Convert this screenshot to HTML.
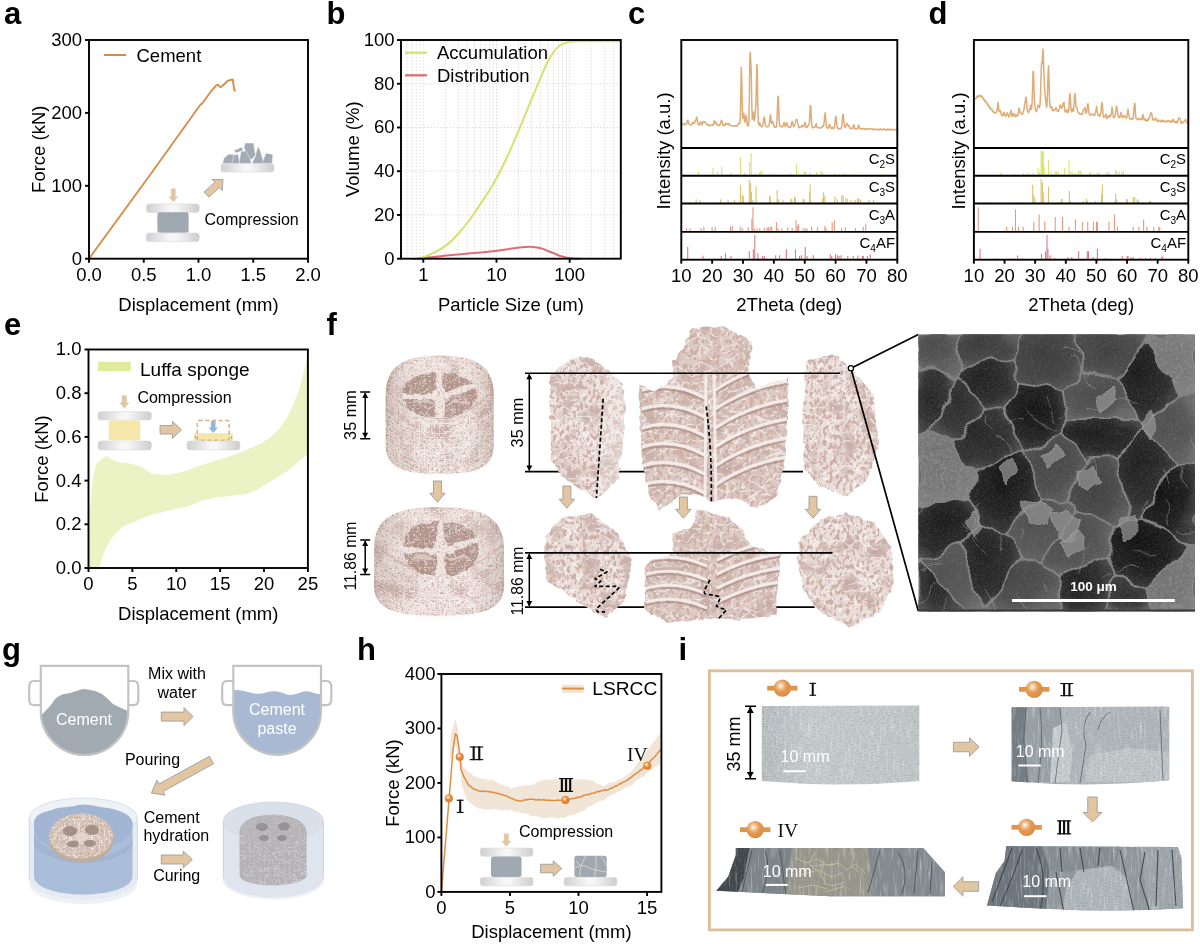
<!DOCTYPE html>
<html><head><meta charset="utf-8"><style>
html,body{margin:0;padding:0;background:#fff;width:1200px;height:944px;overflow:hidden}
svg{display:block;will-change:transform}
text{font-family:"Liberation Sans",sans-serif}
</style></head><body>
<svg width="1200" height="944" viewBox="0 0 1200 944">
<defs>
<linearGradient id="plg" x1="0" x2="1" y1="0" y2="0"><stop offset="0" stop-color="#cfcfcf"/><stop offset="0.45" stop-color="#f7f7f7"/><stop offset="0.55" stop-color="#f7f7f7"/><stop offset="1" stop-color="#cdcdcd"/></linearGradient>
<radialGradient id="ballg" cx="0.4" cy="0.36" r="0.62"><stop offset="0" stop-color="#fffaf3"/><stop offset="0.28" stop-color="#f6c08a"/><stop offset="0.5" stop-color="#ec8a3a"/><stop offset="1" stop-color="#e27a2c"/></radialGradient>
<filter id="fTexL" x="0" y="0" width="100%" height="100%"><feTurbulence type="fractalNoise" baseFrequency="0.9" numOctaves="2" seed="3"/><feColorMatrix type="matrix" values="0 0 0 0 0.62  0 0 0 0 0.52  0 0 0 0 0.49  0 0 0 -1.6 1.25"/></filter>
<pattern id="luffaTex" patternUnits="userSpaceOnUse" width="300" height="300"><rect width="300" height="300" fill="#d9cbc0"/><rect width="300" height="300" filter="url(#fTexL)"/></pattern>
<filter id="fTexG" x="0" y="0" width="100%" height="100%"><feTurbulence type="fractalNoise" baseFrequency="0.9" numOctaves="2" seed="5"/><feColorMatrix type="matrix" values="0 0 0 0 0.45  0 0 0 0 0.44  0 0 0 0 0.45  0 0 0 -1.6 1.25"/></filter>
<pattern id="greyTex" patternUnits="userSpaceOnUse" width="300" height="300"><rect width="300" height="300" fill="#b3afb1"/><rect width="300" height="300" filter="url(#fTexG)"/></pattern>
<radialGradient id="ballg2" cx="0.4" cy="0.36" r="0.62"><stop offset="0" stop-color="#fffaf3"/><stop offset="0.25" stop-color="#f3c79a"/><stop offset="0.55" stop-color="#e39a52"/><stop offset="1" stop-color="#dc8d45"/></radialGradient>
<filter id="fTexC" x="0" y="0" width="100%" height="100%"><feTurbulence type="fractalNoise" baseFrequency="0.35 0.9" numOctaves="3" seed="8"/><feColorMatrix type="matrix" values="0 0 0 0 0.2  0 0 0 0 0.22  0 0 0 0 0.24  0 0 0 -2.2 1.3"/></filter>
<pattern id="concTex" patternUnits="userSpaceOnUse" width="500" height="300"><rect width="500" height="300" filter="url(#fTexC)"/></pattern>
<linearGradient id="g1" x1="0" x2="1"><stop offset="0" stop-color="#b9bfc2"/><stop offset="0.3" stop-color="#c9cfd1"/><stop offset="1" stop-color="#c3c9cb"/></linearGradient>
<linearGradient id="g2" x1="0" x2="1"><stop offset="0" stop-color="#8e979d"/><stop offset="0.15" stop-color="#a9b2b7"/><stop offset="0.5" stop-color="#b9c1c5"/><stop offset="1" stop-color="#bcc4c7"/></linearGradient>
<linearGradient id="g3" x1="0" x2="1"><stop offset="0" stop-color="#7e878d"/><stop offset="0.4" stop-color="#959ea3"/><stop offset="0.7" stop-color="#a2aaae"/><stop offset="1" stop-color="#8f989d"/></linearGradient>
<linearGradient id="g4" x1="0" x2="1"><stop offset="0" stop-color="#6f767b"/><stop offset="0.3" stop-color="#8c9397"/><stop offset="0.6" stop-color="#98999a"/><stop offset="1" stop-color="#7f878c"/></linearGradient>
<filter id="fDark" x="0" y="0" width="1" height="1"><feTurbulence type="turbulence" baseFrequency="0.22" numOctaves="2" seed="2"/><feColorMatrix type="matrix" values="0 0 0 0 0.58  0 0 0 0 0.44  0 0 0 0 0.42  5.5 0 0 0 -1.2"/><feComposite in2="SourceAlpha" operator="in"/></filter>
<filter id="fLight" x="0" y="0" width="1" height="1"><feTurbulence type="turbulence" baseFrequency="0.14 0.2" numOctaves="2" seed="7"/><feColorMatrix type="matrix" values="0 0 0 0 0.97  0 0 0 0 0.95  0 0 0 0 0.94  -8 0 0 0 1.3"/><feComposite in2="SourceAlpha" operator="in"/></filter>
<linearGradient id="cylShade" x1="0" x2="1" y1="0" y2="0"><stop offset="0" stop-color="#7a5a52" stop-opacity="0.25"/><stop offset="0.3" stop-color="#7a5a52" stop-opacity="0"/><stop offset="0.75" stop-color="#7a5a52" stop-opacity="0"/><stop offset="1" stop-color="#7a5a52" stop-opacity="0.25"/></linearGradient>
<radialGradient id="semCell" cx="0.5" cy="0.5" r="0.62" fx="0.4" fy="0.62"><stop offset="0" stop-color="#0c0c0c"/><stop offset="0.5" stop-color="#1e1e1e"/><stop offset="0.8" stop-color="#3c3c3c"/><stop offset="1" stop-color="#686868"/></radialGradient>
<filter id="fDeb" x="-0.2" y="-0.2" width="1.4" height="1.4"><feTurbulence type="fractalNoise" baseFrequency="0.15" numOctaves="3" seed="4" result="n"/><feDisplacementMap in="SourceGraphic" in2="n" scale="10"/></filter>
<filter id="fGrain" x="0" y="0" width="1" height="1"><feTurbulence type="fractalNoise" baseFrequency="0.6" numOctaves="2" seed="9"/><feColorMatrix type="matrix" values="0 0 0 0 0.5  0 0 0 0 0.5  0 0 0 0 0.5  1.2 0 0 0 -0.45"/><feComposite in2="SourceAlpha" operator="in"/></filter>
<filter id="fDarkG" x="0" y="0" width="1" height="1"><feTurbulence type="turbulence" baseFrequency="0.25" numOctaves="2" seed="12"/><feColorMatrix type="matrix" values="0 0 0 0 0.45  0 0 0 0 0.43  0 0 0 0 0.45  5.5 0 0 0 -1.2"/><feComposite in2="SourceAlpha" operator="in"/></filter>
<filter id="fLightG" x="0" y="0" width="1" height="1"><feTurbulence type="turbulence" baseFrequency="0.16 0.22" numOctaves="2" seed="17"/><feColorMatrix type="matrix" values="0 0 0 0 0.82  0 0 0 0 0.81  0 0 0 0 0.82  -8 0 0 0 1.3"/><feComposite in2="SourceAlpha" operator="in"/></filter>
<filter id="fDebTex" x="0" y="0" width="1" height="1"><feTurbulence type="fractalNoise" baseFrequency="0.35" numOctaves="3" seed="14"/><feColorMatrix type="matrix" values="0 0 0 0 0.35  0 0 0 0 0.35  0 0 0 0 0.35  2.2 0 0 0 -0.95"/><feComposite in2="SourceAlpha" operator="in"/></filter>
<filter id="fWarp" x="-0.05" y="-0.05" width="1.1" height="1.1"><feTurbulence type="fractalNoise" baseFrequency="0.035" numOctaves="2" seed="6" result="w"/><feDisplacementMap in="SourceGraphic" in2="w" scale="18" xChannelSelector="R" yChannelSelector="G"/></filter>
<filter id="fHoles" x="0" y="0" width="1" height="1"><feTurbulence type="fractalNoise" baseFrequency="0.3 0.2" numOctaves="2" seed="2"/><feColorMatrix type="matrix" values="0 0 0 0 0.62  0 0 0 0 0.43  0 0 0 0 0.39  10 0 0 0 -5.0"/><feComposite in2="SourceAlpha" operator="in"/></filter>
<filter id="fShade" x="0" y="0" width="1" height="1"><feTurbulence type="fractalNoise" baseFrequency="0.05" numOctaves="2" seed="5"/><feColorMatrix type="matrix" values="0 0 0 0 0.55  0 0 0 0 0.40  0 0 0 0 0.37  3 0 0 0 -1.4"/><feComposite in2="SourceAlpha" operator="in"/></filter>
<filter id="fStr" x="0" y="0" width="1" height="1"><feTurbulence type="turbulence" baseFrequency="0.09 0.12" numOctaves="2" seed="9"/><feColorMatrix type="matrix" values="0 0 0 0 0.99  0 0 0 0 0.98  0 0 0 0 0.98  -10 0 0 0 1.6"/><feComposite in2="SourceAlpha" operator="in"/></filter>
<filter id="fStreak" x="0" y="0" width="1" height="1"><feTurbulence type="fractalNoise" baseFrequency="0.45 0.05" numOctaves="2" seed="21"/><feColorMatrix type="matrix" values="0 0 0 0 0.92  0 0 0 0 0.94  0 0 0 0 0.95  2.6 0 0 0 -1.35"/><feComposite in2="SourceAlpha" operator="in"/></filter>
<filter id="fHolesF" x="0" y="0" width="1" height="1"><feTurbulence type="fractalNoise" baseFrequency="0.5 0.4" numOctaves="2" seed="3"/><feColorMatrix type="matrix" values="0 0 0 0 0.60  0 0 0 0 0.42  0 0 0 0 0.38  8 0 0 0 -4.4"/><feComposite in2="SourceAlpha" operator="in"/></filter>
<filter id="fStrF" x="0" y="0" width="1" height="1"><feTurbulence type="turbulence" baseFrequency="0.2 0.25" numOctaves="2" seed="13"/><feColorMatrix type="matrix" values="0 0 0 0 0.99  0 0 0 0 0.98  0 0 0 0 0.98  -10 0 0 0 1.7"/><feComposite in2="SourceAlpha" operator="in"/></filter>
<filter id="fHolesG" x="0" y="0" width="1" height="1"><feTurbulence type="fractalNoise" baseFrequency="0.5 0.4" numOctaves="2" seed="8"/><feColorMatrix type="matrix" values="0 0 0 0 0.52  0 0 0 0 0.50  0 0 0 0 0.52  8 0 0 0 -4.3"/><feComposite in2="SourceAlpha" operator="in"/></filter>
<filter id="fWarpS" x="-0.1" y="-0.1" width="1.2" height="1.2"><feTurbulence type="fractalNoise" baseFrequency="0.12" numOctaves="2" seed="3" result="w"/><feDisplacementMap in="SourceGraphic" in2="w" scale="6" xChannelSelector="R" yChannelSelector="G"/></filter>

</defs>
<text x="4.00" y="24.00" font-size="31" text-anchor="start" fill="#000" font-weight="bold" >a</text><polyline points="89.00,258.70 150.00,175.00 200.00,105.30 202.70,102.70 210.00,92.70 216.00,85.70 218.00,84.70 220.00,87.00 221.30,86.70 228.00,80.70 232.70,79.50 234.30,90.00 235.30,91.30" fill="none" stroke="#d58f4a" stroke-width="1.9" stroke-linejoin="round"/><line x1="104" y1="55" x2="126" y2="55" stroke="#d28c46" stroke-width="2"/><text x="136.50" y="61.60" font-size="18.5" text-anchor="start" fill="#000" >Cement</text><rect x="146.40" y="203.90" width="52.80" height="8.50" rx="2.55" fill="url(#plg)" stroke="#d9d9d9" stroke-width="0.6"/><rect x="157.4" y="212.2" width="31.2" height="20.5" rx="2.5" fill="#a0a8b1"/><rect x="146.40" y="233.00" width="52.80" height="8.60" rx="2.58" fill="url(#plg)" stroke="#d9d9d9" stroke-width="0.6"/><polygon points="171.20,188.80 171.20,196.50 168.80,196.50 173.30,202.00 177.80,196.50 175.40,196.50 175.40,188.80" fill="#e2c6a2" stroke="#e2c6a2" stroke-width="0.3" stroke-linejoin="miter"/><polygon points="208.85,197.10 219.41,187.56 222.09,190.53 223.00,179.60 212.04,179.40 214.72,182.36 204.15,191.90" fill="#e2c6a2" stroke="#9d9d9d" stroke-width="0.9" stroke-linejoin="miter"/><rect x="221.00" y="163.60" width="52.90" height="8.40" rx="2.52" fill="url(#plg)" stroke="#d9d9d9" stroke-width="0.6"/><polygon points="222.50,163.50 224.00,158.00 229.00,154.00 234.00,154.50 233.00,163.50" fill="#a2abb4" stroke="#f4f4f4" stroke-width="0.5"/><polygon points="232.00,163.50 234.00,155.00 238.00,154.00 240.00,163.50" fill="#a2abb4" stroke="#f4f4f4" stroke-width="0.5"/><polygon points="234.00,150.50 242.00,147.00 243.00,150.50 236.00,153.00" fill="#a2abb4" stroke="#f4f4f4" stroke-width="0.5"/><polygon points="239.00,163.50 241.00,151.50 249.00,150.50 251.00,163.50" fill="#a2abb4" stroke="#f4f4f4" stroke-width="0.5"/><polygon points="244.00,148.00 245.00,143.00 253.50,143.00 255.50,155.00 251.00,160.00" fill="#a2abb4" stroke="#f4f4f4" stroke-width="0.5"/><polygon points="252.00,163.50 255.00,157.00 258.00,146.00 260.00,150.00 263.00,160.00 266.00,163.50" fill="#a2abb4" stroke="#f4f4f4" stroke-width="0.5"/><polygon points="262.00,163.50 266.00,153.00 273.00,154.50 272.00,163.50" fill="#a2abb4" stroke="#f4f4f4" stroke-width="0.5"/><text x="204.50" y="224.90" font-size="16" text-anchor="start" fill="#000" >Compression</text><rect x="89" y="40" width="219.00" height="218.70" fill="none" stroke="#000" stroke-width="1.9"/><line x1="89.00" y1="258.7" x2="89.00" y2="262.7" stroke="#000" stroke-width="1.9"/><text x="89.00" y="280.50" font-size="18.5" text-anchor="middle" fill="#000" >0.0</text><line x1="143.75" y1="258.7" x2="143.75" y2="262.7" stroke="#000" stroke-width="1.9"/><text x="143.75" y="280.50" font-size="18.5" text-anchor="middle" fill="#000" >0.5</text><line x1="198.50" y1="258.7" x2="198.50" y2="262.7" stroke="#000" stroke-width="1.9"/><text x="198.50" y="280.50" font-size="18.5" text-anchor="middle" fill="#000" >1.0</text><line x1="253.25" y1="258.7" x2="253.25" y2="262.7" stroke="#000" stroke-width="1.9"/><text x="253.25" y="280.50" font-size="18.5" text-anchor="middle" fill="#000" >1.5</text><line x1="308.00" y1="258.7" x2="308.00" y2="262.7" stroke="#000" stroke-width="1.9"/><text x="308.00" y="280.50" font-size="18.5" text-anchor="middle" fill="#000" >2.0</text><line x1="85" y1="258.70" x2="89" y2="258.70" stroke="#000" stroke-width="1.9"/><text x="82.00" y="264.60" font-size="18.5" text-anchor="end" fill="#000" >0</text><line x1="85" y1="185.80" x2="89" y2="185.80" stroke="#000" stroke-width="1.9"/><text x="82.00" y="191.70" font-size="18.5" text-anchor="end" fill="#000" >100</text><line x1="85" y1="112.90" x2="89" y2="112.90" stroke="#000" stroke-width="1.9"/><text x="82.00" y="118.80" font-size="18.5" text-anchor="end" fill="#000" >200</text><line x1="85" y1="40.00" x2="89" y2="40.00" stroke="#000" stroke-width="1.9"/><text x="82.00" y="45.90" font-size="18.5" text-anchor="end" fill="#000" >300</text><text x="198.50" y="310.50" font-size="18.5" text-anchor="middle" fill="#000" >Displacement (mm)</text><text transform="translate(44.80,149.20) rotate(-90)" font-size="18.5" text-anchor="middle" fill="#000" >Force (kN)</text><text x="326.50" y="24.00" font-size="31" text-anchor="start" fill="#000" font-weight="bold" >b</text><g stroke="#cdcdcd" stroke-width="0.8" stroke-dasharray="1.2,2"><line x1="407.06" y1="41" x2="407.06" y2="257.7"/><line x1="411.96" y1="41" x2="411.96" y2="257.7"/><line x1="416.21" y1="41" x2="416.21" y2="257.7"/><line x1="419.95" y1="41" x2="419.95" y2="257.7"/><line x1="423.30" y1="41" x2="423.30" y2="257.7"/><line x1="445.34" y1="41" x2="445.34" y2="257.7"/><line x1="458.23" y1="41" x2="458.23" y2="257.7"/><line x1="467.37" y1="41" x2="467.37" y2="257.7"/><line x1="474.46" y1="41" x2="474.46" y2="257.7"/><line x1="480.26" y1="41" x2="480.26" y2="257.7"/><line x1="485.16" y1="41" x2="485.16" y2="257.7"/><line x1="489.41" y1="41" x2="489.41" y2="257.7"/><line x1="493.15" y1="41" x2="493.15" y2="257.7"/><line x1="496.50" y1="41" x2="496.50" y2="257.7"/><line x1="518.54" y1="41" x2="518.54" y2="257.7"/><line x1="531.43" y1="41" x2="531.43" y2="257.7"/><line x1="540.57" y1="41" x2="540.57" y2="257.7"/><line x1="547.66" y1="41" x2="547.66" y2="257.7"/><line x1="553.46" y1="41" x2="553.46" y2="257.7"/><line x1="558.36" y1="41" x2="558.36" y2="257.7"/><line x1="562.61" y1="41" x2="562.61" y2="257.7"/><line x1="566.35" y1="41" x2="566.35" y2="257.7"/><line x1="569.70" y1="41" x2="569.70" y2="257.7"/><line x1="591.74" y1="41" x2="591.74" y2="257.7"/><line x1="604.63" y1="41" x2="604.63" y2="257.7"/><line x1="613.77" y1="41" x2="613.77" y2="257.7"/><line x1="402" y1="214.96" x2="619.8" y2="214.96"/><line x1="402" y1="171.22" x2="619.8" y2="171.22"/><line x1="402" y1="127.48" x2="619.8" y2="127.48"/><line x1="402" y1="83.74" x2="619.8" y2="83.74"/></g><path d="M412.00,258.90 C413.30,258.87 416.80,258.97 419.80,258.70 C422.80,258.43 425.53,257.82 430.00,257.30 C434.47,256.78 439.95,256.27 446.60,255.60 C453.25,254.93 461.73,254.07 469.90,253.30 C478.07,252.53 488.60,251.78 495.60,251.00 C502.60,250.22 507.50,249.23 511.90,248.60 C516.30,247.97 518.90,247.50 522.00,247.20 C525.10,246.90 528.00,246.77 530.50,246.80 C533.00,246.83 535.05,247.10 537.00,247.40 C538.95,247.70 540.37,248.00 542.20,248.60 C544.03,249.20 546.07,250.22 548.00,251.00 C549.93,251.78 551.47,252.38 553.80,253.30 C556.13,254.22 559.30,255.68 562.00,256.50 C564.70,257.32 567.00,257.83 570.00,258.20 C573.00,258.57 578.33,258.62 580.00,258.70" fill="none" stroke="#de6d72" stroke-width="2"/><path d="M415.00,258.70 C415.80,258.58 417.30,258.70 419.80,258.00 C422.30,257.30 425.53,256.65 430.00,254.50 C434.47,252.35 441.93,248.52 446.60,245.10 C451.27,241.68 454.12,238.27 458.00,234.00 C461.88,229.73 465.73,225.17 469.90,219.50 C474.07,213.83 478.72,206.60 483.00,200.00 C487.28,193.40 491.43,187.40 495.60,179.90 C499.77,172.40 503.93,163.75 508.00,155.00 C512.07,146.25 516.33,136.07 520.00,127.40 C523.67,118.73 526.68,110.97 530.00,103.00 C533.32,95.03 537.07,86.27 539.90,79.60 C542.73,72.93 544.68,67.65 547.00,63.00 C549.32,58.35 551.63,54.62 553.80,51.70 C555.97,48.78 557.67,47.07 560.00,45.50 C562.33,43.93 564.97,43.02 567.80,42.30 C570.63,41.58 568.30,41.38 577.00,41.20 C585.70,41.02 612.83,41.20 620.00,41.20" fill="none" stroke="#d5e36d" stroke-width="2"/><line x1="405" y1="52.7" x2="427" y2="52.7" stroke="#d5e36d" stroke-width="2.2"/><line x1="405" y1="75.3" x2="427" y2="75.3" stroke="#de6d72" stroke-width="2.2"/><text x="437.00" y="59.30" font-size="18.5" text-anchor="start" fill="#000" >Accumulation</text><text x="437.00" y="81.90" font-size="18.5" text-anchor="start" fill="#000" >Distribution</text><rect x="401" y="40" width="219.80" height="218.70" fill="none" stroke="#000" stroke-width="1.9"/><line x1="423.30" y1="258.7" x2="423.30" y2="262.7" stroke="#000" stroke-width="1.9"/><text x="423.30" y="280.50" font-size="18.5" text-anchor="middle" fill="#000" >1</text><line x1="496.50" y1="258.7" x2="496.50" y2="262.7" stroke="#000" stroke-width="1.9"/><text x="496.50" y="280.50" font-size="18.5" text-anchor="middle" fill="#000" >10</text><line x1="569.70" y1="258.7" x2="569.70" y2="262.7" stroke="#000" stroke-width="1.9"/><text x="569.70" y="280.50" font-size="18.5" text-anchor="middle" fill="#000" >100</text><line x1="397" y1="258.70" x2="401" y2="258.70" stroke="#000" stroke-width="1.9"/><text x="394.50" y="264.60" font-size="18.5" text-anchor="end" fill="#000" >0</text><line x1="397" y1="214.96" x2="401" y2="214.96" stroke="#000" stroke-width="1.9"/><text x="394.50" y="220.86" font-size="18.5" text-anchor="end" fill="#000" >20</text><line x1="397" y1="171.22" x2="401" y2="171.22" stroke="#000" stroke-width="1.9"/><text x="394.50" y="177.12" font-size="18.5" text-anchor="end" fill="#000" >40</text><line x1="397" y1="127.48" x2="401" y2="127.48" stroke="#000" stroke-width="1.9"/><text x="394.50" y="133.38" font-size="18.5" text-anchor="end" fill="#000" >60</text><line x1="397" y1="83.74" x2="401" y2="83.74" stroke="#000" stroke-width="1.9"/><text x="394.50" y="89.64" font-size="18.5" text-anchor="end" fill="#000" >80</text><line x1="397" y1="40.00" x2="401" y2="40.00" stroke="#000" stroke-width="1.9"/><text x="394.50" y="45.90" font-size="18.5" text-anchor="end" fill="#000" >100</text><text x="510.90" y="310.50" font-size="18.5" text-anchor="middle" fill="#000" >Particle Size (um)</text><text transform="translate(358.50,149.20) rotate(-90)" font-size="18.5" text-anchor="middle" fill="#000" >Volume (%)</text><text x="628.00" y="24.00" font-size="31" text-anchor="start" fill="#000" font-weight="bold" >c</text><polyline points="681.80,124.00 682.30,124.38 682.80,124.18 683.30,124.48 683.80,124.51 684.30,123.86 684.80,123.80 685.30,124.81 685.80,124.09 686.30,123.80 686.80,123.52 687.30,120.68 687.80,120.27 688.30,121.62 688.80,123.79 689.30,123.95 689.80,124.67 690.30,124.97 690.80,124.57 691.30,124.84 691.80,124.65 692.30,123.14 692.80,122.46 693.30,122.31 693.80,123.44 694.30,123.22 694.80,122.24 695.30,120.27 695.80,120.44 696.30,118.34 696.80,117.06 697.30,120.09 697.80,122.73 698.30,124.73 698.80,124.59 699.30,124.90 699.80,123.81 700.30,121.66 700.80,121.90 701.30,123.32 701.80,125.05 702.30,124.22 702.80,123.12 703.30,121.44 703.80,122.19 704.30,122.46 704.80,121.70 705.30,121.76 705.80,122.60 706.30,123.97 706.80,123.77 707.30,124.55 707.80,125.16 708.30,125.55 708.80,125.20 709.30,124.61 709.80,125.46 710.30,125.60 710.80,125.54 711.30,125.15 711.80,125.33 712.30,124.74 712.80,125.46 713.30,124.70 713.80,122.58 714.30,120.81 714.80,122.95 715.30,123.72 715.80,122.05 716.30,123.92 716.80,124.72 717.30,124.77 717.80,124.98 718.30,125.56 718.80,125.70 719.30,124.71 719.80,125.29 720.30,123.83 720.80,122.67 721.30,120.28 721.80,120.64 722.30,122.58 722.80,124.21 723.30,125.76 723.80,125.14 724.30,124.87 724.80,125.40 725.30,124.23 725.80,123.51 726.30,123.42 726.80,124.39 727.30,124.51 727.80,124.06 728.30,124.16 728.80,123.39 729.30,125.06 729.80,125.74 730.30,125.36 730.80,125.51 731.30,125.60 731.80,125.76 732.30,125.71 732.80,125.68 733.30,125.77 733.80,126.17 734.30,125.66 734.80,125.58 735.30,125.94 735.80,125.37 736.30,125.46 736.80,126.29 737.30,125.74 737.80,125.59 738.30,123.96 738.80,123.05 739.30,123.75 739.80,123.72 740.30,117.70 740.80,93.11 741.30,67.51 741.80,81.24 742.30,109.39 742.80,118.28 743.30,113.65 743.80,113.37 744.30,119.21 744.80,122.23 745.30,119.73 745.80,115.26 746.30,116.54 746.80,121.44 747.30,125.05 747.80,126.01 748.30,125.57 748.80,121.87 749.30,99.06 749.80,58.52 750.30,52.32 750.80,62.49 751.30,75.31 751.80,106.20 752.30,119.34 752.80,116.16 753.30,112.29 753.80,116.21 754.30,120.77 754.80,118.57 755.30,111.39 755.80,106.88 756.30,91.34 756.80,64.56 757.30,69.90 757.80,103.58 758.30,121.98 758.80,125.31 759.30,122.89 759.80,122.91 760.30,124.30 760.80,125.88 761.30,126.50 761.80,126.80 762.30,126.18 762.80,125.15 763.30,122.46 763.80,119.13 764.30,116.97 764.80,120.43 765.30,124.70 765.80,125.77 766.30,126.18 766.80,126.85 767.30,126.66 767.80,126.87 768.30,126.30 768.80,125.75 769.30,124.10 769.80,119.77 770.30,114.68 770.80,116.91 771.30,122.13 771.80,123.42 772.30,121.47 772.80,121.81 773.30,123.38 773.80,125.30 774.30,127.10 774.80,127.13 775.30,127.28 775.80,126.61 776.30,126.90 776.80,124.12 777.30,112.98 777.80,98.23 778.30,96.27 778.80,110.44 779.30,122.40 779.80,125.96 780.30,126.59 780.80,126.51 781.30,126.33 781.80,126.96 782.30,126.56 782.80,126.79 783.30,124.33 783.80,123.05 784.30,122.50 784.80,124.93 785.30,126.50 785.80,126.06 786.30,123.87 786.80,122.47 787.30,124.88 787.80,125.88 788.30,126.67 788.80,127.22 789.30,127.08 789.80,126.96 790.30,127.56 790.80,126.82 791.30,124.92 791.80,121.91 792.30,121.52 792.80,123.39 793.30,126.32 793.80,126.60 794.30,125.92 794.80,124.70 795.30,122.63 795.80,119.94 796.30,119.74 796.80,119.37 797.30,120.27 797.80,123.41 798.30,125.29 798.80,127.21 799.30,127.72 799.80,126.78 800.30,127.05 800.80,127.03 801.30,127.00 801.80,125.82 802.30,125.35 802.80,126.72 803.30,126.53 803.80,126.20 804.30,124.48 804.80,122.31 805.30,122.57 805.80,126.00 806.30,127.43 806.80,126.93 807.30,127.35 807.80,126.23 808.30,124.67 808.80,124.61 809.30,123.84 809.80,115.89 810.30,105.57 810.80,106.85 811.30,117.91 811.80,124.96 812.30,127.45 812.80,127.89 813.30,127.52 813.80,127.17 814.30,127.29 814.80,127.39 815.30,126.59 815.80,124.45 816.30,123.75 816.80,126.61 817.30,127.69 817.80,127.68 818.30,127.64 818.80,127.80 819.30,128.06 819.80,127.73 820.30,128.07 820.80,127.80 821.30,127.51 821.80,127.52 822.30,126.77 822.80,125.67 823.30,126.43 823.80,124.60 824.30,120.55 824.80,114.97 825.30,112.79 825.80,119.63 826.30,125.77 826.80,127.34 827.30,127.95 827.80,127.56 828.30,128.19 828.80,126.69 829.30,124.56 829.80,124.71 830.30,127.01 830.80,128.22 831.30,128.19 831.80,127.66 832.30,128.25 832.80,127.56 833.30,127.74 833.80,128.48 834.30,127.21 834.80,125.02 835.30,119.35 835.80,116.12 836.30,119.12 836.80,124.84 837.30,128.22 837.80,127.79 838.30,128.71 838.80,128.52 839.30,128.73 839.80,128.88 840.30,128.44 840.80,128.68 841.30,127.42 841.80,126.22 842.30,120.29 842.80,114.84 843.30,114.23 843.80,119.95 844.30,125.37 844.80,126.95 845.30,127.34 845.80,125.61 846.30,124.13 846.80,123.34 847.30,123.86 847.80,125.44 848.30,126.24 848.80,125.63 849.30,126.33 849.80,127.91 850.30,128.43 850.80,128.43 851.30,128.53 851.80,128.14 852.30,128.58 852.80,128.49 853.30,125.68 853.80,124.84 854.30,126.11 854.80,128.52 855.30,129.01 855.80,128.95 856.30,128.78 856.80,128.73 857.30,128.73 857.80,128.19 858.30,125.73 858.80,125.06 859.30,127.12 859.80,128.73 860.30,128.78 860.80,128.80 861.30,129.15 861.80,128.52 862.30,128.63 862.80,128.56 863.30,129.04 863.80,128.72 864.30,128.64 864.80,129.20 865.30,129.53 865.80,128.75 866.30,129.26 866.80,128.92 867.30,129.46 867.80,129.15 868.30,128.78 868.80,128.74 869.30,128.51 869.80,129.08 870.30,128.97 870.80,128.73 871.30,128.97 871.80,128.94 872.30,129.49 872.80,128.75 873.30,129.78 873.80,129.18 874.30,129.33 874.80,129.19 875.30,129.64 875.80,129.64 876.30,129.33 876.80,129.26 877.30,129.56 877.80,129.73 878.30,129.20 878.80,129.61 879.30,129.89 879.80,129.32 880.30,129.04 880.80,129.06 881.30,129.65 881.80,129.62 882.30,129.97 882.80,129.86 883.30,129.13 883.80,129.08 884.30,129.18 884.80,129.11 885.30,129.74 885.80,129.94 886.30,130.00 886.80,129.24 887.30,129.98 887.80,129.33 888.30,129.48 888.80,129.86 889.30,129.10 889.80,129.12 890.30,130.02 890.80,129.38 891.30,129.48 891.80,129.76 892.30,129.88 892.80,129.09 893.30,129.50 893.80,129.63 894.30,129.71 894.80,129.39 895.30,129.85 895.80,130.31 896.30,129.64 896.80,129.84" fill="none" stroke="#dfac76" stroke-width="1.5" stroke-linejoin="round"/><g stroke="#d6e474" stroke-width="1.1"><line x1="698.33" y1="175.80" x2="698.33" y2="171.67"/><line x1="713.00" y1="175.80" x2="713.00" y2="168.00"/><line x1="717.58" y1="175.80" x2="717.58" y2="171.67"/><line x1="721.80" y1="175.80" x2="721.80" y2="167.08"/><line x1="730.97" y1="175.80" x2="730.97" y2="172.22"/><line x1="740.50" y1="175.80" x2="740.50" y2="157.92"/><line x1="745.08" y1="175.80" x2="745.08" y2="172.22"/><line x1="749.67" y1="175.80" x2="749.67" y2="161.58"/><line x1="751.13" y1="175.80" x2="751.13" y2="152.97"/><line x1="755.53" y1="175.80" x2="755.53" y2="173.13"/><line x1="759.20" y1="175.80" x2="759.20" y2="172.22"/><line x1="760.67" y1="175.80" x2="760.67" y2="171.30"/><line x1="762.13" y1="175.80" x2="762.13" y2="170.75"/><line x1="769.47" y1="175.80" x2="769.47" y2="173.50"/><line x1="773.13" y1="175.80" x2="773.13" y2="173.87"/><line x1="788.17" y1="175.80" x2="788.17" y2="173.87"/><line x1="791.47" y1="175.80" x2="791.47" y2="173.87"/><line x1="796.42" y1="175.80" x2="796.42" y2="164.33"/><line x1="798.25" y1="175.80" x2="798.25" y2="172.58"/><line x1="804.30" y1="175.80" x2="804.30" y2="171.30"/><line x1="805.58" y1="175.80" x2="805.58" y2="172.03"/><line x1="809.80" y1="175.80" x2="809.80" y2="172.22"/><line x1="816.58" y1="175.80" x2="816.58" y2="172.03"/><line x1="821.17" y1="175.80" x2="821.17" y2="170.75"/><line x1="822.63" y1="175.80" x2="822.63" y2="172.58"/><line x1="834.92" y1="175.80" x2="834.92" y2="173.13"/><line x1="839.50" y1="175.80" x2="839.50" y2="173.87"/><line x1="844.08" y1="175.80" x2="844.08" y2="173.50"/><line x1="845.92" y1="175.80" x2="845.92" y2="173.87"/><line x1="854.17" y1="175.80" x2="854.17" y2="173.87"/><line x1="882.59" y1="175.80" x2="882.59" y2="173.87"/></g><g stroke="#d9c46e" stroke-width="1.1"><line x1="696.13" y1="203.50" x2="696.13" y2="199.17"/><line x1="699.80" y1="203.50" x2="699.80" y2="200.08"/><line x1="720.70" y1="203.50" x2="720.70" y2="199.17"/><line x1="728.03" y1="203.50" x2="728.03" y2="199.72"/><line x1="734.63" y1="203.50" x2="734.63" y2="200.08"/><line x1="740.50" y1="203.50" x2="740.50" y2="184.87"/><line x1="742.33" y1="203.50" x2="742.33" y2="195.13"/><line x1="743.25" y1="203.50" x2="743.25" y2="195.87"/><line x1="749.30" y1="203.50" x2="749.30" y2="179.92"/><line x1="750.58" y1="203.50" x2="750.58" y2="182.67"/><line x1="751.50" y1="203.50" x2="751.50" y2="191.83"/><line x1="752.97" y1="203.50" x2="752.97" y2="200.08"/><line x1="756.08" y1="203.50" x2="756.08" y2="186.33"/><line x1="769.47" y1="203.50" x2="769.47" y2="196.42"/><line x1="770.20" y1="203.50" x2="770.20" y2="195.50"/><line x1="777.17" y1="203.50" x2="777.17" y2="190.00"/><line x1="778.63" y1="203.50" x2="778.63" y2="199.17"/><line x1="783.03" y1="203.50" x2="783.03" y2="200.08"/><line x1="790.92" y1="203.50" x2="790.92" y2="199.17"/><line x1="791.83" y1="203.50" x2="791.83" y2="198.80"/><line x1="794.58" y1="203.50" x2="794.58" y2="196.42"/><line x1="795.50" y1="203.50" x2="795.50" y2="198.25"/><line x1="803.20" y1="203.50" x2="803.20" y2="198.80"/><line x1="804.30" y1="203.50" x2="804.30" y2="199.53"/><line x1="809.43" y1="203.50" x2="809.43" y2="192.20"/><line x1="810.17" y1="203.50" x2="810.17" y2="184.50"/><line x1="822.63" y1="203.50" x2="822.63" y2="198.80"/><line x1="823.55" y1="203.50" x2="823.55" y2="192.20"/><line x1="824.83" y1="203.50" x2="824.83" y2="195.50"/><line x1="834.92" y1="203.50" x2="834.92" y2="196.42"/><line x1="837.30" y1="203.50" x2="837.30" y2="199.17"/><line x1="841.70" y1="203.50" x2="841.70" y2="195.13"/><line x1="843.17" y1="203.50" x2="843.17" y2="195.50"/><line x1="845.92" y1="203.50" x2="845.92" y2="197.70"/><line x1="847.20" y1="203.50" x2="847.20" y2="198.80"/><line x1="850.87" y1="203.50" x2="850.87" y2="200.08"/><line x1="855.08" y1="203.50" x2="855.08" y2="199.72"/><line x1="857.47" y1="203.50" x2="857.47" y2="198.25"/><line x1="858.75" y1="203.50" x2="858.75" y2="198.80"/><line x1="860.58" y1="203.50" x2="860.58" y2="199.17"/><line x1="868.83" y1="203.50" x2="868.83" y2="200.08"/><line x1="873.42" y1="203.50" x2="873.42" y2="200.08"/></g><g stroke="#e39a80" stroke-width="1.1"><line x1="686.42" y1="231.90" x2="686.42" y2="228.22"/><line x1="690.08" y1="231.90" x2="690.08" y2="228.22"/><line x1="701.08" y1="231.90" x2="701.08" y2="228.22"/><line x1="703.83" y1="231.90" x2="703.83" y2="226.75"/><line x1="712.08" y1="231.90" x2="712.08" y2="227.12"/><line x1="715.20" y1="231.90" x2="715.20" y2="227.12"/><line x1="730.42" y1="231.90" x2="730.42" y2="226.75"/><line x1="732.25" y1="231.90" x2="732.25" y2="225.83"/><line x1="740.13" y1="231.90" x2="740.13" y2="226.38"/><line x1="742.33" y1="231.90" x2="742.33" y2="228.22"/><line x1="748.20" y1="231.90" x2="748.20" y2="227.30"/><line x1="751.87" y1="231.90" x2="751.87" y2="218.87"/><line x1="752.97" y1="231.90" x2="752.97" y2="207.13"/><line x1="754.25" y1="231.90" x2="754.25" y2="228.22"/><line x1="757.00" y1="231.90" x2="757.00" y2="228.22"/><line x1="759.75" y1="231.90" x2="759.75" y2="228.22"/><line x1="764.33" y1="231.90" x2="764.33" y2="227.67"/><line x1="767.08" y1="231.90" x2="767.08" y2="227.30"/><line x1="768.37" y1="231.90" x2="768.37" y2="227.30"/><line x1="770.20" y1="231.90" x2="770.20" y2="226.75"/><line x1="771.67" y1="231.90" x2="771.67" y2="226.38"/><line x1="776.43" y1="231.90" x2="776.43" y2="222.17"/><line x1="778.08" y1="231.90" x2="778.08" y2="228.22"/><line x1="781.93" y1="231.90" x2="781.93" y2="228.22"/><line x1="787.80" y1="231.90" x2="787.80" y2="227.30"/><line x1="792.20" y1="231.90" x2="792.20" y2="227.67"/><line x1="796.05" y1="231.90" x2="796.05" y2="219.97"/><line x1="797.33" y1="231.90" x2="797.33" y2="225.83"/><line x1="798.62" y1="231.90" x2="798.62" y2="224.37"/><line x1="803.20" y1="231.90" x2="803.20" y2="228.22"/><line x1="805.22" y1="231.90" x2="805.22" y2="228.22"/><line x1="807.05" y1="231.90" x2="807.05" y2="228.22"/><line x1="811.63" y1="231.90" x2="811.63" y2="226.38"/><line x1="817.50" y1="231.90" x2="817.50" y2="227.30"/><line x1="824.83" y1="231.90" x2="824.83" y2="225.83"/><line x1="826.12" y1="231.90" x2="826.12" y2="228.22"/><line x1="832.17" y1="231.90" x2="832.17" y2="222.17"/><line x1="834.37" y1="231.90" x2="834.37" y2="219.97"/><line x1="841.70" y1="231.90" x2="841.70" y2="227.67"/><line x1="845.37" y1="231.90" x2="845.37" y2="227.30"/><line x1="855.45" y1="231.90" x2="855.45" y2="228.22"/><line x1="863.33" y1="231.90" x2="863.33" y2="226.75"/><line x1="865.72" y1="231.90" x2="865.72" y2="224.37"/></g><g stroke="#df7886" stroke-width="1.1"><line x1="687.70" y1="259.70" x2="687.70" y2="246.92"/><line x1="702.92" y1="259.70" x2="702.92" y2="255.72"/><line x1="721.25" y1="259.70" x2="721.25" y2="256.08"/><line x1="725.47" y1="259.70" x2="725.47" y2="253.33"/><line x1="730.97" y1="259.70" x2="730.97" y2="256.08"/><line x1="749.30" y1="259.70" x2="749.30" y2="251.13"/><line x1="753.33" y1="259.70" x2="753.33" y2="249.30"/><line x1="754.80" y1="259.70" x2="754.80" y2="235.00"/><line x1="757.92" y1="259.70" x2="757.92" y2="253.33"/><line x1="762.50" y1="259.70" x2="762.50" y2="256.27"/><line x1="764.33" y1="259.70" x2="764.33" y2="256.08"/><line x1="775.70" y1="259.70" x2="775.70" y2="255.17"/><line x1="779.55" y1="259.70" x2="779.55" y2="255.17"/><line x1="786.33" y1="259.70" x2="786.33" y2="249.30"/><line x1="795.50" y1="259.70" x2="795.50" y2="249.30"/><line x1="799.53" y1="259.70" x2="799.53" y2="256.08"/><line x1="801.37" y1="259.70" x2="801.37" y2="255.17"/><line x1="805.22" y1="259.70" x2="805.22" y2="246.92"/><line x1="807.05" y1="259.70" x2="807.05" y2="256.08"/><line x1="813.28" y1="259.70" x2="813.28" y2="255.17"/><line x1="830.33" y1="259.70" x2="830.33" y2="254.25"/><line x1="831.80" y1="259.70" x2="831.80" y2="256.08"/><line x1="835.47" y1="259.70" x2="835.47" y2="254.25"/><line x1="837.30" y1="259.70" x2="837.30" y2="255.17"/><line x1="839.13" y1="259.70" x2="839.13" y2="255.72"/><line x1="840.97" y1="259.70" x2="840.97" y2="255.17"/><line x1="847.75" y1="259.70" x2="847.75" y2="256.08"/><line x1="853.25" y1="259.70" x2="853.25" y2="256.08"/><line x1="857.83" y1="259.70" x2="857.83" y2="255.53"/><line x1="862.42" y1="259.70" x2="862.42" y2="256.08"/><line x1="863.33" y1="259.70" x2="863.33" y2="255.72"/><line x1="867.37" y1="259.70" x2="867.37" y2="256.08"/><line x1="870.30" y1="259.70" x2="870.30" y2="254.25"/></g><rect x="681.3" y="40" width="216.00" height="219.70" fill="none" stroke="#000" stroke-width="1.9"/><line x1="681.3" y1="148" x2="897.3" y2="148" stroke="#000" stroke-width="1.9"/><line x1="681.3" y1="175.8" x2="897.3" y2="175.8" stroke="#000" stroke-width="1.9"/><line x1="681.3" y1="203.5" x2="897.3" y2="203.5" stroke="#000" stroke-width="1.9"/><line x1="681.3" y1="231.9" x2="897.3" y2="231.9" stroke="#000" stroke-width="1.9"/><text x="895.00" y="164.30" font-size="14.9" text-anchor="end">C<tspan font-size="10.1" dy="3.5">2</tspan><tspan dy="-3.5">S</tspan></text><text x="895.00" y="192.00" font-size="14.9" text-anchor="end">C<tspan font-size="10.1" dy="3.5">3</tspan><tspan dy="-3.5">S</tspan></text><text x="895.00" y="220.00" font-size="14.9" text-anchor="end">C<tspan font-size="10.1" dy="3.5">3</tspan><tspan dy="-3.5">A</tspan></text><text x="895.00" y="248.20" font-size="14.9" text-anchor="end">C<tspan font-size="10.1" dy="3.5">4</tspan><tspan dy="-3.5">AF</tspan></text><line x1="681.30" y1="259.7" x2="681.30" y2="263.7" stroke="#000" stroke-width="1.9"/><text x="681.30" y="281.50" font-size="18.5" text-anchor="middle" fill="#000" >10</text><line x1="712.16" y1="259.7" x2="712.16" y2="263.7" stroke="#000" stroke-width="1.9"/><text x="712.16" y="281.50" font-size="18.5" text-anchor="middle" fill="#000" >20</text><line x1="743.01" y1="259.7" x2="743.01" y2="263.7" stroke="#000" stroke-width="1.9"/><text x="743.01" y="281.50" font-size="18.5" text-anchor="middle" fill="#000" >30</text><line x1="773.87" y1="259.7" x2="773.87" y2="263.7" stroke="#000" stroke-width="1.9"/><text x="773.87" y="281.50" font-size="18.5" text-anchor="middle" fill="#000" >40</text><line x1="804.73" y1="259.7" x2="804.73" y2="263.7" stroke="#000" stroke-width="1.9"/><text x="804.73" y="281.50" font-size="18.5" text-anchor="middle" fill="#000" >50</text><line x1="835.59" y1="259.7" x2="835.59" y2="263.7" stroke="#000" stroke-width="1.9"/><text x="835.59" y="281.50" font-size="18.5" text-anchor="middle" fill="#000" >60</text><line x1="866.44" y1="259.7" x2="866.44" y2="263.7" stroke="#000" stroke-width="1.9"/><text x="866.44" y="281.50" font-size="18.5" text-anchor="middle" fill="#000" >70</text><line x1="897.30" y1="259.7" x2="897.30" y2="263.7" stroke="#000" stroke-width="1.9"/><text x="897.30" y="281.50" font-size="18.5" text-anchor="middle" fill="#000" >80</text><text x="789.30" y="310.50" font-size="18.5" text-anchor="middle" fill="#000" >2Theta (deg)</text><text transform="translate(669.50,151.00) rotate(-90)" font-size="18.5" text-anchor="middle" fill="#000" >Intensity (a.u.)</text><text x="928.50" y="24.00" font-size="31" text-anchor="start" fill="#000" font-weight="bold" >d</text><polyline points="974.03,98.91 974.53,99.15 975.03,98.92 975.53,98.84 976.03,98.06 976.53,98.05 977.03,95.89 977.53,96.39 978.03,96.97 978.53,96.22 979.03,96.72 979.53,95.14 980.03,95.86 980.53,95.41 981.03,96.05 981.53,96.73 982.03,96.23 982.53,97.27 983.03,98.02 983.53,99.92 984.03,100.24 984.53,99.65 985.03,101.58 985.53,100.93 986.03,102.56 986.53,102.24 987.03,102.66 987.53,105.07 988.03,104.41 988.53,105.09 989.03,107.29 989.53,107.73 990.03,107.23 990.53,109.17 991.03,108.88 991.53,109.72 992.03,109.33 992.53,111.37 993.03,111.43 993.53,112.54 994.03,112.95 994.53,112.32 995.03,112.79 995.53,112.57 996.03,112.66 996.53,112.26 997.03,110.77 997.53,106.64 998.03,102.26 998.53,106.75 999.03,110.92 999.53,111.57 1000.03,110.67 1000.53,111.13 1001.03,113.63 1001.53,115.07 1002.03,115.71 1002.53,114.44 1003.03,115.75 1003.53,112.20 1004.03,112.99 1004.53,114.90 1005.03,114.58 1005.53,116.41 1006.03,115.36 1006.53,114.94 1007.03,112.81 1007.53,113.14 1008.03,114.62 1008.53,116.96 1009.03,115.62 1009.53,116.29 1010.03,114.83 1010.53,112.04 1011.03,110.20 1011.53,113.26 1012.03,115.98 1012.53,116.44 1013.03,113.63 1013.53,113.53 1014.03,114.15 1014.53,115.78 1015.03,114.91 1015.53,116.83 1016.03,115.04 1016.53,115.44 1017.03,115.87 1017.53,116.20 1018.03,113.66 1018.53,111.41 1019.03,108.04 1019.53,109.22 1020.03,112.28 1020.53,113.36 1021.03,113.31 1021.53,113.28 1022.03,114.17 1022.53,114.56 1023.03,112.49 1023.53,110.87 1024.03,109.24 1024.53,104.58 1025.03,102.70 1025.53,99.40 1026.03,96.90 1026.53,101.72 1027.03,108.48 1027.53,111.48 1028.03,111.11 1028.53,112.73 1029.03,110.71 1029.53,110.46 1030.03,108.23 1030.53,105.58 1031.03,108.96 1031.53,109.56 1032.03,103.61 1032.53,89.99 1033.03,71.23 1033.53,72.35 1034.03,88.94 1034.53,103.62 1035.03,107.75 1035.53,109.87 1036.03,111.46 1036.53,111.13 1037.03,110.73 1037.53,107.72 1038.03,105.27 1038.53,105.29 1039.03,106.86 1039.53,107.52 1040.03,104.50 1040.53,94.18 1041.03,75.42 1041.53,63.01 1042.03,64.07 1042.53,56.20 1043.03,48.98 1043.53,62.01 1044.03,75.56 1044.53,84.86 1045.03,94.24 1045.53,98.95 1046.03,102.54 1046.53,107.18 1047.03,104.66 1047.53,92.74 1048.03,74.33 1048.53,65.81 1049.03,79.46 1049.53,99.01 1050.03,106.07 1050.53,107.81 1051.03,106.77 1051.53,106.37 1052.03,108.05 1052.53,110.85 1053.03,110.56 1053.53,110.48 1054.03,109.39 1054.53,110.44 1055.03,109.45 1055.53,109.08 1056.03,107.46 1056.53,108.70 1057.03,109.95 1057.53,111.22 1058.03,110.62 1058.53,111.19 1059.03,110.28 1059.53,107.53 1060.03,105.01 1060.53,106.14 1061.03,106.69 1061.53,108.24 1062.03,108.11 1062.53,105.78 1063.03,103.91 1063.53,102.73 1064.03,102.61 1064.53,108.11 1065.03,111.88 1065.53,112.11 1066.03,112.04 1066.53,110.33 1067.03,109.84 1067.53,110.51 1068.03,112.81 1068.53,111.41 1069.03,106.29 1069.53,96.31 1070.03,93.43 1070.53,101.57 1071.03,109.48 1071.53,111.91 1072.03,108.92 1072.53,108.47 1073.03,110.96 1073.53,111.38 1074.03,104.80 1074.53,96.02 1075.03,93.48 1075.53,99.80 1076.03,106.54 1076.53,107.42 1077.03,108.05 1077.53,110.06 1078.03,112.37 1078.53,113.14 1079.03,113.45 1079.53,113.24 1080.03,114.18 1080.53,114.01 1081.03,114.47 1081.53,114.42 1082.03,113.61 1082.53,114.29 1083.03,110.63 1083.53,109.52 1084.03,109.14 1084.53,108.83 1085.03,107.52 1085.53,111.67 1086.03,113.23 1086.53,112.40 1087.03,110.45 1087.53,104.17 1088.03,103.68 1088.53,107.80 1089.03,112.65 1089.53,114.95 1090.03,114.96 1090.53,114.22 1091.03,115.06 1091.53,114.77 1092.03,114.28 1092.53,113.87 1093.03,114.83 1093.53,114.81 1094.03,115.65 1094.53,115.69 1095.03,114.68 1095.53,112.54 1096.03,110.18 1096.53,106.48 1097.03,109.18 1097.53,113.51 1098.03,115.08 1098.53,114.50 1099.03,115.69 1099.53,116.40 1100.03,115.49 1100.53,115.10 1101.03,111.51 1101.53,104.79 1102.03,102.40 1102.53,106.30 1103.03,114.41 1103.53,117.36 1104.03,117.43 1104.53,116.70 1105.03,116.86 1105.53,114.06 1106.03,114.73 1106.53,116.62 1107.03,118.67 1107.53,117.64 1108.03,116.63 1108.53,116.00 1109.03,115.39 1109.53,117.19 1110.03,116.45 1110.53,115.00 1111.03,115.18 1111.53,112.35 1112.03,107.00 1112.53,110.30 1113.03,114.64 1113.53,117.86 1114.03,117.77 1114.53,116.62 1115.03,116.05 1115.53,113.00 1116.03,109.79 1116.53,105.91 1117.03,107.94 1117.53,111.73 1118.03,115.88 1118.53,117.22 1119.03,117.75 1119.53,116.50 1120.03,117.16 1120.53,113.80 1121.03,112.39 1121.53,114.20 1122.03,116.55 1122.53,117.67 1123.03,117.50 1123.53,116.42 1124.03,115.61 1124.53,115.58 1125.03,116.18 1125.53,117.40 1126.03,117.86 1126.53,118.13 1127.03,115.97 1127.53,112.15 1128.03,109.17 1128.53,112.76 1129.03,116.14 1129.53,118.32 1130.03,118.91 1130.53,118.81 1131.03,118.55 1131.53,119.45 1132.03,118.44 1132.53,118.46 1133.03,118.98 1133.53,115.11 1134.03,108.41 1134.53,103.22 1135.03,104.77 1135.53,114.23 1136.03,118.29 1136.53,118.78 1137.03,118.64 1137.53,119.67 1138.03,119.97 1138.53,118.48 1139.03,119.19 1139.53,119.39 1140.03,119.33 1140.53,119.05 1141.03,118.74 1141.53,119.62 1142.03,119.65 1142.53,116.20 1143.03,114.54 1143.53,117.30 1144.03,119.58 1144.53,120.05 1145.03,118.89 1145.53,120.33 1146.03,120.89 1146.53,120.98 1147.03,120.44 1147.53,119.18 1148.03,120.81 1148.53,119.41 1149.03,118.99 1149.53,116.96 1150.03,115.14 1150.53,113.38 1151.03,112.52 1151.53,113.49 1152.03,115.21 1152.53,119.40 1153.03,119.72 1153.53,119.30 1154.03,120.54 1154.53,119.40 1155.03,118.57 1155.53,118.22 1156.03,118.50 1156.53,119.59 1157.03,120.94 1157.53,121.32 1158.03,121.61 1158.53,120.14 1159.03,120.76 1159.53,120.54 1160.03,121.14 1160.53,120.93 1161.03,121.85 1161.53,120.74 1162.03,120.13 1162.53,121.43 1163.03,120.38 1163.53,121.38 1164.03,121.17 1164.53,122.02 1165.03,121.35 1165.53,121.52 1166.03,120.84 1166.53,121.46 1167.03,120.90 1167.53,121.94 1168.03,121.51 1168.53,120.78 1169.03,121.03 1169.53,121.34 1170.03,122.11 1170.53,121.04 1171.03,122.14 1171.53,122.06 1172.03,120.89 1172.53,121.57 1173.03,119.35 1173.53,119.38 1174.03,121.46 1174.53,121.38 1175.03,122.79 1175.53,122.04 1176.03,121.76 1176.53,122.75 1177.03,121.25 1177.53,122.58 1178.03,120.38 1178.53,118.04 1179.03,117.98 1179.53,118.12 1180.03,118.60 1180.53,120.44 1181.03,123.25 1181.53,122.82 1182.03,123.14 1182.53,121.78 1183.03,122.75 1183.53,122.19 1184.03,121.78 1184.53,121.24 1185.03,120.49 1185.53,119.50 1186.03,120.65 1186.53,121.28 1187.03,123.09 1187.53,122.79" fill="none" stroke="#dfac76" stroke-width="1.5" stroke-linejoin="round"/><g stroke="#d6e474" stroke-width="1.1"><line x1="1000.25" y1="175.80" x2="1000.25" y2="173.50"/><line x1="1001.17" y1="175.80" x2="1001.17" y2="173.13"/><line x1="1014.00" y1="175.80" x2="1014.00" y2="173.50"/><line x1="1023.53" y1="175.80" x2="1023.53" y2="173.13"/><line x1="1027.20" y1="175.80" x2="1027.20" y2="173.13"/><line x1="1029.58" y1="175.80" x2="1029.58" y2="173.50"/><line x1="1033.25" y1="175.80" x2="1033.25" y2="172.58"/><line x1="1038.20" y1="175.80" x2="1038.20" y2="167.63"/><line x1="1039.30" y1="175.80" x2="1039.30" y2="171.67"/><line x1="1041.13" y1="175.80" x2="1041.13" y2="151.13"/><line x1="1041.87" y1="175.80" x2="1041.87" y2="151.13"/><line x1="1042.42" y1="175.80" x2="1042.42" y2="151.13"/><line x1="1043.33" y1="175.80" x2="1043.33" y2="151.13"/><line x1="1044.25" y1="175.80" x2="1044.25" y2="167.08"/><line x1="1048.47" y1="175.80" x2="1048.47" y2="160.30"/><line x1="1051.03" y1="175.80" x2="1051.03" y2="171.30"/><line x1="1055.25" y1="175.80" x2="1055.25" y2="171.30"/><line x1="1056.53" y1="175.80" x2="1056.53" y2="171.30"/><line x1="1058.37" y1="175.80" x2="1058.37" y2="171.30"/><line x1="1064.42" y1="175.80" x2="1064.42" y2="167.63"/><line x1="1069.00" y1="175.80" x2="1069.00" y2="159.75"/><line x1="1070.83" y1="175.80" x2="1070.83" y2="171.30"/><line x1="1072.67" y1="175.80" x2="1072.67" y2="172.58"/><line x1="1074.50" y1="175.80" x2="1074.50" y2="173.50"/><line x1="1075.97" y1="175.80" x2="1075.97" y2="173.13"/><line x1="1078.53" y1="175.80" x2="1078.53" y2="170.75"/><line x1="1080.00" y1="175.80" x2="1080.00" y2="170.75"/><line x1="1080.92" y1="175.80" x2="1080.92" y2="170.75"/><line x1="1089.53" y1="175.80" x2="1089.53" y2="172.58"/><line x1="1091.00" y1="175.80" x2="1091.00" y2="171.67"/><line x1="1094.30" y1="175.80" x2="1094.30" y2="173.50"/><line x1="1097.42" y1="175.80" x2="1097.42" y2="172.58"/><line x1="1099.25" y1="175.80" x2="1099.25" y2="172.58"/><line x1="1105.67" y1="175.80" x2="1105.67" y2="173.50"/><line x1="1107.50" y1="175.80" x2="1107.50" y2="171.67"/><line x1="1108.97" y1="175.80" x2="1108.97" y2="173.13"/><line x1="1115.75" y1="175.80" x2="1115.75" y2="169.47"/><line x1="1117.03" y1="175.80" x2="1117.03" y2="170.75"/><line x1="1119.42" y1="175.80" x2="1119.42" y2="171.67"/><line x1="1121.80" y1="175.80" x2="1121.80" y2="171.67"/><line x1="1123.63" y1="175.80" x2="1123.63" y2="171.30"/></g><g stroke="#d9c46e" stroke-width="1.1"><line x1="988.33" y1="203.50" x2="988.33" y2="201.92"/><line x1="1013.08" y1="203.50" x2="1013.08" y2="201.92"/><line x1="1020.42" y1="203.50" x2="1020.42" y2="201.92"/><line x1="1032.70" y1="203.50" x2="1032.70" y2="184.87"/><line x1="1033.80" y1="203.50" x2="1033.80" y2="195.13"/><line x1="1035.08" y1="203.50" x2="1035.08" y2="198.25"/><line x1="1041.13" y1="203.50" x2="1041.13" y2="179.00"/><line x1="1042.42" y1="203.50" x2="1042.42" y2="182.67"/><line x1="1043.33" y1="203.50" x2="1043.33" y2="192.75"/><line x1="1048.47" y1="203.50" x2="1048.47" y2="186.70"/><line x1="1061.30" y1="203.50" x2="1061.30" y2="199.17"/><line x1="1062.03" y1="203.50" x2="1062.03" y2="198.80"/><line x1="1069.37" y1="203.50" x2="1069.37" y2="190.92"/><line x1="1070.47" y1="203.50" x2="1070.47" y2="201.00"/><line x1="1083.67" y1="203.50" x2="1083.67" y2="201.00"/><line x1="1086.42" y1="203.50" x2="1086.42" y2="198.80"/><line x1="1087.33" y1="203.50" x2="1087.33" y2="200.63"/><line x1="1095.58" y1="203.50" x2="1095.58" y2="201.00"/><line x1="1101.63" y1="203.50" x2="1101.63" y2="193.30"/><line x1="1102.37" y1="203.50" x2="1102.37" y2="184.50"/><line x1="1114.83" y1="203.50" x2="1114.83" y2="201.00"/><line x1="1115.75" y1="203.50" x2="1115.75" y2="193.67"/><line x1="1116.67" y1="203.50" x2="1116.67" y2="199.17"/><line x1="1126.75" y1="203.50" x2="1126.75" y2="198.80"/><line x1="1127.30" y1="203.50" x2="1127.30" y2="199.17"/><line x1="1133.17" y1="203.50" x2="1133.17" y2="196.97"/><line x1="1134.63" y1="203.50" x2="1134.63" y2="196.97"/><line x1="1137.20" y1="203.50" x2="1137.20" y2="199.17"/><line x1="1138.67" y1="203.50" x2="1138.67" y2="200.63"/><line x1="1149.30" y1="203.50" x2="1149.30" y2="200.63"/><line x1="1150.58" y1="203.50" x2="1150.58" y2="201.00"/><line x1="1165.25" y1="203.50" x2="1165.25" y2="201.92"/></g><g stroke="#e39a80" stroke-width="1.1"><line x1="978.25" y1="231.90" x2="978.25" y2="207.13"/><line x1="1006.67" y1="231.90" x2="1006.67" y2="226.75"/><line x1="1012.53" y1="231.90" x2="1012.53" y2="226.75"/><line x1="1015.47" y1="231.90" x2="1015.47" y2="209.33"/><line x1="1018.58" y1="231.90" x2="1018.58" y2="226.75"/><line x1="1023.17" y1="231.90" x2="1023.17" y2="226.75"/><line x1="1033.80" y1="231.90" x2="1033.80" y2="221.80"/><line x1="1039.12" y1="231.90" x2="1039.12" y2="214.47"/><line x1="1044.80" y1="231.90" x2="1044.80" y2="221.80"/><line x1="1055.25" y1="231.90" x2="1055.25" y2="217.03"/><line x1="1062.58" y1="231.90" x2="1062.58" y2="217.03"/><line x1="1069.00" y1="231.90" x2="1069.00" y2="226.75"/><line x1="1075.42" y1="231.90" x2="1075.42" y2="219.42"/><line x1="1082.38" y1="231.90" x2="1082.38" y2="221.80"/><line x1="1087.70" y1="231.90" x2="1087.70" y2="221.80"/><line x1="1093.38" y1="231.90" x2="1093.38" y2="221.80"/><line x1="1096.50" y1="231.90" x2="1096.50" y2="221.80"/><line x1="1097.42" y1="231.90" x2="1097.42" y2="221.80"/><line x1="1108.97" y1="231.90" x2="1108.97" y2="221.80"/><line x1="1114.47" y1="231.90" x2="1114.47" y2="214.47"/><line x1="1117.58" y1="231.90" x2="1117.58" y2="226.75"/><line x1="1133.17" y1="231.90" x2="1133.17" y2="226.75"/><line x1="1139.03" y1="231.90" x2="1139.03" y2="226.75"/><line x1="1143.62" y1="231.90" x2="1143.62" y2="219.42"/><line x1="1146.92" y1="231.90" x2="1146.92" y2="226.75"/><line x1="1153.70" y1="231.90" x2="1153.70" y2="226.75"/><line x1="1158.83" y1="231.90" x2="1158.83" y2="226.75"/><line x1="1159.75" y1="231.90" x2="1159.75" y2="226.75"/></g><g stroke="#df7886" stroke-width="1.1"><line x1="980.08" y1="259.70" x2="980.08" y2="248.75"/><line x1="995.67" y1="259.70" x2="995.67" y2="258.47"/><line x1="1014.00" y1="259.70" x2="1014.00" y2="258.47"/><line x1="1017.67" y1="259.70" x2="1017.67" y2="255.53"/><line x1="1023.17" y1="259.70" x2="1023.17" y2="258.47"/><line x1="1041.50" y1="259.70" x2="1041.50" y2="253.70"/><line x1="1045.53" y1="259.70" x2="1045.53" y2="251.13"/><line x1="1047.00" y1="259.70" x2="1047.00" y2="235.00"/><line x1="1047.92" y1="259.70" x2="1047.92" y2="248.75"/><line x1="1050.12" y1="259.70" x2="1050.12" y2="255.17"/><line x1="1054.33" y1="259.70" x2="1054.33" y2="257.92"/><line x1="1068.08" y1="259.70" x2="1068.08" y2="257.37"/><line x1="1071.75" y1="259.70" x2="1071.75" y2="257.00"/><line x1="1078.72" y1="259.70" x2="1078.72" y2="251.13"/><line x1="1087.33" y1="259.70" x2="1087.33" y2="251.13"/><line x1="1088.43" y1="259.70" x2="1088.43" y2="251.13"/><line x1="1093.20" y1="259.70" x2="1093.20" y2="257.00"/><line x1="1097.42" y1="259.70" x2="1097.42" y2="248.75"/><line x1="1105.30" y1="259.70" x2="1105.30" y2="257.92"/><line x1="1122.17" y1="259.70" x2="1122.17" y2="256.08"/><line x1="1127.30" y1="259.70" x2="1127.30" y2="256.08"/><line x1="1128.03" y1="259.70" x2="1128.03" y2="256.08"/><line x1="1130.97" y1="259.70" x2="1130.97" y2="257.37"/><line x1="1133.17" y1="259.70" x2="1133.17" y2="257.37"/><line x1="1140.50" y1="259.70" x2="1140.50" y2="257.92"/><line x1="1145.63" y1="259.70" x2="1145.63" y2="257.92"/><line x1="1150.58" y1="259.70" x2="1150.58" y2="257.92"/><line x1="1155.17" y1="259.70" x2="1155.17" y2="257.92"/><line x1="1162.13" y1="259.70" x2="1162.13" y2="256.63"/><line x1="1162.50" y1="259.70" x2="1162.50" y2="256.63"/></g><rect x="973.9" y="40" width="214.40" height="219.70" fill="none" stroke="#000" stroke-width="1.9"/><line x1="973.9" y1="148" x2="1188.3" y2="148" stroke="#000" stroke-width="1.9"/><line x1="973.9" y1="175.8" x2="1188.3" y2="175.8" stroke="#000" stroke-width="1.9"/><line x1="973.9" y1="203.5" x2="1188.3" y2="203.5" stroke="#000" stroke-width="1.9"/><line x1="973.9" y1="231.9" x2="1188.3" y2="231.9" stroke="#000" stroke-width="1.9"/><text x="1186.00" y="164.30" font-size="14.9" text-anchor="end">C<tspan font-size="10.1" dy="3.5">2</tspan><tspan dy="-3.5">S</tspan></text><text x="1186.00" y="192.00" font-size="14.9" text-anchor="end">C<tspan font-size="10.1" dy="3.5">3</tspan><tspan dy="-3.5">S</tspan></text><text x="1186.00" y="220.00" font-size="14.9" text-anchor="end">C<tspan font-size="10.1" dy="3.5">3</tspan><tspan dy="-3.5">A</tspan></text><text x="1186.00" y="248.20" font-size="14.9" text-anchor="end">C<tspan font-size="10.1" dy="3.5">4</tspan><tspan dy="-3.5">AF</tspan></text><line x1="973.90" y1="259.7" x2="973.90" y2="263.7" stroke="#000" stroke-width="1.9"/><text x="973.90" y="281.50" font-size="18.5" text-anchor="middle" fill="#000" >10</text><line x1="1004.53" y1="259.7" x2="1004.53" y2="263.7" stroke="#000" stroke-width="1.9"/><text x="1004.53" y="281.50" font-size="18.5" text-anchor="middle" fill="#000" >20</text><line x1="1035.16" y1="259.7" x2="1035.16" y2="263.7" stroke="#000" stroke-width="1.9"/><text x="1035.16" y="281.50" font-size="18.5" text-anchor="middle" fill="#000" >30</text><line x1="1065.79" y1="259.7" x2="1065.79" y2="263.7" stroke="#000" stroke-width="1.9"/><text x="1065.79" y="281.50" font-size="18.5" text-anchor="middle" fill="#000" >40</text><line x1="1096.41" y1="259.7" x2="1096.41" y2="263.7" stroke="#000" stroke-width="1.9"/><text x="1096.41" y="281.50" font-size="18.5" text-anchor="middle" fill="#000" >50</text><line x1="1127.04" y1="259.7" x2="1127.04" y2="263.7" stroke="#000" stroke-width="1.9"/><text x="1127.04" y="281.50" font-size="18.5" text-anchor="middle" fill="#000" >60</text><line x1="1157.67" y1="259.7" x2="1157.67" y2="263.7" stroke="#000" stroke-width="1.9"/><text x="1157.67" y="281.50" font-size="18.5" text-anchor="middle" fill="#000" >70</text><line x1="1188.30" y1="259.7" x2="1188.30" y2="263.7" stroke="#000" stroke-width="1.9"/><text x="1188.30" y="281.50" font-size="18.5" text-anchor="middle" fill="#000" >80</text><text x="1081.10" y="310.50" font-size="18.5" text-anchor="middle" fill="#000" >2Theta (deg)</text><text transform="translate(965.00,151.00) rotate(-90)" font-size="18.5" text-anchor="middle" fill="#000" >Intensity (a.u.)</text><text x="4.00" y="335.30" font-size="31" text-anchor="start" fill="#000" font-weight="bold" >e</text><polygon points="88.50,568.00 89.20,530.00 89.80,511.80 92.20,483.20 94.50,470.00 96.90,463.00 100.50,460.60 104.00,457.00 106.90,455.80 110.00,458.50 113.60,460.60 120.80,463.00 126.00,462.50 132.70,464.20 141.00,466.60 146.00,470.00 151.70,473.70 160.00,474.50 168.40,474.90 176.00,473.50 185.10,471.30 195.00,467.50 204.20,464.20 216.00,460.50 228.00,457.00 240.00,452.50 251.80,447.50 262.00,443.00 270.90,436.80 280.00,428.00 287.60,416.50 294.00,403.00 299.50,387.90 304.00,372.00 307.90,352.00 307.90,453.40 298.00,462.00 287.60,471.30 276.00,478.00 263.80,485.60 255.00,491.00 247.10,494.00 238.00,495.00 228.00,496.30 216.00,497.80 204.20,499.90 195.00,503.50 185.10,507.10 174.00,509.20 163.70,511.80 155.00,514.00 147.00,516.60 140.00,519.20 132.70,522.60 126.00,525.00 120.80,528.50 114.00,535.00 108.80,542.80 103.00,555.00 99.30,568.00" fill="#ebf3c4"/><rect x="98.1" y="361.7" width="32.7" height="9.5" fill="#e0eb9c"/><text x="140.00" y="375.50" font-size="19" text-anchor="start" fill="#000" >Luffa sponge</text><text x="137.40" y="402.90" font-size="16" text-anchor="start" fill="#000" >Compression</text><polygon points="122.05,395.50 122.05,402.70 119.55,402.70 124.30,408.20 129.05,402.70 126.55,402.70 126.55,395.50" fill="#e2c6a2" stroke="#e2c6a2" stroke-width="0.3" stroke-linejoin="miter"/><rect x="98.10" y="411.70" width="53.20" height="8.40" rx="2.52" fill="url(#plg)" stroke="#d9d9d9" stroke-width="0.6"/><rect x="108.8" y="420.6" width="31.5" height="19.7" rx="2" fill="#f5e7a9"/><rect x="98.10" y="441.00" width="53.20" height="8.90" rx="2.67" fill="url(#plg)" stroke="#d9d9d9" stroke-width="0.6"/><polygon points="160.10,434.05 172.50,434.05 172.50,438.30 181.50,429.80 172.50,421.30 172.50,425.55 160.10,425.55" fill="#e2c6a2" stroke="#9d9d9d" stroke-width="0.9" stroke-linejoin="miter"/><rect x="194.2" y="433.2" width="38.6" height="7.6" fill="#f5e7a9"/><rect x="197.3" y="420.4" width="31.8" height="19.8" rx="1.5" fill="none" stroke="#d6b089" stroke-width="1.5" stroke-dasharray="4,2.6"/><polygon points="211.10,421.30 211.10,427.70 208.95,427.70 213.20,432.70 217.45,427.70 215.30,427.70 215.30,421.30" fill="#8fb6dc" stroke="#8fb6dc" stroke-width="0.3" stroke-linejoin="miter"/><path d="M195.5,439 l0,-3 M231.5,439 l0,-3" stroke="#8fb6dc" stroke-width="1.2"/><rect x="187.00" y="441.00" width="52.90" height="8.90" rx="2.67" fill="url(#plg)" stroke="#d9d9d9" stroke-width="0.6"/><rect x="88.5" y="349.5" width="219.40" height="218.50" fill="none" stroke="#000" stroke-width="1.9"/><line x1="88.50" y1="568" x2="88.50" y2="572" stroke="#000" stroke-width="1.9"/><text x="88.50" y="590.00" font-size="18.5" text-anchor="middle" fill="#000" >0</text><line x1="132.38" y1="568" x2="132.38" y2="572" stroke="#000" stroke-width="1.9"/><text x="132.38" y="590.00" font-size="18.5" text-anchor="middle" fill="#000" >5</text><line x1="176.26" y1="568" x2="176.26" y2="572" stroke="#000" stroke-width="1.9"/><text x="176.26" y="590.00" font-size="18.5" text-anchor="middle" fill="#000" >10</text><line x1="220.14" y1="568" x2="220.14" y2="572" stroke="#000" stroke-width="1.9"/><text x="220.14" y="590.00" font-size="18.5" text-anchor="middle" fill="#000" >15</text><line x1="264.02" y1="568" x2="264.02" y2="572" stroke="#000" stroke-width="1.9"/><text x="264.02" y="590.00" font-size="18.5" text-anchor="middle" fill="#000" >20</text><line x1="307.90" y1="568" x2="307.90" y2="572" stroke="#000" stroke-width="1.9"/><text x="307.90" y="590.00" font-size="18.5" text-anchor="middle" fill="#000" >25</text><line x1="84.5" y1="568.00" x2="88.5" y2="568.00" stroke="#000" stroke-width="1.9"/><text x="81.50" y="573.90" font-size="18.5" text-anchor="end" fill="#000" >0.0</text><line x1="84.5" y1="524.30" x2="88.5" y2="524.30" stroke="#000" stroke-width="1.9"/><text x="81.50" y="530.20" font-size="18.5" text-anchor="end" fill="#000" >0.2</text><line x1="84.5" y1="480.60" x2="88.5" y2="480.60" stroke="#000" stroke-width="1.9"/><text x="81.50" y="486.50" font-size="18.5" text-anchor="end" fill="#000" >0.4</text><line x1="84.5" y1="436.90" x2="88.5" y2="436.90" stroke="#000" stroke-width="1.9"/><text x="81.50" y="442.80" font-size="18.5" text-anchor="end" fill="#000" >0.6</text><line x1="84.5" y1="393.20" x2="88.5" y2="393.20" stroke="#000" stroke-width="1.9"/><text x="81.50" y="399.10" font-size="18.5" text-anchor="end" fill="#000" >0.8</text><line x1="84.5" y1="349.50" x2="88.5" y2="349.50" stroke="#000" stroke-width="1.9"/><text x="81.50" y="355.40" font-size="18.5" text-anchor="end" fill="#000" >1.0</text><text x="198.20" y="619.50" font-size="18.5" text-anchor="middle" fill="#000" >Displacement (mm)</text><text transform="translate(48.20,459.00) rotate(-90)" font-size="18.5" text-anchor="middle" fill="#000" >Force (kN)</text><text x="326.50" y="334.50" font-size="31" text-anchor="start" fill="#000" font-weight="bold" >f</text><path d="M385.7,395.3 C385.7,362.9 407.3,355.7 439.7,355.7 C472.1,355.7 493.7,362.9 493.7,395.3 L493.7,445.0 C493.7,470.2 472.1,473.8 439.7,473.8 C407.3,473.8 385.7,470.2 385.7,445.0 Z" fill="#e9ded9"/><path d="M385.7,395.3 C385.7,362.9 407.3,355.7 439.7,355.7 C472.1,355.7 493.7,362.9 493.7,395.3 L493.7,445.0 C493.7,470.2 472.1,473.8 439.7,473.8 C407.3,473.8 385.7,470.2 385.7,445.0 Z" fill="#000" filter="url(#fShade)"/><path d="M385.7,395.3 C385.7,362.9 407.3,355.7 439.7,355.7 C472.1,355.7 493.7,362.9 493.7,395.3 L493.7,445.0 C493.7,470.2 472.1,473.8 439.7,473.8 C407.3,473.8 385.7,470.2 385.7,445.0 Z" fill="#000" filter="url(#fHolesF)" opacity="1.0"/><path d="M385.7,395.3 C385.7,362.9 407.3,355.7 439.7,355.7 C472.1,355.7 493.7,362.9 493.7,395.3 L493.7,445.0 C493.7,470.2 472.1,473.8 439.7,473.8 C407.3,473.8 385.7,470.2 385.7,445.0 Z" fill="#000" filter="url(#fStrF)" opacity="0.7"/><path d="M385.7,395.3 C385.7,362.9 407.3,355.7 439.7,355.7 C472.1,355.7 493.7,362.9 493.7,395.3 L493.7,445.0 C493.7,470.2 472.1,473.8 439.7,473.8 C407.3,473.8 385.7,470.2 385.7,445.0 Z" fill="url(#cylShade)"/><ellipse cx="439.7" cy="391.7" rx="50.8" ry="34.6" fill="#f4ece8" opacity="0.25"/><path d="M387.7,391.7 Q439.7,445.7 491.7,391.7" fill="none" stroke="#a88a82" stroke-width="1.2" opacity="0.35"/><g filter="url(#fWarpS)"><path d="M402.5,395.0 C402.5,377.4 421.0,373.0 439.5,373.0 C459.9,373.0 476.5,379.6 476.5,393.9 C476.5,410.4 458.0,417.0 439.5,417.0 C421.0,417.0 402.5,411.5 402.5,395.0 Z" fill="#a4847b" opacity="0.8"/><path d="M402.5,395.0 C402.5,377.4 421.0,373.0 439.5,373.0 C459.9,373.0 476.5,379.6 476.5,393.9 C476.5,410.4 458.0,417.0 439.5,417.0 C421.0,417.0 402.5,411.5 402.5,395.0 Z" fill="#000" filter="url(#fHolesF)" opacity="0.8"/><path d="M402.5,395.0 C402.5,377.4 421.0,373.0 439.5,373.0 C459.9,373.0 476.5,379.6 476.5,393.9 C476.5,410.4 458.0,417.0 439.5,417.0 C421.0,417.0 402.5,411.5 402.5,395.0 Z" fill="#000" filter="url(#fStrF)" opacity="0.45"/><path d="M409.9,402.7 Q422.9,396.1 435.8,404.9 Q422.9,401.6 409.9,402.7 Z" fill="#dccac3" opacity="0.9"/><path d="M443.2,404.9 Q456.1,396.1 469.1,402.7 Q456.1,401.6 443.2,404.9 Z" fill="#dccac3" opacity="0.9"/><path d="M436.2,373.0 Q438.2,386.2 434.5,395.0 Q421.0,393.0 402.5,394.0 L402.5,399.0 Q421.0,398.7 434.5,400.3 Q435.5,408.2 434.2,417.0 L444.8,417.0 Q443.5,408.2 444.5,400.3 Q458.0,394.3 476.5,388.3 L476.5,383.3 Q458.0,386.3 444.5,393.3 Q440.8,386.2 442.8,373.0 Z" fill="#eee5e1"/><path d="M436.2,373.0 Q438.2,386.2 434.5,395.0 Q421.0,393.0 402.5,394.0 L402.5,399.0 Q421.0,398.7 434.5,400.3 Q435.5,408.2 434.2,417.0 L444.8,417.0 Q443.5,408.2 444.5,400.3 Q458.0,394.3 476.5,388.3 L476.5,383.3 Q458.0,386.3 444.5,393.3 Q440.8,386.2 442.8,373.0 Z" fill="#000" filter="url(#fHolesF)" opacity="0.5"/><ellipse cx="439.5" cy="395" rx="7.4" ry="7.0" fill="#efe6e2"/><ellipse cx="439.5" cy="395" rx="7.4" ry="7.0" fill="#000" filter="url(#fHolesF)" opacity="0.7"/></g><g fill="none" stroke="#f5eeeb" stroke-width="0.9" opacity="0.5"><path d="M387.7,413.8 Q439.7,453.4 491.7,413.8"/><path d="M387.7,418.2 Q439.7,457.8 491.7,418.2"/><path d="M387.7,421.7 Q439.7,461.3 491.7,421.7"/><path d="M387.7,426.0 Q439.7,465.6 491.7,426.0"/><path d="M387.7,429.9 Q439.7,469.5 491.7,429.9"/><path d="M387.7,432.6 Q439.7,472.2 491.7,432.6"/><path d="M387.7,436.4 Q439.7,476.0 491.7,436.4"/><path d="M387.7,441.9 Q439.7,481.5 491.7,441.9"/><path d="M387.7,444.6 Q439.7,484.2 491.7,444.6"/><path d="M387.7,448.3 Q439.7,487.9 491.7,448.3"/><path d="M387.7,453.7 Q439.7,493.3 491.7,453.7"/><path d="M387.7,456.5 Q439.7,496.1 491.7,456.5"/></g><path d="M374.0,548.8 C374.0,514.6 400.0,507.0 439.0,507.0 C478.0,507.0 504.0,514.6 504.0,548.8 L504.0,585.2 C504.0,611.8 478.0,615.6 439.0,615.6 C400.0,615.6 374.0,611.8 374.0,585.2 Z" fill="#e9ded9"/><path d="M374.0,548.8 C374.0,514.6 400.0,507.0 439.0,507.0 C478.0,507.0 504.0,514.6 504.0,548.8 L504.0,585.2 C504.0,611.8 478.0,615.6 439.0,615.6 C400.0,615.6 374.0,611.8 374.0,585.2 Z" fill="#000" filter="url(#fShade)"/><path d="M374.0,548.8 C374.0,514.6 400.0,507.0 439.0,507.0 C478.0,507.0 504.0,514.6 504.0,548.8 L504.0,585.2 C504.0,611.8 478.0,615.6 439.0,615.6 C400.0,615.6 374.0,611.8 374.0,585.2 Z" fill="#000" filter="url(#fHolesF)" opacity="1.0"/><path d="M374.0,548.8 C374.0,514.6 400.0,507.0 439.0,507.0 C478.0,507.0 504.0,514.6 504.0,548.8 L504.0,585.2 C504.0,611.8 478.0,615.6 439.0,615.6 C400.0,615.6 374.0,611.8 374.0,585.2 Z" fill="#000" filter="url(#fStrF)" opacity="0.7"/><path d="M374.0,548.8 C374.0,514.6 400.0,507.0 439.0,507.0 C478.0,507.0 504.0,514.6 504.0,548.8 L504.0,585.2 C504.0,611.8 478.0,615.6 439.0,615.6 C400.0,615.6 374.0,611.8 374.0,585.2 Z" fill="url(#cylShade)"/><ellipse cx="439.0" cy="545.0" rx="61.1" ry="36.5" fill="#f4ece8" opacity="0.25"/><path d="M376.0,545.0 Q439.0,602.0 502.0,545.0" fill="none" stroke="#a88a82" stroke-width="1.2" opacity="0.35"/><g filter="url(#fWarpS)"><path d="M403.0,549.0 C403.0,527.4 422.0,522.0 441.0,522.0 C461.9,522.0 479.0,530.1 479.0,547.6 C479.0,567.9 460.0,576.0 441.0,576.0 C422.0,576.0 403.0,569.2 403.0,549.0 Z" fill="#a4847b" opacity="0.8"/><path d="M403.0,549.0 C403.0,527.4 422.0,522.0 441.0,522.0 C461.9,522.0 479.0,530.1 479.0,547.6 C479.0,567.9 460.0,576.0 441.0,576.0 C422.0,576.0 403.0,569.2 403.0,549.0 Z" fill="#000" filter="url(#fHolesF)" opacity="0.8"/><path d="M403.0,549.0 C403.0,527.4 422.0,522.0 441.0,522.0 C461.9,522.0 479.0,530.1 479.0,547.6 C479.0,567.9 460.0,576.0 441.0,576.0 C422.0,576.0 403.0,569.2 403.0,549.0 Z" fill="#000" filter="url(#fStrF)" opacity="0.45"/><path d="M410.6,558.5 Q423.9,550.4 437.2,561.1 Q423.9,557.1 410.6,558.5 Z" fill="#dccac3" opacity="0.9"/><path d="M444.8,561.1 Q458.1,550.4 471.4,558.5 Q458.1,557.1 444.8,561.1 Z" fill="#dccac3" opacity="0.9"/><path d="M437.6,522.0 Q439.6,538.2 435.9,549.0 Q422.0,546.9 403.0,548.0 L403.0,553.1 Q422.0,552.8 435.9,554.5 Q436.9,565.2 435.5,576.0 L446.5,576.0 Q445.1,565.2 446.1,554.5 Q460.0,548.3 479.0,542.2 L479.0,537.0 Q460.0,540.1 446.1,547.3 Q442.4,538.2 444.4,522.0 Z" fill="#eee5e1"/><path d="M437.6,522.0 Q439.6,538.2 435.9,549.0 Q422.0,546.9 403.0,548.0 L403.0,553.1 Q422.0,552.8 435.9,554.5 Q436.9,565.2 435.5,576.0 L446.5,576.0 Q445.1,565.2 446.1,554.5 Q460.0,548.3 479.0,542.2 L479.0,537.0 Q460.0,540.1 446.1,547.3 Q442.4,538.2 444.4,522.0 Z" fill="#000" filter="url(#fHolesF)" opacity="0.5"/><ellipse cx="441" cy="549" rx="7.6" ry="8.6" fill="#efe6e2"/><ellipse cx="441" cy="549" rx="7.6" ry="8.6" fill="#000" filter="url(#fHolesF)" opacity="0.7"/></g><g fill="none" stroke="#f5eeeb" stroke-width="0.9" opacity="0.5"><path d="M376.0,568.3 Q439.0,610.1 502.0,568.3"/><path d="M376.0,570.7 Q439.0,612.5 502.0,570.7"/><path d="M376.0,574.0 Q439.0,615.8 502.0,574.0"/><path d="M376.0,576.3 Q439.0,618.1 502.0,576.3"/><path d="M376.0,578.8 Q439.0,620.6 502.0,578.8"/><path d="M376.0,582.2 Q439.0,624.0 502.0,582.2"/><path d="M376.0,585.9 Q439.0,627.7 502.0,585.9"/><path d="M376.0,588.4 Q439.0,630.2 502.0,588.4"/><path d="M376.0,591.1 Q439.0,632.9 502.0,591.1"/><path d="M376.0,592.7 Q439.0,634.5 502.0,592.7"/><path d="M376.0,596.0 Q439.0,637.8 502.0,596.0"/><path d="M376.0,598.2 Q439.0,640.0 502.0,598.2"/></g><line x1="365.2" y1="393" x2="365.2" y2="437.8" stroke="#000" stroke-width="1.5"/><path d="M360.2,392 L370.2,392 M360.2,438.8 L370.2,438.8" stroke="#000" stroke-width="1.5"/><path d="M362.2,398 L365.2,392.5 L368.2,398 Z M362.2,432.8 L365.2,438.3 L368.2,432.8 Z" fill="#000"/><text transform="translate(355.50,415.00) rotate(-90)" font-size="16.3" text-anchor="middle" fill="#000" >35 mm</text><line x1="365.2" y1="541" x2="365.2" y2="573.5" stroke="#000" stroke-width="1.5"/><path d="M360.2,540 L370.2,540 M360.2,574.5 L370.2,574.5" stroke="#000" stroke-width="1.5"/><path d="M362.2,546 L365.2,540.5 L368.2,546 Z M362.2,568.5 L365.2,574.0 L368.2,568.5 Z" fill="#000"/><text transform="translate(355.50,556.00) rotate(-90)" font-size="15.8" text-anchor="middle" fill="#000" >11.86 mm</text><polygon points="433.50,481.00 433.50,493.20 429.80,493.20 437.50,502.20 445.20,493.20 441.50,493.20 441.50,481.00" fill="#e2c6a2" stroke="#9d9d9d" stroke-width="0.9" stroke-linejoin="miter"/><line x1="525" y1="471.6" x2="803" y2="471.6" stroke="#000" stroke-width="1.6"/><line x1="525" y1="607.1" x2="814.6" y2="607.1" stroke="#000" stroke-width="1.6"/><path d="M550.0,376.1 L552.4,373.1 L555.4,372.3 L557.5,368.2 L559.6,366.2 L561.8,365.9 L566.5,361.9 L569.1,361.5 L571.2,359.3 L575.1,358.4 L578.4,357.6 L580.3,356.5 L585.4,358.1 L587.5,356.8 L589.0,358.1 L594.4,359.6 L596.0,362.2 L598.4,363.5 L601.3,364.4 L604.3,368.5 L605.8,369.2 L609.1,370.8 L611.5,375.0 L614.0,376.4 L616.7,377.6 L618.1,380.4 L620.4,381.9 L623.0,384.0 L621.9,388.9 L624.4,391.0 L623.5,393.7 L623.6,397.7 L623.9,399.5 L625.0,402.8 L626.0,407.5 L626.1,409.7 L624.7,412.7 L623.7,416.5 L624.2,418.6 L623.4,422.0 L624.4,425.0 L624.9,428.8 L623.1,431.5 L624.5,434.6 L623.5,436.5 L623.0,440.6 L622.5,443.6 L622.7,447.0 L622.3,449.2 L621.7,454.3 L621.1,455.1 L619.6,459.5 L619.3,461.5 L618.9,465.6 L620.7,468.8 L618.9,471.8 L618.5,474.9 L618.6,479.2 L616.3,480.2 L614.0,483.6 L610.6,484.0 L609.6,487.3 L607.5,489.3 L605.8,491.1 L602.9,494.5 L599.0,496.4 L596.8,498.7 L591.9,497.1 L590.5,495.6 L587.8,492.3 L583.7,490.3 L580.8,490.3 L577.1,487.0 L574.1,484.7 L571.8,482.6 L571.0,482.7 L567.0,480.4 L564.9,478.0 L561.5,476.4 L560.2,472.9 L558.1,471.3 L557.1,467.7 L555.4,466.8 L554.5,463.7 L550.8,460.6 L550.7,456.6 L551.0,454.5 L552.1,451.8 L550.8,448.9 L551.2,445.4 L550.4,442.1 L550.5,439.7 L550.7,435.9 L550.5,432.9 L550.9,430.4 L551.0,426.5 L550.8,424.8 L551.2,421.1 L548.7,418.4 L550.6,413.1 L549.4,410.7 L550.4,408.3 L549.3,404.0 L549.0,400.6 L550.5,399.6 L549.1,395.9 L550.9,391.4 L550.0,388.8 L551.0,386.7 L548.6,381.9 L550.7,379.7 Z" fill="#e9ded9"/><path d="M550.0,376.1 L552.4,373.1 L555.4,372.3 L557.5,368.2 L559.6,366.2 L561.8,365.9 L566.5,361.9 L569.1,361.5 L571.2,359.3 L575.1,358.4 L578.4,357.6 L580.3,356.5 L585.4,358.1 L587.5,356.8 L589.0,358.1 L594.4,359.6 L596.0,362.2 L598.4,363.5 L601.3,364.4 L604.3,368.5 L605.8,369.2 L609.1,370.8 L611.5,375.0 L614.0,376.4 L616.7,377.6 L618.1,380.4 L620.4,381.9 L623.0,384.0 L621.9,388.9 L624.4,391.0 L623.5,393.7 L623.6,397.7 L623.9,399.5 L625.0,402.8 L626.0,407.5 L626.1,409.7 L624.7,412.7 L623.7,416.5 L624.2,418.6 L623.4,422.0 L624.4,425.0 L624.9,428.8 L623.1,431.5 L624.5,434.6 L623.5,436.5 L623.0,440.6 L622.5,443.6 L622.7,447.0 L622.3,449.2 L621.7,454.3 L621.1,455.1 L619.6,459.5 L619.3,461.5 L618.9,465.6 L620.7,468.8 L618.9,471.8 L618.5,474.9 L618.6,479.2 L616.3,480.2 L614.0,483.6 L610.6,484.0 L609.6,487.3 L607.5,489.3 L605.8,491.1 L602.9,494.5 L599.0,496.4 L596.8,498.7 L591.9,497.1 L590.5,495.6 L587.8,492.3 L583.7,490.3 L580.8,490.3 L577.1,487.0 L574.1,484.7 L571.8,482.6 L571.0,482.7 L567.0,480.4 L564.9,478.0 L561.5,476.4 L560.2,472.9 L558.1,471.3 L557.1,467.7 L555.4,466.8 L554.5,463.7 L550.8,460.6 L550.7,456.6 L551.0,454.5 L552.1,451.8 L550.8,448.9 L551.2,445.4 L550.4,442.1 L550.5,439.7 L550.7,435.9 L550.5,432.9 L550.9,430.4 L551.0,426.5 L550.8,424.8 L551.2,421.1 L548.7,418.4 L550.6,413.1 L549.4,410.7 L550.4,408.3 L549.3,404.0 L549.0,400.6 L550.5,399.6 L549.1,395.9 L550.9,391.4 L550.0,388.8 L551.0,386.7 L548.6,381.9 L550.7,379.7 Z" fill="#000" filter="url(#fShade)"/><path d="M550.0,376.1 L552.4,373.1 L555.4,372.3 L557.5,368.2 L559.6,366.2 L561.8,365.9 L566.5,361.9 L569.1,361.5 L571.2,359.3 L575.1,358.4 L578.4,357.6 L580.3,356.5 L585.4,358.1 L587.5,356.8 L589.0,358.1 L594.4,359.6 L596.0,362.2 L598.4,363.5 L601.3,364.4 L604.3,368.5 L605.8,369.2 L609.1,370.8 L611.5,375.0 L614.0,376.4 L616.7,377.6 L618.1,380.4 L620.4,381.9 L623.0,384.0 L621.9,388.9 L624.4,391.0 L623.5,393.7 L623.6,397.7 L623.9,399.5 L625.0,402.8 L626.0,407.5 L626.1,409.7 L624.7,412.7 L623.7,416.5 L624.2,418.6 L623.4,422.0 L624.4,425.0 L624.9,428.8 L623.1,431.5 L624.5,434.6 L623.5,436.5 L623.0,440.6 L622.5,443.6 L622.7,447.0 L622.3,449.2 L621.7,454.3 L621.1,455.1 L619.6,459.5 L619.3,461.5 L618.9,465.6 L620.7,468.8 L618.9,471.8 L618.5,474.9 L618.6,479.2 L616.3,480.2 L614.0,483.6 L610.6,484.0 L609.6,487.3 L607.5,489.3 L605.8,491.1 L602.9,494.5 L599.0,496.4 L596.8,498.7 L591.9,497.1 L590.5,495.6 L587.8,492.3 L583.7,490.3 L580.8,490.3 L577.1,487.0 L574.1,484.7 L571.8,482.6 L571.0,482.7 L567.0,480.4 L564.9,478.0 L561.5,476.4 L560.2,472.9 L558.1,471.3 L557.1,467.7 L555.4,466.8 L554.5,463.7 L550.8,460.6 L550.7,456.6 L551.0,454.5 L552.1,451.8 L550.8,448.9 L551.2,445.4 L550.4,442.1 L550.5,439.7 L550.7,435.9 L550.5,432.9 L550.9,430.4 L551.0,426.5 L550.8,424.8 L551.2,421.1 L548.7,418.4 L550.6,413.1 L549.4,410.7 L550.4,408.3 L549.3,404.0 L549.0,400.6 L550.5,399.6 L549.1,395.9 L550.9,391.4 L550.0,388.8 L551.0,386.7 L548.6,381.9 L550.7,379.7 Z" fill="#000" filter="url(#fHoles)" opacity="1.0"/><path d="M550.0,376.1 L552.4,373.1 L555.4,372.3 L557.5,368.2 L559.6,366.2 L561.8,365.9 L566.5,361.9 L569.1,361.5 L571.2,359.3 L575.1,358.4 L578.4,357.6 L580.3,356.5 L585.4,358.1 L587.5,356.8 L589.0,358.1 L594.4,359.6 L596.0,362.2 L598.4,363.5 L601.3,364.4 L604.3,368.5 L605.8,369.2 L609.1,370.8 L611.5,375.0 L614.0,376.4 L616.7,377.6 L618.1,380.4 L620.4,381.9 L623.0,384.0 L621.9,388.9 L624.4,391.0 L623.5,393.7 L623.6,397.7 L623.9,399.5 L625.0,402.8 L626.0,407.5 L626.1,409.7 L624.7,412.7 L623.7,416.5 L624.2,418.6 L623.4,422.0 L624.4,425.0 L624.9,428.8 L623.1,431.5 L624.5,434.6 L623.5,436.5 L623.0,440.6 L622.5,443.6 L622.7,447.0 L622.3,449.2 L621.7,454.3 L621.1,455.1 L619.6,459.5 L619.3,461.5 L618.9,465.6 L620.7,468.8 L618.9,471.8 L618.5,474.9 L618.6,479.2 L616.3,480.2 L614.0,483.6 L610.6,484.0 L609.6,487.3 L607.5,489.3 L605.8,491.1 L602.9,494.5 L599.0,496.4 L596.8,498.7 L591.9,497.1 L590.5,495.6 L587.8,492.3 L583.7,490.3 L580.8,490.3 L577.1,487.0 L574.1,484.7 L571.8,482.6 L571.0,482.7 L567.0,480.4 L564.9,478.0 L561.5,476.4 L560.2,472.9 L558.1,471.3 L557.1,467.7 L555.4,466.8 L554.5,463.7 L550.8,460.6 L550.7,456.6 L551.0,454.5 L552.1,451.8 L550.8,448.9 L551.2,445.4 L550.4,442.1 L550.5,439.7 L550.7,435.9 L550.5,432.9 L550.9,430.4 L551.0,426.5 L550.8,424.8 L551.2,421.1 L548.7,418.4 L550.6,413.1 L549.4,410.7 L550.4,408.3 L549.3,404.0 L549.0,400.6 L550.5,399.6 L549.1,395.9 L550.9,391.4 L550.0,388.8 L551.0,386.7 L548.6,381.9 L550.7,379.7 Z" fill="#000" filter="url(#fStr)" opacity="0.6"/><clipPath id="clipS2"><path d="M639.6,385.1 L643.8,386.2 L645.8,387.8 L648.0,388.9 L652.1,390.9 L653.8,391.0 L656.6,390.4 L660.9,386.6 L664.4,387.1 L666.3,384.4 L667.9,381.0 L671.6,379.3 L673.5,377.9 L672.7,374.9 L673.3,372.4 L673.1,368.5 L672.6,365.1 L672.1,360.6 L675.6,360.3 L677.4,357.4 L678.2,354.0 L680.3,351.4 L682.8,349.3 L684.4,346.3 L686.0,344.4 L685.0,339.9 L688.6,337.5 L690.2,334.4 L689.3,332.0 L692.4,328.1 L693.9,328.1 L699.4,328.9 L700.5,327.4 L703.7,326.7 L708.7,326.8 L711.3,327.2 L713.7,327.7 L716.8,327.3 L720.0,326.5 L723.5,325.9 L728.2,328.8 L729.3,330.5 L731.9,330.8 L736.3,332.9 L737.3,335.3 L740.3,335.0 L744.6,336.7 L746.2,337.6 L748.5,340.4 L751.7,342.0 L751.5,344.7 L752.5,347.9 L751.1,352.0 L749.6,353.3 L750.9,358.1 L748.8,359.7 L749.6,364.7 L747.7,367.8 L749.0,370.1 L749.0,371.6 L749.3,376.5 L751.1,378.7 L752.4,381.8 L754.5,383.2 L754.6,387.1 L755.6,388.6 L759.8,389.1 L762.9,386.6 L766.6,385.3 L767.3,384.4 L771.3,382.8 L773.6,382.5 L777.6,380.8 L780.0,381.6 L784.5,380.0 L786.7,378.7 L788.3,376.2 L787.8,381.5 L789.4,384.7 L787.5,387.0 L788.5,390.3 L787.9,394.1 L787.1,396.0 L788.6,400.0 L788.4,402.6 L788.4,406.2 L787.1,408.7 L788.3,412.3 L787.0,415.1 L787.9,417.7 L787.2,420.3 L786.9,424.0 L785.5,427.1 L787.6,430.8 L786.8,432.7 L786.7,436.3 L785.8,440.0 L784.8,442.9 L784.5,445.6 L785.5,447.8 L785.8,451.5 L785.5,455.7 L784.4,456.5 L784.4,461.2 L783.4,463.0 L784.5,467.3 L782.6,471.0 L781.6,473.5 L780.5,476.0 L781.3,480.3 L780.8,482.0 L779.3,484.9 L777.5,488.5 L778.5,492.4 L777.5,495.8 L775.6,496.9 L773.3,498.7 L769.9,500.6 L768.2,502.3 L764.6,504.7 L763.5,505.3 L758.4,505.8 L757.6,507.4 L754.5,507.3 L750.8,506.5 L747.4,503.5 L745.7,501.9 L744.0,501.1 L739.5,499.3 L738.0,498.9 L735.3,498.1 L732.7,499.5 L729.3,498.2 L725.6,498.7 L721.4,500.1 L720.0,500.0 L715.8,501.0 L713.8,502.1 L710.7,501.2 L707.3,499.8 L705.7,496.6 L702.8,496.8 L698.0,494.6 L696.3,494.3 L692.2,493.9 L690.0,494.9 L686.7,494.5 L682.5,494.3 L679.3,496.3 L676.6,497.9 L673.1,500.3 L672.6,502.4 L669.0,503.8 L666.1,506.0 L665.0,506.5 L660.6,508.7 L659.3,511.4 L657.4,506.6 L656.3,503.8 L654.5,501.2 L651.5,499.8 L649.2,495.3 L648.3,493.9 L648.6,490.8 L648.2,487.4 L647.7,483.4 L645.2,481.5 L644.8,479.1 L645.1,475.6 L645.0,472.8 L643.1,469.4 L643.8,467.7 L641.7,464.6 L643.0,460.9 L641.8,457.0 L641.6,454.6 L641.6,450.3 L642.4,448.5 L640.8,446.1 L641.1,442.2 L641.2,438.1 L640.7,435.8 L641.6,434.0 L639.7,429.8 L639.2,426.6 L640.8,424.7 L639.8,420.1 L638.9,417.8 L640.8,413.3 L640.4,409.8 L638.9,407.1 L640.2,404.1 L639.3,401.5 L638.7,398.6 L638.8,394.8 L639.1,390.7 L639.8,388.1 Z"/></clipPath><path d="M639.6,385.1 L643.8,386.2 L645.8,387.8 L648.0,388.9 L652.1,390.9 L653.8,391.0 L656.6,390.4 L660.9,386.6 L664.4,387.1 L666.3,384.4 L667.9,381.0 L671.6,379.3 L673.5,377.9 L672.7,374.9 L673.3,372.4 L673.1,368.5 L672.6,365.1 L672.1,360.6 L675.6,360.3 L677.4,357.4 L678.2,354.0 L680.3,351.4 L682.8,349.3 L684.4,346.3 L686.0,344.4 L685.0,339.9 L688.6,337.5 L690.2,334.4 L689.3,332.0 L692.4,328.1 L693.9,328.1 L699.4,328.9 L700.5,327.4 L703.7,326.7 L708.7,326.8 L711.3,327.2 L713.7,327.7 L716.8,327.3 L720.0,326.5 L723.5,325.9 L728.2,328.8 L729.3,330.5 L731.9,330.8 L736.3,332.9 L737.3,335.3 L740.3,335.0 L744.6,336.7 L746.2,337.6 L748.5,340.4 L751.7,342.0 L751.5,344.7 L752.5,347.9 L751.1,352.0 L749.6,353.3 L750.9,358.1 L748.8,359.7 L749.6,364.7 L747.7,367.8 L749.0,370.1 L749.0,371.6 L749.3,376.5 L751.1,378.7 L752.4,381.8 L754.5,383.2 L754.6,387.1 L755.6,388.6 L759.8,389.1 L762.9,386.6 L766.6,385.3 L767.3,384.4 L771.3,382.8 L773.6,382.5 L777.6,380.8 L780.0,381.6 L784.5,380.0 L786.7,378.7 L788.3,376.2 L787.8,381.5 L789.4,384.7 L787.5,387.0 L788.5,390.3 L787.9,394.1 L787.1,396.0 L788.6,400.0 L788.4,402.6 L788.4,406.2 L787.1,408.7 L788.3,412.3 L787.0,415.1 L787.9,417.7 L787.2,420.3 L786.9,424.0 L785.5,427.1 L787.6,430.8 L786.8,432.7 L786.7,436.3 L785.8,440.0 L784.8,442.9 L784.5,445.6 L785.5,447.8 L785.8,451.5 L785.5,455.7 L784.4,456.5 L784.4,461.2 L783.4,463.0 L784.5,467.3 L782.6,471.0 L781.6,473.5 L780.5,476.0 L781.3,480.3 L780.8,482.0 L779.3,484.9 L777.5,488.5 L778.5,492.4 L777.5,495.8 L775.6,496.9 L773.3,498.7 L769.9,500.6 L768.2,502.3 L764.6,504.7 L763.5,505.3 L758.4,505.8 L757.6,507.4 L754.5,507.3 L750.8,506.5 L747.4,503.5 L745.7,501.9 L744.0,501.1 L739.5,499.3 L738.0,498.9 L735.3,498.1 L732.7,499.5 L729.3,498.2 L725.6,498.7 L721.4,500.1 L720.0,500.0 L715.8,501.0 L713.8,502.1 L710.7,501.2 L707.3,499.8 L705.7,496.6 L702.8,496.8 L698.0,494.6 L696.3,494.3 L692.2,493.9 L690.0,494.9 L686.7,494.5 L682.5,494.3 L679.3,496.3 L676.6,497.9 L673.1,500.3 L672.6,502.4 L669.0,503.8 L666.1,506.0 L665.0,506.5 L660.6,508.7 L659.3,511.4 L657.4,506.6 L656.3,503.8 L654.5,501.2 L651.5,499.8 L649.2,495.3 L648.3,493.9 L648.6,490.8 L648.2,487.4 L647.7,483.4 L645.2,481.5 L644.8,479.1 L645.1,475.6 L645.0,472.8 L643.1,469.4 L643.8,467.7 L641.7,464.6 L643.0,460.9 L641.8,457.0 L641.6,454.6 L641.6,450.3 L642.4,448.5 L640.8,446.1 L641.1,442.2 L641.2,438.1 L640.7,435.8 L641.6,434.0 L639.7,429.8 L639.2,426.6 L640.8,424.7 L639.8,420.1 L638.9,417.8 L640.8,413.3 L640.4,409.8 L638.9,407.1 L640.2,404.1 L639.3,401.5 L638.7,398.6 L638.8,394.8 L639.1,390.7 L639.8,388.1 Z" fill="#dccbc4"/><path d="M639.6,385.1 L643.8,386.2 L645.8,387.8 L648.0,388.9 L652.1,390.9 L653.8,391.0 L656.6,390.4 L660.9,386.6 L664.4,387.1 L666.3,384.4 L667.9,381.0 L671.6,379.3 L673.5,377.9 L672.7,374.9 L673.3,372.4 L673.1,368.5 L672.6,365.1 L672.1,360.6 L675.6,360.3 L677.4,357.4 L678.2,354.0 L680.3,351.4 L682.8,349.3 L684.4,346.3 L686.0,344.4 L685.0,339.9 L688.6,337.5 L690.2,334.4 L689.3,332.0 L692.4,328.1 L693.9,328.1 L699.4,328.9 L700.5,327.4 L703.7,326.7 L708.7,326.8 L711.3,327.2 L713.7,327.7 L716.8,327.3 L720.0,326.5 L723.5,325.9 L728.2,328.8 L729.3,330.5 L731.9,330.8 L736.3,332.9 L737.3,335.3 L740.3,335.0 L744.6,336.7 L746.2,337.6 L748.5,340.4 L751.7,342.0 L751.5,344.7 L752.5,347.9 L751.1,352.0 L749.6,353.3 L750.9,358.1 L748.8,359.7 L749.6,364.7 L747.7,367.8 L749.0,370.1 L749.0,371.6 L749.3,376.5 L751.1,378.7 L752.4,381.8 L754.5,383.2 L754.6,387.1 L755.6,388.6 L759.8,389.1 L762.9,386.6 L766.6,385.3 L767.3,384.4 L771.3,382.8 L773.6,382.5 L777.6,380.8 L780.0,381.6 L784.5,380.0 L786.7,378.7 L788.3,376.2 L787.8,381.5 L789.4,384.7 L787.5,387.0 L788.5,390.3 L787.9,394.1 L787.1,396.0 L788.6,400.0 L788.4,402.6 L788.4,406.2 L787.1,408.7 L788.3,412.3 L787.0,415.1 L787.9,417.7 L787.2,420.3 L786.9,424.0 L785.5,427.1 L787.6,430.8 L786.8,432.7 L786.7,436.3 L785.8,440.0 L784.8,442.9 L784.5,445.6 L785.5,447.8 L785.8,451.5 L785.5,455.7 L784.4,456.5 L784.4,461.2 L783.4,463.0 L784.5,467.3 L782.6,471.0 L781.6,473.5 L780.5,476.0 L781.3,480.3 L780.8,482.0 L779.3,484.9 L777.5,488.5 L778.5,492.4 L777.5,495.8 L775.6,496.9 L773.3,498.7 L769.9,500.6 L768.2,502.3 L764.6,504.7 L763.5,505.3 L758.4,505.8 L757.6,507.4 L754.5,507.3 L750.8,506.5 L747.4,503.5 L745.7,501.9 L744.0,501.1 L739.5,499.3 L738.0,498.9 L735.3,498.1 L732.7,499.5 L729.3,498.2 L725.6,498.7 L721.4,500.1 L720.0,500.0 L715.8,501.0 L713.8,502.1 L710.7,501.2 L707.3,499.8 L705.7,496.6 L702.8,496.8 L698.0,494.6 L696.3,494.3 L692.2,493.9 L690.0,494.9 L686.7,494.5 L682.5,494.3 L679.3,496.3 L676.6,497.9 L673.1,500.3 L672.6,502.4 L669.0,503.8 L666.1,506.0 L665.0,506.5 L660.6,508.7 L659.3,511.4 L657.4,506.6 L656.3,503.8 L654.5,501.2 L651.5,499.8 L649.2,495.3 L648.3,493.9 L648.6,490.8 L648.2,487.4 L647.7,483.4 L645.2,481.5 L644.8,479.1 L645.1,475.6 L645.0,472.8 L643.1,469.4 L643.8,467.7 L641.7,464.6 L643.0,460.9 L641.8,457.0 L641.6,454.6 L641.6,450.3 L642.4,448.5 L640.8,446.1 L641.1,442.2 L641.2,438.1 L640.7,435.8 L641.6,434.0 L639.7,429.8 L639.2,426.6 L640.8,424.7 L639.8,420.1 L638.9,417.8 L640.8,413.3 L640.4,409.8 L638.9,407.1 L640.2,404.1 L639.3,401.5 L638.7,398.6 L638.8,394.8 L639.1,390.7 L639.8,388.1 Z" fill="#000" filter="url(#fShade)"/><path d="M639.6,385.1 L643.8,386.2 L645.8,387.8 L648.0,388.9 L652.1,390.9 L653.8,391.0 L656.6,390.4 L660.9,386.6 L664.4,387.1 L666.3,384.4 L667.9,381.0 L671.6,379.3 L673.5,377.9 L672.7,374.9 L673.3,372.4 L673.1,368.5 L672.6,365.1 L672.1,360.6 L675.6,360.3 L677.4,357.4 L678.2,354.0 L680.3,351.4 L682.8,349.3 L684.4,346.3 L686.0,344.4 L685.0,339.9 L688.6,337.5 L690.2,334.4 L689.3,332.0 L692.4,328.1 L693.9,328.1 L699.4,328.9 L700.5,327.4 L703.7,326.7 L708.7,326.8 L711.3,327.2 L713.7,327.7 L716.8,327.3 L720.0,326.5 L723.5,325.9 L728.2,328.8 L729.3,330.5 L731.9,330.8 L736.3,332.9 L737.3,335.3 L740.3,335.0 L744.6,336.7 L746.2,337.6 L748.5,340.4 L751.7,342.0 L751.5,344.7 L752.5,347.9 L751.1,352.0 L749.6,353.3 L750.9,358.1 L748.8,359.7 L749.6,364.7 L747.7,367.8 L749.0,370.1 L749.0,371.6 L749.3,376.5 L751.1,378.7 L752.4,381.8 L754.5,383.2 L754.6,387.1 L755.6,388.6 L759.8,389.1 L762.9,386.6 L766.6,385.3 L767.3,384.4 L771.3,382.8 L773.6,382.5 L777.6,380.8 L780.0,381.6 L784.5,380.0 L786.7,378.7 L788.3,376.2 L787.8,381.5 L789.4,384.7 L787.5,387.0 L788.5,390.3 L787.9,394.1 L787.1,396.0 L788.6,400.0 L788.4,402.6 L788.4,406.2 L787.1,408.7 L788.3,412.3 L787.0,415.1 L787.9,417.7 L787.2,420.3 L786.9,424.0 L785.5,427.1 L787.6,430.8 L786.8,432.7 L786.7,436.3 L785.8,440.0 L784.8,442.9 L784.5,445.6 L785.5,447.8 L785.8,451.5 L785.5,455.7 L784.4,456.5 L784.4,461.2 L783.4,463.0 L784.5,467.3 L782.6,471.0 L781.6,473.5 L780.5,476.0 L781.3,480.3 L780.8,482.0 L779.3,484.9 L777.5,488.5 L778.5,492.4 L777.5,495.8 L775.6,496.9 L773.3,498.7 L769.9,500.6 L768.2,502.3 L764.6,504.7 L763.5,505.3 L758.4,505.8 L757.6,507.4 L754.5,507.3 L750.8,506.5 L747.4,503.5 L745.7,501.9 L744.0,501.1 L739.5,499.3 L738.0,498.9 L735.3,498.1 L732.7,499.5 L729.3,498.2 L725.6,498.7 L721.4,500.1 L720.0,500.0 L715.8,501.0 L713.8,502.1 L710.7,501.2 L707.3,499.8 L705.7,496.6 L702.8,496.8 L698.0,494.6 L696.3,494.3 L692.2,493.9 L690.0,494.9 L686.7,494.5 L682.5,494.3 L679.3,496.3 L676.6,497.9 L673.1,500.3 L672.6,502.4 L669.0,503.8 L666.1,506.0 L665.0,506.5 L660.6,508.7 L659.3,511.4 L657.4,506.6 L656.3,503.8 L654.5,501.2 L651.5,499.8 L649.2,495.3 L648.3,493.9 L648.6,490.8 L648.2,487.4 L647.7,483.4 L645.2,481.5 L644.8,479.1 L645.1,475.6 L645.0,472.8 L643.1,469.4 L643.8,467.7 L641.7,464.6 L643.0,460.9 L641.8,457.0 L641.6,454.6 L641.6,450.3 L642.4,448.5 L640.8,446.1 L641.1,442.2 L641.2,438.1 L640.7,435.8 L641.6,434.0 L639.7,429.8 L639.2,426.6 L640.8,424.7 L639.8,420.1 L638.9,417.8 L640.8,413.3 L640.4,409.8 L638.9,407.1 L640.2,404.1 L639.3,401.5 L638.7,398.6 L638.8,394.8 L639.1,390.7 L639.8,388.1 Z" fill="#000" filter="url(#fHoles)" opacity="1.0"/><path d="M639.6,385.1 L643.8,386.2 L645.8,387.8 L648.0,388.9 L652.1,390.9 L653.8,391.0 L656.6,390.4 L660.9,386.6 L664.4,387.1 L666.3,384.4 L667.9,381.0 L671.6,379.3 L673.5,377.9 L672.7,374.9 L673.3,372.4 L673.1,368.5 L672.6,365.1 L672.1,360.6 L675.6,360.3 L677.4,357.4 L678.2,354.0 L680.3,351.4 L682.8,349.3 L684.4,346.3 L686.0,344.4 L685.0,339.9 L688.6,337.5 L690.2,334.4 L689.3,332.0 L692.4,328.1 L693.9,328.1 L699.4,328.9 L700.5,327.4 L703.7,326.7 L708.7,326.8 L711.3,327.2 L713.7,327.7 L716.8,327.3 L720.0,326.5 L723.5,325.9 L728.2,328.8 L729.3,330.5 L731.9,330.8 L736.3,332.9 L737.3,335.3 L740.3,335.0 L744.6,336.7 L746.2,337.6 L748.5,340.4 L751.7,342.0 L751.5,344.7 L752.5,347.9 L751.1,352.0 L749.6,353.3 L750.9,358.1 L748.8,359.7 L749.6,364.7 L747.7,367.8 L749.0,370.1 L749.0,371.6 L749.3,376.5 L751.1,378.7 L752.4,381.8 L754.5,383.2 L754.6,387.1 L755.6,388.6 L759.8,389.1 L762.9,386.6 L766.6,385.3 L767.3,384.4 L771.3,382.8 L773.6,382.5 L777.6,380.8 L780.0,381.6 L784.5,380.0 L786.7,378.7 L788.3,376.2 L787.8,381.5 L789.4,384.7 L787.5,387.0 L788.5,390.3 L787.9,394.1 L787.1,396.0 L788.6,400.0 L788.4,402.6 L788.4,406.2 L787.1,408.7 L788.3,412.3 L787.0,415.1 L787.9,417.7 L787.2,420.3 L786.9,424.0 L785.5,427.1 L787.6,430.8 L786.8,432.7 L786.7,436.3 L785.8,440.0 L784.8,442.9 L784.5,445.6 L785.5,447.8 L785.8,451.5 L785.5,455.7 L784.4,456.5 L784.4,461.2 L783.4,463.0 L784.5,467.3 L782.6,471.0 L781.6,473.5 L780.5,476.0 L781.3,480.3 L780.8,482.0 L779.3,484.9 L777.5,488.5 L778.5,492.4 L777.5,495.8 L775.6,496.9 L773.3,498.7 L769.9,500.6 L768.2,502.3 L764.6,504.7 L763.5,505.3 L758.4,505.8 L757.6,507.4 L754.5,507.3 L750.8,506.5 L747.4,503.5 L745.7,501.9 L744.0,501.1 L739.5,499.3 L738.0,498.9 L735.3,498.1 L732.7,499.5 L729.3,498.2 L725.6,498.7 L721.4,500.1 L720.0,500.0 L715.8,501.0 L713.8,502.1 L710.7,501.2 L707.3,499.8 L705.7,496.6 L702.8,496.8 L698.0,494.6 L696.3,494.3 L692.2,493.9 L690.0,494.9 L686.7,494.5 L682.5,494.3 L679.3,496.3 L676.6,497.9 L673.1,500.3 L672.6,502.4 L669.0,503.8 L666.1,506.0 L665.0,506.5 L660.6,508.7 L659.3,511.4 L657.4,506.6 L656.3,503.8 L654.5,501.2 L651.5,499.8 L649.2,495.3 L648.3,493.9 L648.6,490.8 L648.2,487.4 L647.7,483.4 L645.2,481.5 L644.8,479.1 L645.1,475.6 L645.0,472.8 L643.1,469.4 L643.8,467.7 L641.7,464.6 L643.0,460.9 L641.8,457.0 L641.6,454.6 L641.6,450.3 L642.4,448.5 L640.8,446.1 L641.1,442.2 L641.2,438.1 L640.7,435.8 L641.6,434.0 L639.7,429.8 L639.2,426.6 L640.8,424.7 L639.8,420.1 L638.9,417.8 L640.8,413.3 L640.4,409.8 L638.9,407.1 L640.2,404.1 L639.3,401.5 L638.7,398.6 L638.8,394.8 L639.1,390.7 L639.8,388.1 Z" fill="#000" filter="url(#fStr)" opacity="0.6"/><path d="M806.1,361.2 L809.6,359.2 L811.0,359.0 L814.7,359.3 L818.7,358.0 L821.4,357.4 L823.4,356.1 L826.4,356.5 L829.2,355.6 L832.2,354.5 L835.3,355.7 L839.0,356.7 L839.4,360.9 L843.0,360.7 L846.6,364.8 L846.8,365.5 L849.3,367.1 L852.5,369.0 L854.6,371.0 L855.3,375.2 L857.9,376.4 L860.3,378.8 L861.8,380.0 L864.6,384.6 L867.2,386.1 L867.6,387.6 L870.4,390.6 L871.0,391.8 L873.6,394.7 L875.0,397.7 L873.3,401.5 L874.6,403.7 L874.4,406.5 L875.1,410.3 L874.7,412.8 L875.2,416.1 L875.1,418.0 L876.2,421.9 L875.8,424.5 L876.5,427.0 L877.4,431.7 L877.8,434.7 L877.3,437.6 L878.1,438.7 L879.3,443.5 L877.8,444.9 L878.6,448.2 L876.2,450.4 L874.6,455.0 L875.9,459.1 L873.6,459.7 L872.1,464.7 L872.3,467.4 L869.7,470.2 L869.2,473.6 L867.6,477.4 L868.1,478.6 L864.0,482.4 L861.5,484.7 L859.5,486.2 L857.5,487.1 L853.9,489.3 L852.3,492.6 L848.4,495.2 L846.6,495.7 L843.6,496.4 L840.9,494.4 L838.8,494.1 L835.4,491.6 L832.0,491.7 L829.5,489.8 L825.3,488.1 L823.3,487.5 L818.5,486.7 L818.5,484.5 L816.4,482.4 L813.3,479.6 L810.7,475.5 L808.5,473.6 L807.8,472.1 L804.6,469.5 L803.5,466.3 L804.8,462.9 L803.6,459.9 L803.7,457.5 L803.2,453.0 L803.5,451.5 L804.5,448.4 L804.9,444.6 L802.5,441.9 L803.5,438.1 L803.9,435.5 L802.8,432.4 L804.4,428.6 L802.9,426.2 L802.4,423.6 L802.4,421.7 L803.0,418.2 L802.0,414.5 L803.1,412.5 L802.4,408.3 L804.1,406.1 L802.8,402.2 L804.3,398.6 L804.3,396.1 L805.3,392.7 L804.7,389.0 L805.1,385.8 L804.7,382.7 L804.4,378.9 L804.5,376.8 L804.7,372.4 L806.3,369.8 L806.9,367.4 L805.7,364.9 Z" fill="#e9ded9"/><path d="M806.1,361.2 L809.6,359.2 L811.0,359.0 L814.7,359.3 L818.7,358.0 L821.4,357.4 L823.4,356.1 L826.4,356.5 L829.2,355.6 L832.2,354.5 L835.3,355.7 L839.0,356.7 L839.4,360.9 L843.0,360.7 L846.6,364.8 L846.8,365.5 L849.3,367.1 L852.5,369.0 L854.6,371.0 L855.3,375.2 L857.9,376.4 L860.3,378.8 L861.8,380.0 L864.6,384.6 L867.2,386.1 L867.6,387.6 L870.4,390.6 L871.0,391.8 L873.6,394.7 L875.0,397.7 L873.3,401.5 L874.6,403.7 L874.4,406.5 L875.1,410.3 L874.7,412.8 L875.2,416.1 L875.1,418.0 L876.2,421.9 L875.8,424.5 L876.5,427.0 L877.4,431.7 L877.8,434.7 L877.3,437.6 L878.1,438.7 L879.3,443.5 L877.8,444.9 L878.6,448.2 L876.2,450.4 L874.6,455.0 L875.9,459.1 L873.6,459.7 L872.1,464.7 L872.3,467.4 L869.7,470.2 L869.2,473.6 L867.6,477.4 L868.1,478.6 L864.0,482.4 L861.5,484.7 L859.5,486.2 L857.5,487.1 L853.9,489.3 L852.3,492.6 L848.4,495.2 L846.6,495.7 L843.6,496.4 L840.9,494.4 L838.8,494.1 L835.4,491.6 L832.0,491.7 L829.5,489.8 L825.3,488.1 L823.3,487.5 L818.5,486.7 L818.5,484.5 L816.4,482.4 L813.3,479.6 L810.7,475.5 L808.5,473.6 L807.8,472.1 L804.6,469.5 L803.5,466.3 L804.8,462.9 L803.6,459.9 L803.7,457.5 L803.2,453.0 L803.5,451.5 L804.5,448.4 L804.9,444.6 L802.5,441.9 L803.5,438.1 L803.9,435.5 L802.8,432.4 L804.4,428.6 L802.9,426.2 L802.4,423.6 L802.4,421.7 L803.0,418.2 L802.0,414.5 L803.1,412.5 L802.4,408.3 L804.1,406.1 L802.8,402.2 L804.3,398.6 L804.3,396.1 L805.3,392.7 L804.7,389.0 L805.1,385.8 L804.7,382.7 L804.4,378.9 L804.5,376.8 L804.7,372.4 L806.3,369.8 L806.9,367.4 L805.7,364.9 Z" fill="#000" filter="url(#fShade)"/><path d="M806.1,361.2 L809.6,359.2 L811.0,359.0 L814.7,359.3 L818.7,358.0 L821.4,357.4 L823.4,356.1 L826.4,356.5 L829.2,355.6 L832.2,354.5 L835.3,355.7 L839.0,356.7 L839.4,360.9 L843.0,360.7 L846.6,364.8 L846.8,365.5 L849.3,367.1 L852.5,369.0 L854.6,371.0 L855.3,375.2 L857.9,376.4 L860.3,378.8 L861.8,380.0 L864.6,384.6 L867.2,386.1 L867.6,387.6 L870.4,390.6 L871.0,391.8 L873.6,394.7 L875.0,397.7 L873.3,401.5 L874.6,403.7 L874.4,406.5 L875.1,410.3 L874.7,412.8 L875.2,416.1 L875.1,418.0 L876.2,421.9 L875.8,424.5 L876.5,427.0 L877.4,431.7 L877.8,434.7 L877.3,437.6 L878.1,438.7 L879.3,443.5 L877.8,444.9 L878.6,448.2 L876.2,450.4 L874.6,455.0 L875.9,459.1 L873.6,459.7 L872.1,464.7 L872.3,467.4 L869.7,470.2 L869.2,473.6 L867.6,477.4 L868.1,478.6 L864.0,482.4 L861.5,484.7 L859.5,486.2 L857.5,487.1 L853.9,489.3 L852.3,492.6 L848.4,495.2 L846.6,495.7 L843.6,496.4 L840.9,494.4 L838.8,494.1 L835.4,491.6 L832.0,491.7 L829.5,489.8 L825.3,488.1 L823.3,487.5 L818.5,486.7 L818.5,484.5 L816.4,482.4 L813.3,479.6 L810.7,475.5 L808.5,473.6 L807.8,472.1 L804.6,469.5 L803.5,466.3 L804.8,462.9 L803.6,459.9 L803.7,457.5 L803.2,453.0 L803.5,451.5 L804.5,448.4 L804.9,444.6 L802.5,441.9 L803.5,438.1 L803.9,435.5 L802.8,432.4 L804.4,428.6 L802.9,426.2 L802.4,423.6 L802.4,421.7 L803.0,418.2 L802.0,414.5 L803.1,412.5 L802.4,408.3 L804.1,406.1 L802.8,402.2 L804.3,398.6 L804.3,396.1 L805.3,392.7 L804.7,389.0 L805.1,385.8 L804.7,382.7 L804.4,378.9 L804.5,376.8 L804.7,372.4 L806.3,369.8 L806.9,367.4 L805.7,364.9 Z" fill="#000" filter="url(#fHoles)" opacity="1.0"/><path d="M806.1,361.2 L809.6,359.2 L811.0,359.0 L814.7,359.3 L818.7,358.0 L821.4,357.4 L823.4,356.1 L826.4,356.5 L829.2,355.6 L832.2,354.5 L835.3,355.7 L839.0,356.7 L839.4,360.9 L843.0,360.7 L846.6,364.8 L846.8,365.5 L849.3,367.1 L852.5,369.0 L854.6,371.0 L855.3,375.2 L857.9,376.4 L860.3,378.8 L861.8,380.0 L864.6,384.6 L867.2,386.1 L867.6,387.6 L870.4,390.6 L871.0,391.8 L873.6,394.7 L875.0,397.7 L873.3,401.5 L874.6,403.7 L874.4,406.5 L875.1,410.3 L874.7,412.8 L875.2,416.1 L875.1,418.0 L876.2,421.9 L875.8,424.5 L876.5,427.0 L877.4,431.7 L877.8,434.7 L877.3,437.6 L878.1,438.7 L879.3,443.5 L877.8,444.9 L878.6,448.2 L876.2,450.4 L874.6,455.0 L875.9,459.1 L873.6,459.7 L872.1,464.7 L872.3,467.4 L869.7,470.2 L869.2,473.6 L867.6,477.4 L868.1,478.6 L864.0,482.4 L861.5,484.7 L859.5,486.2 L857.5,487.1 L853.9,489.3 L852.3,492.6 L848.4,495.2 L846.6,495.7 L843.6,496.4 L840.9,494.4 L838.8,494.1 L835.4,491.6 L832.0,491.7 L829.5,489.8 L825.3,488.1 L823.3,487.5 L818.5,486.7 L818.5,484.5 L816.4,482.4 L813.3,479.6 L810.7,475.5 L808.5,473.6 L807.8,472.1 L804.6,469.5 L803.5,466.3 L804.8,462.9 L803.6,459.9 L803.7,457.5 L803.2,453.0 L803.5,451.5 L804.5,448.4 L804.9,444.6 L802.5,441.9 L803.5,438.1 L803.9,435.5 L802.8,432.4 L804.4,428.6 L802.9,426.2 L802.4,423.6 L802.4,421.7 L803.0,418.2 L802.0,414.5 L803.1,412.5 L802.4,408.3 L804.1,406.1 L802.8,402.2 L804.3,398.6 L804.3,396.1 L805.3,392.7 L804.7,389.0 L805.1,385.8 L804.7,382.7 L804.4,378.9 L804.5,376.8 L804.7,372.4 L806.3,369.8 L806.9,367.4 L805.7,364.9 Z" fill="#000" filter="url(#fStr)" opacity="0.6"/><path d="M546.7,534.1 L550.2,532.0 L551.3,528.1 L553.7,525.6 L557.5,523.0 L559.4,520.7 L561.3,518.9 L565.0,516.9 L566.0,515.7 L569.3,516.8 L574.0,516.3 L577.1,515.7 L580.4,515.5 L581.7,515.3 L585.2,514.7 L588.4,513.5 L591.0,513.1 L593.3,514.2 L597.0,517.7 L599.9,519.3 L601.3,521.3 L602.7,523.0 L605.9,523.6 L607.8,526.3 L610.4,528.0 L613.7,529.6 L615.0,531.7 L617.7,532.9 L619.0,536.0 L620.1,539.4 L623.6,541.5 L624.4,545.5 L624.1,546.3 L627.3,550.7 L628.3,551.7 L629.1,556.2 L631.6,558.7 L631.3,561.6 L631.2,564.4 L630.0,568.1 L630.7,570.6 L629.2,573.5 L629.6,576.5 L628.5,580.0 L627.9,582.0 L627.0,586.1 L626.3,588.1 L625.7,592.3 L626.4,595.2 L624.6,598.0 L624.8,600.3 L621.4,604.7 L619.2,605.1 L617.0,607.9 L614.0,609.7 L612.2,612.8 L608.7,613.6 L607.4,617.3 L604.9,618.2 L602.5,616.1 L598.1,614.9 L597.4,613.8 L593.0,612.0 L591.6,609.2 L588.1,607.7 L584.7,605.9 L582.1,604.3 L579.1,602.8 L576.7,602.0 L575.5,598.4 L573.4,597.2 L570.1,596.4 L567.2,594.0 L564.9,591.9 L563.4,590.2 L560.8,588.8 L557.0,587.5 L553.7,585.2 L552.0,584.2 L550.8,583.9 L546.2,581.1 L546.1,578.7 L546.2,575.8 L546.5,570.8 L544.8,568.0 L546.7,564.7 L545.4,562.2 L544.7,560.2 L544.1,556.9 L544.9,554.4 L544.3,551.2 L543.8,547.3 L545.1,544.6 L546.6,539.4 L545.5,537.1 Z" fill="#e9ded9"/><path d="M546.7,534.1 L550.2,532.0 L551.3,528.1 L553.7,525.6 L557.5,523.0 L559.4,520.7 L561.3,518.9 L565.0,516.9 L566.0,515.7 L569.3,516.8 L574.0,516.3 L577.1,515.7 L580.4,515.5 L581.7,515.3 L585.2,514.7 L588.4,513.5 L591.0,513.1 L593.3,514.2 L597.0,517.7 L599.9,519.3 L601.3,521.3 L602.7,523.0 L605.9,523.6 L607.8,526.3 L610.4,528.0 L613.7,529.6 L615.0,531.7 L617.7,532.9 L619.0,536.0 L620.1,539.4 L623.6,541.5 L624.4,545.5 L624.1,546.3 L627.3,550.7 L628.3,551.7 L629.1,556.2 L631.6,558.7 L631.3,561.6 L631.2,564.4 L630.0,568.1 L630.7,570.6 L629.2,573.5 L629.6,576.5 L628.5,580.0 L627.9,582.0 L627.0,586.1 L626.3,588.1 L625.7,592.3 L626.4,595.2 L624.6,598.0 L624.8,600.3 L621.4,604.7 L619.2,605.1 L617.0,607.9 L614.0,609.7 L612.2,612.8 L608.7,613.6 L607.4,617.3 L604.9,618.2 L602.5,616.1 L598.1,614.9 L597.4,613.8 L593.0,612.0 L591.6,609.2 L588.1,607.7 L584.7,605.9 L582.1,604.3 L579.1,602.8 L576.7,602.0 L575.5,598.4 L573.4,597.2 L570.1,596.4 L567.2,594.0 L564.9,591.9 L563.4,590.2 L560.8,588.8 L557.0,587.5 L553.7,585.2 L552.0,584.2 L550.8,583.9 L546.2,581.1 L546.1,578.7 L546.2,575.8 L546.5,570.8 L544.8,568.0 L546.7,564.7 L545.4,562.2 L544.7,560.2 L544.1,556.9 L544.9,554.4 L544.3,551.2 L543.8,547.3 L545.1,544.6 L546.6,539.4 L545.5,537.1 Z" fill="#000" filter="url(#fShade)"/><path d="M546.7,534.1 L550.2,532.0 L551.3,528.1 L553.7,525.6 L557.5,523.0 L559.4,520.7 L561.3,518.9 L565.0,516.9 L566.0,515.7 L569.3,516.8 L574.0,516.3 L577.1,515.7 L580.4,515.5 L581.7,515.3 L585.2,514.7 L588.4,513.5 L591.0,513.1 L593.3,514.2 L597.0,517.7 L599.9,519.3 L601.3,521.3 L602.7,523.0 L605.9,523.6 L607.8,526.3 L610.4,528.0 L613.7,529.6 L615.0,531.7 L617.7,532.9 L619.0,536.0 L620.1,539.4 L623.6,541.5 L624.4,545.5 L624.1,546.3 L627.3,550.7 L628.3,551.7 L629.1,556.2 L631.6,558.7 L631.3,561.6 L631.2,564.4 L630.0,568.1 L630.7,570.6 L629.2,573.5 L629.6,576.5 L628.5,580.0 L627.9,582.0 L627.0,586.1 L626.3,588.1 L625.7,592.3 L626.4,595.2 L624.6,598.0 L624.8,600.3 L621.4,604.7 L619.2,605.1 L617.0,607.9 L614.0,609.7 L612.2,612.8 L608.7,613.6 L607.4,617.3 L604.9,618.2 L602.5,616.1 L598.1,614.9 L597.4,613.8 L593.0,612.0 L591.6,609.2 L588.1,607.7 L584.7,605.9 L582.1,604.3 L579.1,602.8 L576.7,602.0 L575.5,598.4 L573.4,597.2 L570.1,596.4 L567.2,594.0 L564.9,591.9 L563.4,590.2 L560.8,588.8 L557.0,587.5 L553.7,585.2 L552.0,584.2 L550.8,583.9 L546.2,581.1 L546.1,578.7 L546.2,575.8 L546.5,570.8 L544.8,568.0 L546.7,564.7 L545.4,562.2 L544.7,560.2 L544.1,556.9 L544.9,554.4 L544.3,551.2 L543.8,547.3 L545.1,544.6 L546.6,539.4 L545.5,537.1 Z" fill="#000" filter="url(#fHoles)" opacity="1.0"/><path d="M546.7,534.1 L550.2,532.0 L551.3,528.1 L553.7,525.6 L557.5,523.0 L559.4,520.7 L561.3,518.9 L565.0,516.9 L566.0,515.7 L569.3,516.8 L574.0,516.3 L577.1,515.7 L580.4,515.5 L581.7,515.3 L585.2,514.7 L588.4,513.5 L591.0,513.1 L593.3,514.2 L597.0,517.7 L599.9,519.3 L601.3,521.3 L602.7,523.0 L605.9,523.6 L607.8,526.3 L610.4,528.0 L613.7,529.6 L615.0,531.7 L617.7,532.9 L619.0,536.0 L620.1,539.4 L623.6,541.5 L624.4,545.5 L624.1,546.3 L627.3,550.7 L628.3,551.7 L629.1,556.2 L631.6,558.7 L631.3,561.6 L631.2,564.4 L630.0,568.1 L630.7,570.6 L629.2,573.5 L629.6,576.5 L628.5,580.0 L627.9,582.0 L627.0,586.1 L626.3,588.1 L625.7,592.3 L626.4,595.2 L624.6,598.0 L624.8,600.3 L621.4,604.7 L619.2,605.1 L617.0,607.9 L614.0,609.7 L612.2,612.8 L608.7,613.6 L607.4,617.3 L604.9,618.2 L602.5,616.1 L598.1,614.9 L597.4,613.8 L593.0,612.0 L591.6,609.2 L588.1,607.7 L584.7,605.9 L582.1,604.3 L579.1,602.8 L576.7,602.0 L575.5,598.4 L573.4,597.2 L570.1,596.4 L567.2,594.0 L564.9,591.9 L563.4,590.2 L560.8,588.8 L557.0,587.5 L553.7,585.2 L552.0,584.2 L550.8,583.9 L546.2,581.1 L546.1,578.7 L546.2,575.8 L546.5,570.8 L544.8,568.0 L546.7,564.7 L545.4,562.2 L544.7,560.2 L544.1,556.9 L544.9,554.4 L544.3,551.2 L543.8,547.3 L545.1,544.6 L546.6,539.4 L545.5,537.1 Z" fill="#000" filter="url(#fStr)" opacity="0.6"/><clipPath id="clipB2"><path d="M644.2,568.0 L645.6,571.7 L644.6,573.2 L645.8,577.3 L644.7,580.5 L644.9,583.9 L644.2,585.7 L646.2,589.1 L644.6,593.4 L645.5,594.9 L645.3,599.3 L644.4,602.5 L644.3,604.8 L644.2,607.6 L646.4,611.3 L649.3,612.7 L651.1,615.1 L654.2,614.5 L656.8,617.1 L658.6,617.0 L663.1,619.4 L664.3,620.6 L667.2,622.7 L670.7,622.3 L674.6,621.9 L676.4,621.4 L680.7,621.2 L683.3,620.7 L686.3,621.8 L689.5,620.9 L692.5,620.5 L695.9,619.2 L698.7,619.2 L702.8,620.6 L704.0,618.2 L708.7,618.9 L710.1,618.8 L715.5,618.3 L717.0,618.8 L721.5,618.2 L723.0,618.2 L726.9,619.1 L729.0,619.0 L731.5,619.0 L736.9,619.9 L738.2,620.9 L741.4,619.4 L743.7,618.7 L747.2,618.4 L752.0,618.0 L753.5,618.4 L758.3,617.2 L760.9,616.9 L763.5,617.0 L767.6,616.9 L769.6,616.7 L772.3,615.1 L776.8,615.0 L776.6,611.4 L777.2,609.1 L775.8,606.8 L776.6,602.3 L776.4,598.7 L776.5,597.1 L776.6,592.9 L777.6,590.6 L777.7,588.2 L777.6,584.1 L778.3,580.4 L778.0,577.4 L779.5,574.4 L779.6,571.5 L779.8,569.5 L779.3,567.2 L780.3,563.2 L779.1,559.8 L779.9,556.9 L781.8,554.8 L776.4,553.6 L775.4,552.5 L770.1,552.6 L767.8,552.1 L765.7,550.9 L762.6,548.3 L759.1,548.1 L754.3,547.6 L752.2,545.9 L750.2,545.0 L748.6,541.5 L746.4,539.8 L744.6,536.3 L743.9,531.8 L743.0,529.5 L740.8,529.0 L738.3,526.6 L734.7,523.3 L732.3,522.2 L729.3,518.0 L729.3,517.4 L725.7,517.1 L722.2,516.1 L718.9,515.6 L715.0,513.8 L713.2,514.0 L709.8,513.0 L708.1,511.7 L703.1,510.1 L701.7,510.5 L697.5,509.9 L695.8,512.6 L695.1,516.0 L695.6,519.4 L692.7,524.3 L692.8,525.6 L690.2,528.2 L687.2,529.4 L683.8,529.0 L681.7,531.0 L678.6,530.9 L674.9,533.1 L672.0,533.9 L672.5,537.6 L672.5,540.4 L674.0,543.3 L672.6,547.5 L672.8,551.4 L673.4,554.9 L671.1,553.9 L668.1,556.1 L665.1,556.8 L661.8,558.4 L658.4,558.9 L655.0,559.0 L652.2,558.9 L650.5,561.7 L647.3,563.9 Z"/></clipPath><path d="M644.2,568.0 L645.6,571.7 L644.6,573.2 L645.8,577.3 L644.7,580.5 L644.9,583.9 L644.2,585.7 L646.2,589.1 L644.6,593.4 L645.5,594.9 L645.3,599.3 L644.4,602.5 L644.3,604.8 L644.2,607.6 L646.4,611.3 L649.3,612.7 L651.1,615.1 L654.2,614.5 L656.8,617.1 L658.6,617.0 L663.1,619.4 L664.3,620.6 L667.2,622.7 L670.7,622.3 L674.6,621.9 L676.4,621.4 L680.7,621.2 L683.3,620.7 L686.3,621.8 L689.5,620.9 L692.5,620.5 L695.9,619.2 L698.7,619.2 L702.8,620.6 L704.0,618.2 L708.7,618.9 L710.1,618.8 L715.5,618.3 L717.0,618.8 L721.5,618.2 L723.0,618.2 L726.9,619.1 L729.0,619.0 L731.5,619.0 L736.9,619.9 L738.2,620.9 L741.4,619.4 L743.7,618.7 L747.2,618.4 L752.0,618.0 L753.5,618.4 L758.3,617.2 L760.9,616.9 L763.5,617.0 L767.6,616.9 L769.6,616.7 L772.3,615.1 L776.8,615.0 L776.6,611.4 L777.2,609.1 L775.8,606.8 L776.6,602.3 L776.4,598.7 L776.5,597.1 L776.6,592.9 L777.6,590.6 L777.7,588.2 L777.6,584.1 L778.3,580.4 L778.0,577.4 L779.5,574.4 L779.6,571.5 L779.8,569.5 L779.3,567.2 L780.3,563.2 L779.1,559.8 L779.9,556.9 L781.8,554.8 L776.4,553.6 L775.4,552.5 L770.1,552.6 L767.8,552.1 L765.7,550.9 L762.6,548.3 L759.1,548.1 L754.3,547.6 L752.2,545.9 L750.2,545.0 L748.6,541.5 L746.4,539.8 L744.6,536.3 L743.9,531.8 L743.0,529.5 L740.8,529.0 L738.3,526.6 L734.7,523.3 L732.3,522.2 L729.3,518.0 L729.3,517.4 L725.7,517.1 L722.2,516.1 L718.9,515.6 L715.0,513.8 L713.2,514.0 L709.8,513.0 L708.1,511.7 L703.1,510.1 L701.7,510.5 L697.5,509.9 L695.8,512.6 L695.1,516.0 L695.6,519.4 L692.7,524.3 L692.8,525.6 L690.2,528.2 L687.2,529.4 L683.8,529.0 L681.7,531.0 L678.6,530.9 L674.9,533.1 L672.0,533.9 L672.5,537.6 L672.5,540.4 L674.0,543.3 L672.6,547.5 L672.8,551.4 L673.4,554.9 L671.1,553.9 L668.1,556.1 L665.1,556.8 L661.8,558.4 L658.4,558.9 L655.0,559.0 L652.2,558.9 L650.5,561.7 L647.3,563.9 Z" fill="#dccbc4"/><path d="M644.2,568.0 L645.6,571.7 L644.6,573.2 L645.8,577.3 L644.7,580.5 L644.9,583.9 L644.2,585.7 L646.2,589.1 L644.6,593.4 L645.5,594.9 L645.3,599.3 L644.4,602.5 L644.3,604.8 L644.2,607.6 L646.4,611.3 L649.3,612.7 L651.1,615.1 L654.2,614.5 L656.8,617.1 L658.6,617.0 L663.1,619.4 L664.3,620.6 L667.2,622.7 L670.7,622.3 L674.6,621.9 L676.4,621.4 L680.7,621.2 L683.3,620.7 L686.3,621.8 L689.5,620.9 L692.5,620.5 L695.9,619.2 L698.7,619.2 L702.8,620.6 L704.0,618.2 L708.7,618.9 L710.1,618.8 L715.5,618.3 L717.0,618.8 L721.5,618.2 L723.0,618.2 L726.9,619.1 L729.0,619.0 L731.5,619.0 L736.9,619.9 L738.2,620.9 L741.4,619.4 L743.7,618.7 L747.2,618.4 L752.0,618.0 L753.5,618.4 L758.3,617.2 L760.9,616.9 L763.5,617.0 L767.6,616.9 L769.6,616.7 L772.3,615.1 L776.8,615.0 L776.6,611.4 L777.2,609.1 L775.8,606.8 L776.6,602.3 L776.4,598.7 L776.5,597.1 L776.6,592.9 L777.6,590.6 L777.7,588.2 L777.6,584.1 L778.3,580.4 L778.0,577.4 L779.5,574.4 L779.6,571.5 L779.8,569.5 L779.3,567.2 L780.3,563.2 L779.1,559.8 L779.9,556.9 L781.8,554.8 L776.4,553.6 L775.4,552.5 L770.1,552.6 L767.8,552.1 L765.7,550.9 L762.6,548.3 L759.1,548.1 L754.3,547.6 L752.2,545.9 L750.2,545.0 L748.6,541.5 L746.4,539.8 L744.6,536.3 L743.9,531.8 L743.0,529.5 L740.8,529.0 L738.3,526.6 L734.7,523.3 L732.3,522.2 L729.3,518.0 L729.3,517.4 L725.7,517.1 L722.2,516.1 L718.9,515.6 L715.0,513.8 L713.2,514.0 L709.8,513.0 L708.1,511.7 L703.1,510.1 L701.7,510.5 L697.5,509.9 L695.8,512.6 L695.1,516.0 L695.6,519.4 L692.7,524.3 L692.8,525.6 L690.2,528.2 L687.2,529.4 L683.8,529.0 L681.7,531.0 L678.6,530.9 L674.9,533.1 L672.0,533.9 L672.5,537.6 L672.5,540.4 L674.0,543.3 L672.6,547.5 L672.8,551.4 L673.4,554.9 L671.1,553.9 L668.1,556.1 L665.1,556.8 L661.8,558.4 L658.4,558.9 L655.0,559.0 L652.2,558.9 L650.5,561.7 L647.3,563.9 Z" fill="#000" filter="url(#fShade)"/><path d="M644.2,568.0 L645.6,571.7 L644.6,573.2 L645.8,577.3 L644.7,580.5 L644.9,583.9 L644.2,585.7 L646.2,589.1 L644.6,593.4 L645.5,594.9 L645.3,599.3 L644.4,602.5 L644.3,604.8 L644.2,607.6 L646.4,611.3 L649.3,612.7 L651.1,615.1 L654.2,614.5 L656.8,617.1 L658.6,617.0 L663.1,619.4 L664.3,620.6 L667.2,622.7 L670.7,622.3 L674.6,621.9 L676.4,621.4 L680.7,621.2 L683.3,620.7 L686.3,621.8 L689.5,620.9 L692.5,620.5 L695.9,619.2 L698.7,619.2 L702.8,620.6 L704.0,618.2 L708.7,618.9 L710.1,618.8 L715.5,618.3 L717.0,618.8 L721.5,618.2 L723.0,618.2 L726.9,619.1 L729.0,619.0 L731.5,619.0 L736.9,619.9 L738.2,620.9 L741.4,619.4 L743.7,618.7 L747.2,618.4 L752.0,618.0 L753.5,618.4 L758.3,617.2 L760.9,616.9 L763.5,617.0 L767.6,616.9 L769.6,616.7 L772.3,615.1 L776.8,615.0 L776.6,611.4 L777.2,609.1 L775.8,606.8 L776.6,602.3 L776.4,598.7 L776.5,597.1 L776.6,592.9 L777.6,590.6 L777.7,588.2 L777.6,584.1 L778.3,580.4 L778.0,577.4 L779.5,574.4 L779.6,571.5 L779.8,569.5 L779.3,567.2 L780.3,563.2 L779.1,559.8 L779.9,556.9 L781.8,554.8 L776.4,553.6 L775.4,552.5 L770.1,552.6 L767.8,552.1 L765.7,550.9 L762.6,548.3 L759.1,548.1 L754.3,547.6 L752.2,545.9 L750.2,545.0 L748.6,541.5 L746.4,539.8 L744.6,536.3 L743.9,531.8 L743.0,529.5 L740.8,529.0 L738.3,526.6 L734.7,523.3 L732.3,522.2 L729.3,518.0 L729.3,517.4 L725.7,517.1 L722.2,516.1 L718.9,515.6 L715.0,513.8 L713.2,514.0 L709.8,513.0 L708.1,511.7 L703.1,510.1 L701.7,510.5 L697.5,509.9 L695.8,512.6 L695.1,516.0 L695.6,519.4 L692.7,524.3 L692.8,525.6 L690.2,528.2 L687.2,529.4 L683.8,529.0 L681.7,531.0 L678.6,530.9 L674.9,533.1 L672.0,533.9 L672.5,537.6 L672.5,540.4 L674.0,543.3 L672.6,547.5 L672.8,551.4 L673.4,554.9 L671.1,553.9 L668.1,556.1 L665.1,556.8 L661.8,558.4 L658.4,558.9 L655.0,559.0 L652.2,558.9 L650.5,561.7 L647.3,563.9 Z" fill="#000" filter="url(#fHoles)" opacity="1.0"/><path d="M644.2,568.0 L645.6,571.7 L644.6,573.2 L645.8,577.3 L644.7,580.5 L644.9,583.9 L644.2,585.7 L646.2,589.1 L644.6,593.4 L645.5,594.9 L645.3,599.3 L644.4,602.5 L644.3,604.8 L644.2,607.6 L646.4,611.3 L649.3,612.7 L651.1,615.1 L654.2,614.5 L656.8,617.1 L658.6,617.0 L663.1,619.4 L664.3,620.6 L667.2,622.7 L670.7,622.3 L674.6,621.9 L676.4,621.4 L680.7,621.2 L683.3,620.7 L686.3,621.8 L689.5,620.9 L692.5,620.5 L695.9,619.2 L698.7,619.2 L702.8,620.6 L704.0,618.2 L708.7,618.9 L710.1,618.8 L715.5,618.3 L717.0,618.8 L721.5,618.2 L723.0,618.2 L726.9,619.1 L729.0,619.0 L731.5,619.0 L736.9,619.9 L738.2,620.9 L741.4,619.4 L743.7,618.7 L747.2,618.4 L752.0,618.0 L753.5,618.4 L758.3,617.2 L760.9,616.9 L763.5,617.0 L767.6,616.9 L769.6,616.7 L772.3,615.1 L776.8,615.0 L776.6,611.4 L777.2,609.1 L775.8,606.8 L776.6,602.3 L776.4,598.7 L776.5,597.1 L776.6,592.9 L777.6,590.6 L777.7,588.2 L777.6,584.1 L778.3,580.4 L778.0,577.4 L779.5,574.4 L779.6,571.5 L779.8,569.5 L779.3,567.2 L780.3,563.2 L779.1,559.8 L779.9,556.9 L781.8,554.8 L776.4,553.6 L775.4,552.5 L770.1,552.6 L767.8,552.1 L765.7,550.9 L762.6,548.3 L759.1,548.1 L754.3,547.6 L752.2,545.9 L750.2,545.0 L748.6,541.5 L746.4,539.8 L744.6,536.3 L743.9,531.8 L743.0,529.5 L740.8,529.0 L738.3,526.6 L734.7,523.3 L732.3,522.2 L729.3,518.0 L729.3,517.4 L725.7,517.1 L722.2,516.1 L718.9,515.6 L715.0,513.8 L713.2,514.0 L709.8,513.0 L708.1,511.7 L703.1,510.1 L701.7,510.5 L697.5,509.9 L695.8,512.6 L695.1,516.0 L695.6,519.4 L692.7,524.3 L692.8,525.6 L690.2,528.2 L687.2,529.4 L683.8,529.0 L681.7,531.0 L678.6,530.9 L674.9,533.1 L672.0,533.9 L672.5,537.6 L672.5,540.4 L674.0,543.3 L672.6,547.5 L672.8,551.4 L673.4,554.9 L671.1,553.9 L668.1,556.1 L665.1,556.8 L661.8,558.4 L658.4,558.9 L655.0,559.0 L652.2,558.9 L650.5,561.7 L647.3,563.9 Z" fill="#000" filter="url(#fStr)" opacity="0.6"/><path d="M800.6,539.2 L802.2,537.3 L805.1,534.7 L807.1,534.1 L809.3,532.6 L810.0,528.7 L813.5,526.3 L814.6,523.9 L818.3,523.2 L820.4,519.3 L823.8,519.2 L825.1,518.2 L828.5,516.5 L831.9,516.4 L834.9,517.0 L838.1,514.8 L841.7,515.5 L843.8,514.5 L845.6,511.7 L849.0,514.9 L853.3,515.5 L855.3,516.2 L859.8,516.4 L860.9,517.5 L864.8,520.7 L868.0,520.8 L870.9,521.4 L875.0,523.0 L875.1,525.6 L878.5,528.2 L880.5,530.9 L881.3,532.9 L884.3,537.3 L885.1,538.2 L887.0,541.5 L889.8,545.5 L891.4,546.6 L890.0,551.2 L892.5,552.4 L891.7,556.3 L893.2,558.3 L891.2,563.4 L892.8,565.5 L893.7,568.9 L893.8,571.1 L892.5,573.6 L893.5,578.3 L893.9,580.6 L893.3,584.3 L892.0,586.1 L891.3,590.1 L890.3,593.1 L886.9,595.3 L886.5,597.4 L885.7,599.5 L883.8,604.4 L882.7,607.0 L882.4,608.3 L880.2,611.8 L878.4,612.5 L874.1,613.4 L873.3,616.2 L868.6,617.9 L867.0,618.0 L865.0,618.9 L860.3,620.8 L859.1,622.7 L855.7,625.0 L852.7,626.0 L849.0,627.4 L846.6,625.7 L845.5,624.3 L842.1,622.7 L839.7,620.8 L835.7,619.9 L833.6,617.4 L830.9,616.9 L827.2,616.2 L825.9,613.9 L823.4,614.1 L820.1,611.3 L817.3,607.9 L815.4,607.5 L813.0,604.6 L812.7,601.7 L809.3,598.7 L807.7,596.1 L807.3,593.6 L804.8,591.4 L802.1,586.9 L803.1,583.7 L801.5,581.6 L802.0,578.4 L800.7,575.8 L799.9,572.7 L799.3,570.0 L798.7,566.5 L799.3,564.9 L797.1,561.8 L796.8,556.9 L799.3,553.1 L799.0,551.8 L799.1,547.1 L797.9,543.7 Z" fill="#e9ded9"/><path d="M800.6,539.2 L802.2,537.3 L805.1,534.7 L807.1,534.1 L809.3,532.6 L810.0,528.7 L813.5,526.3 L814.6,523.9 L818.3,523.2 L820.4,519.3 L823.8,519.2 L825.1,518.2 L828.5,516.5 L831.9,516.4 L834.9,517.0 L838.1,514.8 L841.7,515.5 L843.8,514.5 L845.6,511.7 L849.0,514.9 L853.3,515.5 L855.3,516.2 L859.8,516.4 L860.9,517.5 L864.8,520.7 L868.0,520.8 L870.9,521.4 L875.0,523.0 L875.1,525.6 L878.5,528.2 L880.5,530.9 L881.3,532.9 L884.3,537.3 L885.1,538.2 L887.0,541.5 L889.8,545.5 L891.4,546.6 L890.0,551.2 L892.5,552.4 L891.7,556.3 L893.2,558.3 L891.2,563.4 L892.8,565.5 L893.7,568.9 L893.8,571.1 L892.5,573.6 L893.5,578.3 L893.9,580.6 L893.3,584.3 L892.0,586.1 L891.3,590.1 L890.3,593.1 L886.9,595.3 L886.5,597.4 L885.7,599.5 L883.8,604.4 L882.7,607.0 L882.4,608.3 L880.2,611.8 L878.4,612.5 L874.1,613.4 L873.3,616.2 L868.6,617.9 L867.0,618.0 L865.0,618.9 L860.3,620.8 L859.1,622.7 L855.7,625.0 L852.7,626.0 L849.0,627.4 L846.6,625.7 L845.5,624.3 L842.1,622.7 L839.7,620.8 L835.7,619.9 L833.6,617.4 L830.9,616.9 L827.2,616.2 L825.9,613.9 L823.4,614.1 L820.1,611.3 L817.3,607.9 L815.4,607.5 L813.0,604.6 L812.7,601.7 L809.3,598.7 L807.7,596.1 L807.3,593.6 L804.8,591.4 L802.1,586.9 L803.1,583.7 L801.5,581.6 L802.0,578.4 L800.7,575.8 L799.9,572.7 L799.3,570.0 L798.7,566.5 L799.3,564.9 L797.1,561.8 L796.8,556.9 L799.3,553.1 L799.0,551.8 L799.1,547.1 L797.9,543.7 Z" fill="#000" filter="url(#fShade)"/><path d="M800.6,539.2 L802.2,537.3 L805.1,534.7 L807.1,534.1 L809.3,532.6 L810.0,528.7 L813.5,526.3 L814.6,523.9 L818.3,523.2 L820.4,519.3 L823.8,519.2 L825.1,518.2 L828.5,516.5 L831.9,516.4 L834.9,517.0 L838.1,514.8 L841.7,515.5 L843.8,514.5 L845.6,511.7 L849.0,514.9 L853.3,515.5 L855.3,516.2 L859.8,516.4 L860.9,517.5 L864.8,520.7 L868.0,520.8 L870.9,521.4 L875.0,523.0 L875.1,525.6 L878.5,528.2 L880.5,530.9 L881.3,532.9 L884.3,537.3 L885.1,538.2 L887.0,541.5 L889.8,545.5 L891.4,546.6 L890.0,551.2 L892.5,552.4 L891.7,556.3 L893.2,558.3 L891.2,563.4 L892.8,565.5 L893.7,568.9 L893.8,571.1 L892.5,573.6 L893.5,578.3 L893.9,580.6 L893.3,584.3 L892.0,586.1 L891.3,590.1 L890.3,593.1 L886.9,595.3 L886.5,597.4 L885.7,599.5 L883.8,604.4 L882.7,607.0 L882.4,608.3 L880.2,611.8 L878.4,612.5 L874.1,613.4 L873.3,616.2 L868.6,617.9 L867.0,618.0 L865.0,618.9 L860.3,620.8 L859.1,622.7 L855.7,625.0 L852.7,626.0 L849.0,627.4 L846.6,625.7 L845.5,624.3 L842.1,622.7 L839.7,620.8 L835.7,619.9 L833.6,617.4 L830.9,616.9 L827.2,616.2 L825.9,613.9 L823.4,614.1 L820.1,611.3 L817.3,607.9 L815.4,607.5 L813.0,604.6 L812.7,601.7 L809.3,598.7 L807.7,596.1 L807.3,593.6 L804.8,591.4 L802.1,586.9 L803.1,583.7 L801.5,581.6 L802.0,578.4 L800.7,575.8 L799.9,572.7 L799.3,570.0 L798.7,566.5 L799.3,564.9 L797.1,561.8 L796.8,556.9 L799.3,553.1 L799.0,551.8 L799.1,547.1 L797.9,543.7 Z" fill="#000" filter="url(#fHoles)" opacity="1.0"/><path d="M800.6,539.2 L802.2,537.3 L805.1,534.7 L807.1,534.1 L809.3,532.6 L810.0,528.7 L813.5,526.3 L814.6,523.9 L818.3,523.2 L820.4,519.3 L823.8,519.2 L825.1,518.2 L828.5,516.5 L831.9,516.4 L834.9,517.0 L838.1,514.8 L841.7,515.5 L843.8,514.5 L845.6,511.7 L849.0,514.9 L853.3,515.5 L855.3,516.2 L859.8,516.4 L860.9,517.5 L864.8,520.7 L868.0,520.8 L870.9,521.4 L875.0,523.0 L875.1,525.6 L878.5,528.2 L880.5,530.9 L881.3,532.9 L884.3,537.3 L885.1,538.2 L887.0,541.5 L889.8,545.5 L891.4,546.6 L890.0,551.2 L892.5,552.4 L891.7,556.3 L893.2,558.3 L891.2,563.4 L892.8,565.5 L893.7,568.9 L893.8,571.1 L892.5,573.6 L893.5,578.3 L893.9,580.6 L893.3,584.3 L892.0,586.1 L891.3,590.1 L890.3,593.1 L886.9,595.3 L886.5,597.4 L885.7,599.5 L883.8,604.4 L882.7,607.0 L882.4,608.3 L880.2,611.8 L878.4,612.5 L874.1,613.4 L873.3,616.2 L868.6,617.9 L867.0,618.0 L865.0,618.9 L860.3,620.8 L859.1,622.7 L855.7,625.0 L852.7,626.0 L849.0,627.4 L846.6,625.7 L845.5,624.3 L842.1,622.7 L839.7,620.8 L835.7,619.9 L833.6,617.4 L830.9,616.9 L827.2,616.2 L825.9,613.9 L823.4,614.1 L820.1,611.3 L817.3,607.9 L815.4,607.5 L813.0,604.6 L812.7,601.7 L809.3,598.7 L807.7,596.1 L807.3,593.6 L804.8,591.4 L802.1,586.9 L803.1,583.7 L801.5,581.6 L802.0,578.4 L800.7,575.8 L799.9,572.7 L799.3,570.0 L798.7,566.5 L799.3,564.9 L797.1,561.8 L796.8,556.9 L799.3,553.1 L799.0,551.8 L799.1,547.1 L797.9,543.7 Z" fill="#000" filter="url(#fStr)" opacity="0.6"/><path d="M603,366 L609.3,372 L622.3,385 L625.6,406.7 L622.3,450 L618,478.2 L605,491.2 L597,497 L603.5,399 Z" fill="#fbf7f5" opacity="0.3"/><g clip-path="url(#clipS2)"><g fill="none" stroke="#a4847c" stroke-width="2.2" opacity="0.6"><path d="M705,401 Q672,383 642,393"/><path d="M715,393 Q748,371 787,365"/><path d="M705,420 Q672,402 642,412"/><path d="M715,412 Q748,390 787,384"/><path d="M705,439 Q672,421 642,431"/><path d="M715,431 Q748,409 787,403"/><path d="M705,458 Q672,440 642,450"/><path d="M715,450 Q748,428 787,422"/><path d="M705,477 Q672,459 642,469"/><path d="M715,469 Q748,447 787,441"/><path d="M705,496 Q672,478 642,488"/><path d="M715,488 Q748,466 787,460"/></g><g fill="none" stroke="#f6f0ed" stroke-width="3.2" opacity="0.9"><path d="M705,398 Q672,380 642,390"/><path d="M715,390 Q748,368 787,362"/><path d="M705,417 Q672,399 642,409"/><path d="M715,409 Q748,387 787,381"/><path d="M705,436 Q672,418 642,428"/><path d="M715,428 Q748,406 787,400"/><path d="M705,455 Q672,437 642,447"/><path d="M715,447 Q748,425 787,419"/><path d="M705,474 Q672,456 642,466"/><path d="M715,466 Q748,444 787,438"/><path d="M705,493 Q672,475 642,485"/><path d="M715,485 Q748,463 787,457"/></g><path d="M706,372 L705,505 M714,372 L716,505" stroke="#f6f0ed" stroke-width="3" opacity="0.9"/></g><g clip-path="url(#clipB2)"><g fill="none" stroke="#a4847c" stroke-width="2" opacity="0.6"><path d="M707,569 Q676,555 646,563"/><path d="M717,563 Q748,547 780,543"/><path d="M707,583 Q676,569 646,577"/><path d="M717,577 Q748,561 780,557"/><path d="M707,597 Q676,583 646,591"/><path d="M717,591 Q748,575 780,571"/><path d="M707,611 Q676,597 646,605"/><path d="M717,605 Q748,589 780,585"/></g><g fill="none" stroke="#f6f0ed" stroke-width="2.8" opacity="0.9"><path d="M707,566 Q676,552 646,560"/><path d="M717,560 Q748,544 780,540"/><path d="M707,580 Q676,566 646,574"/><path d="M717,574 Q748,558 780,554"/><path d="M707,594 Q676,580 646,588"/><path d="M717,588 Q748,572 780,568"/><path d="M707,608 Q676,594 646,602"/><path d="M717,602 Q748,586 780,582"/></g></g><line x1="525" y1="373.3" x2="840" y2="373.3" stroke="#000" stroke-width="1.6"/><line x1="525" y1="552.9" x2="832.6" y2="552.9" stroke="#000" stroke-width="1.6"/><line x1="529.3" y1="374.3" x2="529.3" y2="470.6" stroke="#000" stroke-width="1.5"/><path d="M529.3,373.3 L529.3,373.3 M529.3,471.6 L529.3,471.6" stroke="#000" stroke-width="1.5"/><path d="M526.3,379.3 L529.3,373.8 L532.3,379.3 Z M526.3,465.6 L529.3,471.1 L532.3,465.6 Z" fill="#000"/><line x1="529.3" y1="553.9" x2="529.3" y2="606.1" stroke="#000" stroke-width="1.5"/><path d="M529.3,552.9 L529.3,552.9 M529.3,607.1 L529.3,607.1" stroke="#000" stroke-width="1.5"/><path d="M526.3,558.9 L529.3,553.4 L532.3,558.9 Z M526.3,601.1 L529.3,606.6 L532.3,601.1 Z" fill="#000"/><text transform="translate(523.00,422.50) rotate(-90)" font-size="16.3" text-anchor="middle" fill="#000" >35 mm</text><text transform="translate(523.00,581.00) rotate(-90)" font-size="15.8" text-anchor="middle" fill="#000" >11.86 mm</text><path d="M603.2,398.8 L596.4,498" fill="none" stroke="#000" stroke-width="1.7" stroke-dasharray="4,2.5" stroke-linejoin="round"/><path d="M706.2,406.5 Q712,450 711.3,501.4" fill="none" stroke="#000" stroke-width="1.7" stroke-dasharray="4,2.5" stroke-linejoin="round"/><path d="M600,569.4 L606.9,571.9 L595,578.8 L600.6,581.3 L595,586.3 L617.5,586.3 L618.8,588.1 L596.3,608.8 L597.5,611.9 L605,611.9" fill="none" stroke="#000" stroke-width="1.7" stroke-dasharray="4,2.5" stroke-linejoin="round"/><path d="M710,580 L703.8,591.3 L705,593.8 L718.8,596.3 L720,598.8 L716.3,606.3 L726.3,610 L717.5,620" fill="none" stroke="#000" stroke-width="1.7" stroke-dasharray="4,2.5" stroke-linejoin="round"/><polygon points="562.90,486.00 562.90,499.20 559.20,499.20 566.90,508.20 574.60,499.20 570.90,499.20 570.90,486.00" fill="#e2c6a2" stroke="#9d9d9d" stroke-width="0.9" stroke-linejoin="miter"/><polygon points="679.40,497.00 679.40,509.30 675.70,509.30 683.40,518.30 691.10,509.30 687.40,509.30 687.40,497.00" fill="#e2c6a2" stroke="#9d9d9d" stroke-width="0.9" stroke-linejoin="miter"/><polygon points="809.00,496.30 809.00,509.30 805.30,509.30 813.00,518.30 820.70,509.30 817.00,509.30 817.00,496.30" fill="#e2c6a2" stroke="#9d9d9d" stroke-width="0.9" stroke-linejoin="miter"/><line x1="852.5" y1="367.4" x2="918.3" y2="334.5" stroke="#000" stroke-width="1.7"/><line x1="851.5" y1="370.5" x2="918.3" y2="611" stroke="#000" stroke-width="1.7"/><circle cx="850.9" cy="368.3" r="2.6" fill="#fff" stroke="#000" stroke-width="1.2"/><clipPath id="semclip"><rect x="918.3" y="334.2" width="276.7" height="277.4"/></clipPath><defs><radialGradient id="sg0" cx="0.45" cy="0.45" r="0.68" fx="0.31" fy="0.40"><stop offset="0" stop-color="rgb(33,33,33)"/><stop offset="0.6" stop-color="rgb(49,49,49)"/><stop offset="1" stop-color="rgb(91,91,91)"/></radialGradient><radialGradient id="sg1" cx="0.45" cy="0.45" r="0.68" fx="0.38" fy="0.37"><stop offset="0" stop-color="rgb(21,21,21)"/><stop offset="0.6" stop-color="rgb(39,39,39)"/><stop offset="1" stop-color="rgb(85,85,85)"/></radialGradient><radialGradient id="sg2" cx="0.45" cy="0.45" r="0.68" fx="0.31" fy="0.42"><stop offset="0" stop-color="rgb(27,27,27)"/><stop offset="0.6" stop-color="rgb(44,44,44)"/><stop offset="1" stop-color="rgb(88,88,88)"/></radialGradient><radialGradient id="sg3" cx="0.45" cy="0.45" r="0.68" fx="0.41" fy="0.37"><stop offset="0" stop-color="rgb(21,21,21)"/><stop offset="0.6" stop-color="rgb(39,39,39)"/><stop offset="1" stop-color="rgb(85,85,85)"/></radialGradient><radialGradient id="sg4" cx="0.45" cy="0.45" r="0.68" fx="0.36" fy="0.32"><stop offset="0" stop-color="rgb(33,33,33)"/><stop offset="0.6" stop-color="rgb(49,49,49)"/><stop offset="1" stop-color="rgb(91,91,91)"/></radialGradient><radialGradient id="sg5" cx="0.45" cy="0.45" r="0.68" fx="0.28" fy="0.35"><stop offset="0" stop-color="rgb(16,16,16)"/><stop offset="0.6" stop-color="rgb(34,34,34)"/><stop offset="1" stop-color="rgb(82,82,82)"/></radialGradient><radialGradient id="sg6" cx="0.45" cy="0.45" r="0.68" fx="0.37" fy="0.29"><stop offset="0" stop-color="rgb(16,16,16)"/><stop offset="0.6" stop-color="rgb(34,34,34)"/><stop offset="1" stop-color="rgb(82,82,82)"/></radialGradient><radialGradient id="sg7" cx="0.45" cy="0.45" r="0.68" fx="0.41" fy="0.32"><stop offset="0" stop-color="rgb(27,27,27)"/><stop offset="0.6" stop-color="rgb(44,44,44)"/><stop offset="1" stop-color="rgb(88,88,88)"/></radialGradient><radialGradient id="sg8" cx="0.45" cy="0.45" r="0.68" fx="0.32" fy="0.29"><stop offset="0" stop-color="rgb(39,39,39)"/><stop offset="0.6" stop-color="rgb(54,54,54)"/><stop offset="1" stop-color="rgb(94,94,94)"/></radialGradient><radialGradient id="sg9" cx="0.45" cy="0.45" r="0.68" fx="0.44" fy="0.41"><stop offset="0" stop-color="rgb(39,39,39)"/><stop offset="0.6" stop-color="rgb(54,54,54)"/><stop offset="1" stop-color="rgb(94,94,94)"/></radialGradient><radialGradient id="sg10" cx="0.45" cy="0.45" r="0.68" fx="0.42" fy="0.39"><stop offset="0" stop-color="rgb(44,44,44)"/><stop offset="0.6" stop-color="rgb(59,59,59)"/><stop offset="1" stop-color="rgb(97,97,97)"/></radialGradient><radialGradient id="sg11" cx="0.45" cy="0.45" r="0.68" fx="0.29" fy="0.34"><stop offset="0" stop-color="rgb(27,27,27)"/><stop offset="0.6" stop-color="rgb(44,44,44)"/><stop offset="1" stop-color="rgb(88,88,88)"/></radialGradient><radialGradient id="sg12" cx="0.45" cy="0.45" r="0.68" fx="0.36" fy="0.30"><stop offset="0" stop-color="rgb(33,33,33)"/><stop offset="0.6" stop-color="rgb(49,49,49)"/><stop offset="1" stop-color="rgb(91,91,91)"/></radialGradient><radialGradient id="sg13" cx="0.45" cy="0.45" r="0.68" fx="0.43" fy="0.35"><stop offset="0" stop-color="rgb(62,62,62)"/><stop offset="0.6" stop-color="rgb(74,74,74)"/><stop offset="1" stop-color="rgb(106,106,106)"/></radialGradient><radialGradient id="sg14" cx="0.45" cy="0.45" r="0.68" fx="0.30" fy="0.43"><stop offset="0" stop-color="rgb(67,67,67)"/><stop offset="0.6" stop-color="rgb(79,79,79)"/><stop offset="1" stop-color="rgb(109,109,109)"/></radialGradient><radialGradient id="sg15" cx="0.45" cy="0.45" r="0.68" fx="0.30" fy="0.45"><stop offset="0" stop-color="rgb(33,33,33)"/><stop offset="0.6" stop-color="rgb(49,49,49)"/><stop offset="1" stop-color="rgb(91,91,91)"/></radialGradient><radialGradient id="sg16" cx="0.45" cy="0.45" r="0.68" fx="0.35" fy="0.38"><stop offset="0" stop-color="rgb(39,39,39)"/><stop offset="0.6" stop-color="rgb(54,54,54)"/><stop offset="1" stop-color="rgb(94,94,94)"/></radialGradient><radialGradient id="sg17" cx="0.45" cy="0.45" r="0.68" fx="0.33" fy="0.37"><stop offset="0" stop-color="rgb(62,62,62)"/><stop offset="0.6" stop-color="rgb(74,74,74)"/><stop offset="1" stop-color="rgb(106,106,106)"/></radialGradient><radialGradient id="sg18" cx="0.45" cy="0.45" r="0.68" fx="0.31" fy="0.29"><stop offset="0" stop-color="rgb(73,73,73)"/><stop offset="0.6" stop-color="rgb(84,84,84)"/><stop offset="1" stop-color="rgb(112,112,112)"/></radialGradient><radialGradient id="sg19" cx="0.45" cy="0.45" r="0.68" fx="0.42" fy="0.32"><stop offset="0" stop-color="rgb(73,73,73)"/><stop offset="0.6" stop-color="rgb(84,84,84)"/><stop offset="1" stop-color="rgb(112,112,112)"/></radialGradient><radialGradient id="sg20" cx="0.45" cy="0.45" r="0.68" fx="0.40" fy="0.32"><stop offset="0" stop-color="rgb(67,67,67)"/><stop offset="0.6" stop-color="rgb(79,79,79)"/><stop offset="1" stop-color="rgb(109,109,109)"/></radialGradient><radialGradient id="sg21" cx="0.45" cy="0.45" r="0.68" fx="0.44" fy="0.44"><stop offset="0" stop-color="rgb(50,50,50)"/><stop offset="0.6" stop-color="rgb(64,64,64)"/><stop offset="1" stop-color="rgb(100,100,100)"/></radialGradient><radialGradient id="sg22" cx="0.45" cy="0.45" r="0.68" fx="0.40" fy="0.42"><stop offset="0" stop-color="rgb(121,121,121)"/><stop offset="0.6" stop-color="rgb(126,126,126)"/><stop offset="1" stop-color="rgb(137,137,137)"/></radialGradient><radialGradient id="sg23" cx="0.45" cy="0.45" r="0.68" fx="0.37" fy="0.41"><stop offset="0" stop-color="rgb(125,125,125)"/><stop offset="0.6" stop-color="rgb(129,129,129)"/><stop offset="1" stop-color="rgb(139,139,139)"/></radialGradient><radialGradient id="sg24" cx="0.45" cy="0.45" r="0.68" fx="0.30" fy="0.37"><stop offset="0" stop-color="rgb(119,119,119)"/><stop offset="0.6" stop-color="rgb(124,124,124)"/><stop offset="1" stop-color="rgb(136,136,136)"/></radialGradient><radialGradient id="sg25" cx="0.45" cy="0.45" r="0.68" fx="0.41" fy="0.32"><stop offset="0" stop-color="rgb(82,82,82)"/><stop offset="0.6" stop-color="rgb(92,92,92)"/><stop offset="1" stop-color="rgb(116,116,116)"/></radialGradient><radialGradient id="sg26" cx="0.45" cy="0.45" r="0.68" fx="0.43" fy="0.44"><stop offset="0" stop-color="rgb(79,79,79)"/><stop offset="0.6" stop-color="rgb(89,89,89)"/><stop offset="1" stop-color="rgb(115,115,115)"/></radialGradient><radialGradient id="sg27" cx="0.45" cy="0.45" r="0.68" fx="0.35" fy="0.35"><stop offset="0" stop-color="rgb(85,85,85)"/><stop offset="0.6" stop-color="rgb(94,94,94)"/><stop offset="1" stop-color="rgb(118,118,118)"/></radialGradient><radialGradient id="sg28" cx="0.45" cy="0.45" r="0.68" fx="0.35" fy="0.35"><stop offset="0" stop-color="rgb(79,79,79)"/><stop offset="0.6" stop-color="rgb(89,89,89)"/><stop offset="1" stop-color="rgb(115,115,115)"/></radialGradient><radialGradient id="sg29" cx="0.45" cy="0.45" r="0.68" fx="0.44" fy="0.35"><stop offset="0" stop-color="rgb(85,85,85)"/><stop offset="0.6" stop-color="rgb(94,94,94)"/><stop offset="1" stop-color="rgb(118,118,118)"/></radialGradient><radialGradient id="sg30" cx="0.45" cy="0.45" r="0.68" fx="0.28" fy="0.30"><stop offset="0" stop-color="rgb(79,79,79)"/><stop offset="0.6" stop-color="rgb(89,89,89)"/><stop offset="1" stop-color="rgb(115,115,115)"/></radialGradient></defs><g clip-path="url(#semclip)"><rect x="918.3" y="334.2" width="276.7" height="277.4" fill="#6e6e6e"/><g filter="url(#fWarp)"><rect x="918.3" y="334.2" width="276.7" height="277.4" fill="#8a8a8a"/><path d="M1014.3,360.8 L1014.2,360.6 L1014.1,360.4 L1014.0,360.2 L1013.9,360.0 L1013.7,359.9 L1013.5,359.7 L1013.3,359.6 L1013.1,359.5 L1012.9,359.4 L1012.7,359.4 L1012.5,359.3 L1012.3,359.3 L1012.0,359.3 L1011.8,359.3 L961.8,368.8 L961.6,368.9 L961.4,368.9 L961.2,369.0 L961.1,369.1 L960.9,369.2 L960.7,369.4 L960.6,369.5 L960.5,369.7 L960.4,369.8 L959.7,371.0 L959.6,371.2 L959.5,371.4 L959.4,371.6 L959.4,371.8 L959.3,372.0 L959.3,372.2 L959.4,372.4 L959.4,372.6 L959.4,372.8 L959.5,373.0 L959.6,373.2 L959.7,373.4 L959.9,373.6 L988.8,407.7 L988.9,407.9 L989.1,408.0 L989.2,408.1 L989.4,408.2 L989.6,408.3 L989.8,408.4 L990.0,408.5 L990.2,408.5 L990.4,408.5 L1003.5,408.5 L1003.8,408.5 L1004.0,408.5 L1004.2,408.4 L1004.4,408.3 L1004.6,408.2 L1004.7,408.1 L1004.9,408.0 L1005.1,407.9 L1005.2,407.7 L1005.3,407.6 L1021.6,384.1 L1021.7,383.9 L1021.8,383.7 L1021.9,383.5 L1022.0,383.3 L1022.0,383.1 L1022.0,382.9 L1022.0,382.7 L1022.0,382.5 L1021.9,382.3 L1021.9,382.1 L1014.3,360.8Z" fill="url(#sg0)"/><path d="M1063.0,394.9 L1062.9,394.7 L1062.8,394.5 L1062.7,394.3 L1062.6,394.1 L1062.5,393.9 L1062.4,393.8 L1062.2,393.6 L1062.1,393.5 L1061.9,393.4 L1061.7,393.3 L1061.5,393.2 L1061.3,393.2 L1025.3,384.8 L1025.0,384.8 L1024.8,384.7 L1024.6,384.7 L1024.4,384.8 L1024.2,384.8 L1024.0,384.9 L1023.8,385.0 L1023.6,385.1 L1023.4,385.2 L1023.2,385.3 L1023.1,385.5 L1023.0,385.7 L1007.0,408.6 L1006.9,408.8 L1006.8,409.0 L1006.8,409.2 L1006.7,409.4 L1006.7,409.6 L1006.7,409.9 L1006.7,410.1 L1006.7,410.3 L1006.8,410.5 L1006.8,410.7 L1023.0,448.5 L1023.1,448.7 L1023.2,448.9 L1023.3,449.0 L1023.5,449.2 L1023.6,449.3 L1023.8,449.5 L1024.0,449.6 L1024.2,449.6 L1024.4,449.7 L1024.6,449.8 L1024.8,449.8 L1025.0,449.8 L1025.2,449.8 L1025.4,449.8 L1025.7,449.7 L1025.9,449.7 L1062.1,435.0 L1062.3,434.9 L1062.5,434.8 L1062.6,434.7 L1062.8,434.6 L1063.0,434.4 L1063.1,434.2 L1063.2,434.0 L1063.3,433.8 L1063.4,433.6 L1067.6,419.5 L1067.7,419.3 L1067.7,419.1 L1067.7,418.8 L1067.7,418.6 L1067.7,418.4 L1063.0,394.9Z" fill="url(#sg1)"/><path d="M1071.2,420.0 L1071.0,420.0 L1070.8,420.0 L1070.5,420.1 L1070.3,420.2 L1070.1,420.3 L1070.0,420.4 L1069.8,420.5 L1069.6,420.6 L1069.5,420.8 L1069.3,421.0 L1069.2,421.2 L1069.1,421.4 L1069.1,421.6 L1065.4,434.0 L1065.3,434.2 L1065.3,434.4 L1065.3,434.6 L1065.3,434.9 L1065.3,435.1 L1065.4,435.3 L1065.4,435.5 L1065.5,435.7 L1065.7,435.9 L1065.8,436.1 L1084.1,457.0 L1084.2,457.2 L1084.4,457.3 L1084.6,457.5 L1084.8,457.6 L1085.0,457.7 L1085.2,457.7 L1085.4,457.8 L1085.7,457.8 L1085.9,457.8 L1115.0,456.0 L1115.2,455.9 L1115.4,455.9 L1115.6,455.8 L1115.8,455.8 L1116.0,455.7 L1116.2,455.5 L1116.4,455.4 L1116.5,455.2 L1141.6,427.6 L1141.8,427.5 L1141.9,427.3 L1142.0,427.1 L1142.1,426.9 L1142.1,426.7 L1142.2,426.5 L1142.2,426.3 L1142.2,426.1 L1142.2,425.8 L1142.1,425.6 L1142.1,425.4 L1142.0,425.2 L1141.9,425.0 L1141.8,424.9 L1141.6,424.7 L1141.5,424.5 L1137.2,420.6 L1137.1,420.5 L1136.9,420.3 L1136.7,420.2 L1136.5,420.2 L1136.4,420.1 L1136.2,420.0 L1135.9,420.0 L1135.7,420.0 L1071.2,420.0Z" fill="url(#sg2)"/><path d="M1023.7,455.2 L1023.6,455.0 L1023.5,454.8 L1023.3,454.6 L1023.2,454.4 L1023.0,454.3 L1022.9,454.2 L1022.7,454.1 L1022.5,454.0 L1022.3,453.9 L1022.0,453.8 L1021.8,453.8 L1021.6,453.8 L1021.4,453.8 L1021.2,453.9 L1021.0,453.9 L1020.8,454.0 L977.4,473.6 L977.2,473.7 L977.0,473.8 L976.8,473.9 L976.6,474.1 L976.5,474.3 L976.4,474.4 L976.3,474.6 L976.2,474.8 L976.1,475.0 L976.1,475.3 L972.5,499.4 L972.5,499.7 L972.5,499.9 L972.5,500.1 L972.5,500.3 L972.6,500.5 L972.7,500.8 L982.2,519.4 L982.3,519.6 L982.4,519.8 L982.5,519.9 L982.7,520.1 L982.8,520.2 L983.0,520.3 L983.2,520.4 L983.4,520.5 L1005.0,528.6 L1005.2,528.7 L1005.4,528.8 L1005.7,528.8 L1005.9,528.8 L1006.1,528.8 L1006.3,528.7 L1006.5,528.7 L1006.7,528.6 L1006.9,528.5 L1007.0,528.4 L1007.2,528.3 L1007.4,528.2 L1039.8,496.6 L1039.9,496.4 L1040.1,496.2 L1040.2,496.0 L1040.3,495.8 L1040.4,495.6 L1040.4,495.4 L1040.4,495.2 L1040.5,495.0 L1040.4,494.8 L1040.4,494.5 L1040.4,494.3 L1040.3,494.1 L1023.7,455.2Z" fill="url(#sg3)"/><path d="M1138.7,517.7 L1138.9,517.7 L1139.1,517.6 L1139.3,517.6 L1139.5,517.5 L1139.7,517.4 L1139.9,517.3 L1140.1,517.1 L1140.2,517.0 L1140.3,516.8 L1140.5,516.6 L1172.8,464.0 L1172.9,463.8 L1173.0,463.6 L1173.1,463.4 L1173.1,463.2 L1173.2,463.0 L1173.2,462.8 L1173.1,462.6 L1173.1,462.4 L1173.0,462.2 L1173.0,462.0 L1172.9,461.8 L1172.7,461.6 L1172.6,461.4 L1144.9,430.6 L1144.8,430.4 L1144.6,430.3 L1144.4,430.2 L1144.2,430.1 L1144.0,430.0 L1143.8,429.9 L1143.6,429.9 L1143.4,429.8 L1143.2,429.8 L1143.0,429.9 L1142.8,429.9 L1142.5,430.0 L1142.3,430.1 L1142.2,430.2 L1142.0,430.3 L1141.8,430.4 L1141.7,430.6 L1118.2,456.4 L1118.1,456.5 L1117.9,456.7 L1117.8,456.9 L1117.7,457.1 L1117.7,457.4 L1117.6,457.6 L1117.6,457.8 L1117.6,458.0 L1117.7,458.3 L1129.0,516.3 L1129.0,516.5 L1129.1,516.7 L1129.2,516.9 L1129.3,517.1 L1129.5,517.2 L1129.6,517.4 L1129.8,517.6 L1130.0,517.7 L1130.2,517.8 L1130.4,517.9 L1130.6,518.0 L1130.8,518.0 L1131.0,518.0 L1131.2,518.0 L1138.7,517.7Z" fill="url(#sg4)"/><path d="M1176.9,463.8 L1176.7,463.8 L1176.5,463.8 L1176.2,463.8 L1176.0,463.9 L1175.8,463.9 L1175.6,464.0 L1175.4,464.1 L1175.3,464.2 L1175.1,464.4 L1175.0,464.5 L1174.8,464.7 L1174.7,464.8 L1143.1,516.3 L1143.0,516.4 L1142.9,516.6 L1142.8,516.8 L1142.8,517.0 L1142.7,517.2 L1142.7,517.5 L1142.7,517.7 L1142.8,517.9 L1142.8,518.1 L1142.9,518.3 L1143.0,518.5 L1143.1,518.6 L1143.2,518.8 L1143.4,519.0 L1143.5,519.1 L1143.7,519.2 L1143.9,519.3 L1187.5,542.8 L1187.7,542.9 L1187.9,543.0 L1188.2,543.1 L1188.4,543.1 L1193.6,543.6 L1193.8,543.6 L1194.0,543.6 L1194.2,543.5 L1194.5,543.5 L1194.7,543.4 L1194.8,543.3 L1195.0,543.2 L1195.2,543.1 L1195.4,542.9 L1195.5,542.8 L1195.6,542.6 L1195.7,542.4 L1195.8,542.2 L1195.9,542.0 L1196.0,541.8 L1196.0,541.6 L1196.0,541.4 L1196.0,468.5 L1196.0,468.3 L1196.0,468.1 L1195.9,467.9 L1195.8,467.7 L1195.8,467.5 L1195.7,467.3 L1195.5,467.2 L1195.4,467.0 L1195.2,466.9 L1195.1,466.7 L1194.9,466.6 L1194.7,466.5 L1194.5,466.5 L1194.3,466.4 L1194.1,466.4 L1176.9,463.8Z" fill="url(#sg5)"/><path d="M1115.6,527.5 L1115.4,527.6 L1115.3,527.7 L1115.1,527.9 L1114.9,528.1 L1114.8,528.2 L1114.7,528.4 L1114.6,528.7 L1114.6,528.9 L1108.2,555.5 L1108.1,555.7 L1108.1,555.9 L1108.1,556.1 L1108.1,556.3 L1108.2,556.5 L1108.2,556.7 L1108.3,556.9 L1116.5,574.2 L1116.6,574.4 L1116.7,574.6 L1116.9,574.7 L1117.0,574.9 L1117.2,575.0 L1117.3,575.1 L1117.5,575.2 L1117.7,575.3 L1145.1,586.4 L1145.3,586.5 L1145.5,586.5 L1145.7,586.6 L1146.0,586.6 L1146.2,586.5 L1146.4,586.5 L1146.6,586.5 L1146.8,586.4 L1147.0,586.3 L1147.2,586.2 L1147.4,586.0 L1147.5,585.9 L1184.1,546.4 L1184.2,546.2 L1184.3,546.1 L1184.5,545.9 L1184.5,545.7 L1184.6,545.5 L1184.6,545.3 L1184.7,545.1 L1184.7,544.8 L1184.7,544.6 L1184.6,544.4 L1184.6,544.2 L1184.5,544.0 L1184.4,543.8 L1184.3,543.7 L1184.2,543.5 L1184.0,543.3 L1183.9,543.2 L1183.7,543.1 L1183.5,543.0 L1140.7,519.9 L1140.5,519.8 L1140.3,519.7 L1140.1,519.7 L1139.8,519.7 L1139.6,519.7 L1129.3,520.1 L1129.1,520.1 L1128.9,520.2 L1128.7,520.2 L1128.5,520.3 L1128.4,520.4 L1115.6,527.5Z" fill="url(#sg6)"/><path d="M919.5,502.4 L919.2,502.4 L919.0,502.4 L918.8,502.5 L918.6,502.6 L918.4,502.7 L918.3,502.8 L918.1,502.9 L917.9,503.0 L917.8,503.2 L917.7,503.4 L917.6,503.6 L917.5,503.7 L917.4,503.9 L917.3,504.2 L917.3,504.4 L917.3,504.6 L917.3,555.8 L917.3,556.0 L917.3,556.2 L917.4,556.4 L917.5,556.7 L917.6,556.9 L917.7,557.0 L917.8,557.2 L918.0,557.4 L918.1,557.5 L918.3,557.7 L918.5,557.8 L918.7,557.8 L918.9,557.9 L919.1,558.0 L919.3,558.0 L919.6,558.0 L919.8,558.0 L920.0,557.9 L920.2,557.9 L958.4,544.9 L958.6,544.8 L958.8,544.7 L958.9,544.6 L959.1,544.5 L959.3,544.3 L979.6,521.9 L979.8,521.8 L979.9,521.6 L980.0,521.4 L980.1,521.2 L980.1,521.0 L980.2,520.8 L980.2,520.5 L980.2,520.3 L980.2,520.1 L980.1,519.9 L980.0,519.7 L979.9,519.5 L971.4,502.5 L971.3,502.3 L971.1,502.2 L971.0,502.0 L970.8,501.8 L970.6,501.7 L970.4,501.6 L970.2,501.5 L970.0,501.4 L969.8,501.4 L969.6,501.3 L969.4,501.3 L919.5,502.4Z" fill="url(#sg7)"/><path d="M990.1,410.5 L989.9,410.5 L989.7,410.5 L989.5,410.6 L989.3,410.7 L989.1,410.7 L988.9,410.9 L988.7,411.0 L952.7,439.3 L952.5,439.5 L952.4,439.6 L952.3,439.8 L952.2,440.0 L952.1,440.2 L952.0,440.4 L951.9,440.6 L951.9,440.8 L951.9,441.0 L951.9,441.2 L951.9,441.4 L952.0,441.7 L952.0,441.9 L952.1,442.1 L952.2,442.2 L952.3,442.4 L974.6,470.8 L974.7,471.0 L974.9,471.1 L975.0,471.2 L975.2,471.3 L975.4,471.4 L975.6,471.5 L975.8,471.6 L976.0,471.6 L976.2,471.6 L976.4,471.6 L976.6,471.6 L976.8,471.6 L977.0,471.5 L977.2,471.4 L1020.1,452.1 L1020.2,452.0 L1020.4,451.9 L1020.6,451.8 L1020.7,451.6 L1020.9,451.5 L1021.0,451.3 L1021.1,451.1 L1021.2,450.9 L1021.3,450.7 L1021.3,450.5 L1021.3,450.3 L1021.3,450.1 L1021.3,449.9 L1021.3,449.7 L1021.2,449.5 L1021.2,449.3 L1005.1,411.8 L1005.0,411.6 L1004.9,411.5 L1004.8,411.3 L1004.6,411.1 L1004.5,411.0 L1004.3,410.9 L1004.1,410.8 L1003.9,410.7 L1003.7,410.6 L1003.5,410.5 L1003.3,410.5 L1003.1,410.5 L990.1,410.5Z" fill="url(#sg8)"/><path d="M919.8,370.5 L919.5,370.5 L919.3,370.5 L919.1,370.5 L918.9,370.6 L918.7,370.6 L918.5,370.7 L918.3,370.8 L918.1,371.0 L918.0,371.1 L917.8,371.3 L917.7,371.4 L917.6,371.6 L917.5,371.8 L917.4,372.0 L917.3,372.2 L917.3,372.5 L917.3,372.7 L917.3,432.4 L917.3,432.7 L917.3,432.9 L917.4,433.1 L917.5,433.3 L917.6,433.5 L917.7,433.7 L917.8,433.8 L917.9,434.0 L918.1,434.1 L918.3,434.3 L918.4,434.4 L918.6,434.5 L918.8,434.5 L919.0,434.6 L919.3,434.6 L919.5,434.6 L919.7,434.6 L930.2,433.8 L930.4,433.7 L930.6,433.7 L930.8,433.6 L931.0,433.6 L931.1,433.5 L931.3,433.3 L931.5,433.2 L931.6,433.1 L931.8,432.9 L931.9,432.7 L932.0,432.5 L932.1,432.4 L952.7,377.2 L952.8,376.9 L952.9,376.7 L952.9,376.5 L952.9,376.3 L952.9,376.1 L952.8,375.9 L952.8,375.6 L952.7,375.4 L952.6,375.2 L952.4,375.1 L952.3,374.9 L952.1,374.7 L952.0,374.6 L951.8,374.5 L951.6,374.4 L951.4,374.3 L951.2,374.2 L950.9,374.2 L919.8,370.5Z" fill="url(#sg9)"/><path d="M959.0,375.6 L958.8,375.4 L958.7,375.3 L958.5,375.2 L958.3,375.1 L958.1,375.0 L957.9,374.9 L957.7,374.9 L957.5,374.8 L957.2,374.8 L957.0,374.8 L956.8,374.9 L956.6,374.9 L956.4,375.0 L956.2,375.1 L956.0,375.2 L955.8,375.4 L955.7,375.5 L955.5,375.7 L955.4,375.9 L955.3,376.0 L955.2,376.2 L934.4,431.9 L934.3,432.1 L934.3,432.3 L934.2,432.5 L934.2,432.7 L934.2,433.0 L934.3,433.2 L934.4,433.4 L934.4,433.6 L934.5,433.8 L934.7,434.0 L934.8,434.1 L935.0,434.3 L935.1,434.4 L935.3,434.5 L935.5,434.6 L935.7,434.7 L948.3,439.0 L948.5,439.1 L948.7,439.1 L948.9,439.1 L949.1,439.1 L949.3,439.1 L949.6,439.1 L949.8,439.0 L950.0,438.9 L950.2,438.8 L950.3,438.7 L985.7,410.8 L985.9,410.6 L986.1,410.5 L986.2,410.3 L986.3,410.1 L986.4,409.9 L986.5,409.7 L986.5,409.5 L986.6,409.3 L986.6,409.0 L986.6,408.8 L986.5,408.6 L986.5,408.4 L986.4,408.2 L986.3,408.0 L986.2,407.8 L986.1,407.6 L959.0,375.6Z" fill="url(#sg10)"/><path d="M1141.9,422.1 L1142.0,422.3 L1142.2,422.4 L1142.4,422.5 L1142.6,422.6 L1142.8,422.7 L1143.0,422.7 L1143.3,422.7 L1143.5,422.7 L1143.7,422.7 L1143.9,422.7 L1144.1,422.6 L1144.3,422.5 L1144.5,422.4 L1144.7,422.3 L1177.2,396.6 L1177.4,396.5 L1177.5,396.4 L1177.6,396.2 L1177.8,396.0 L1177.9,395.8 L1177.9,395.6 L1178.0,395.4 L1178.0,395.2 L1178.0,395.0 L1178.0,394.8 L1178.0,394.6 L1178.0,394.4 L1177.9,394.2 L1177.8,394.0 L1177.8,393.8 L1148.2,343.0 L1148.1,342.8 L1148.0,342.6 L1147.8,342.5 L1147.6,342.3 L1147.5,342.2 L1147.3,342.1 L1147.1,342.0 L1146.9,341.9 L1146.7,341.9 L1146.4,341.9 L1146.2,341.9 L1146.0,341.9 L1145.8,341.9 L1145.6,342.0 L1145.4,342.1 L1145.2,342.2 L1145.0,342.3 L1144.8,342.4 L1144.7,342.6 L1144.5,342.8 L1118.9,377.8 L1118.8,378.0 L1118.7,378.2 L1118.6,378.4 L1118.5,378.6 L1118.5,378.9 L1118.5,379.1 L1118.5,379.3 L1118.5,379.5 L1118.5,379.7 L1118.6,379.9 L1118.7,380.1 L1137.6,418.0 L1137.7,418.2 L1137.8,418.4 L1138.0,418.5 L1138.1,418.7 L1141.9,422.1Z" fill="url(#sg11)"/><path d="M983.8,608.5 L983.9,608.7 L984.0,608.9 L984.1,609.1 L984.3,609.2 L984.4,609.4 L984.6,609.5 L984.8,609.6 L985.0,609.7 L985.2,609.8 L985.4,609.9 L985.6,609.9 L985.8,609.9 L986.0,609.9 L986.3,609.9 L986.5,609.9 L986.7,609.8 L986.9,609.7 L987.1,609.6 L987.2,609.5 L987.4,609.3 L987.6,609.2 L987.7,609.0 L987.8,608.8 L1018.2,554.9 L1018.3,554.7 L1018.3,554.4 L1018.4,554.2 L1018.4,554.0 L1018.4,553.8 L1018.4,553.6 L1018.4,553.3 L1018.3,553.1 L1018.2,552.9 L1018.1,552.7 L1006.3,531.8 L1006.2,531.6 L1006.0,531.4 L1005.9,531.3 L1005.7,531.1 L1005.6,531.0 L1005.4,530.9 L1005.2,530.8 L983.5,522.7 L983.3,522.6 L983.1,522.6 L982.9,522.5 L982.7,522.5 L982.4,522.6 L982.2,522.6 L982.0,522.7 L981.8,522.7 L981.6,522.8 L981.4,523.0 L981.3,523.1 L981.1,523.3 L961.5,544.8 L961.4,545.0 L961.2,545.2 L961.1,545.4 L961.1,545.6 L961.0,545.8 L961.0,546.0 L960.9,546.2 L960.9,546.4 L961.0,546.6 L961.0,546.9 L961.1,547.1 L983.8,608.5Z" fill="url(#sg12)"/><path d="M1074.0,335.0 L1074.0,334.7 L1073.9,334.5 L1073.8,334.4 L1073.7,334.2 L1073.6,334.0 L1073.4,333.8 L1073.3,333.7 L1073.1,333.6 L1072.9,333.5 L1072.7,333.4 L1072.5,333.3 L1072.3,333.2 L1072.1,333.2 L1071.9,333.2 L1022.5,333.2 L1022.3,333.2 L1022.1,333.2 L1021.9,333.3 L1021.7,333.4 L1021.5,333.5 L1021.3,333.6 L1021.1,333.7 L1021.0,333.8 L1020.8,334.0 L1020.7,334.2 L1020.6,334.3 L1020.5,334.5 L1020.4,334.7 L1020.3,334.9 L1015.5,357.2 L1015.5,357.4 L1015.5,357.6 L1015.5,357.8 L1015.5,358.0 L1015.5,358.2 L1015.6,358.4 L1023.7,381.3 L1023.8,381.5 L1023.9,381.7 L1024.0,381.9 L1024.2,382.1 L1024.3,382.2 L1024.5,382.4 L1024.7,382.5 L1024.9,382.6 L1025.1,382.7 L1025.3,382.8 L1062.0,391.3 L1062.2,391.3 L1062.4,391.3 L1062.6,391.3 L1062.8,391.3 L1063.0,391.2 L1063.2,391.2 L1063.4,391.1 L1063.6,391.0 L1063.7,390.9 L1063.9,390.8 L1064.1,390.6 L1080.9,372.6 L1081.0,372.5 L1081.1,372.3 L1081.2,372.1 L1081.3,371.9 L1081.4,371.7 L1081.4,371.5 L1081.5,371.3 L1081.5,371.1 L1081.5,370.9 L1081.4,370.7 L1074.0,335.0Z" fill="url(#sg13)"/><path d="M1080.9,510.2 L1081.1,510.4 L1081.2,510.5 L1081.4,510.7 L1081.6,510.8 L1112.9,525.7 L1113.0,525.7 L1113.2,525.8 L1113.5,525.8 L1113.7,525.9 L1113.9,525.9 L1114.1,525.9 L1114.3,525.8 L1114.5,525.8 L1114.7,525.7 L1114.9,525.6 L1126.0,519.4 L1126.2,519.3 L1126.4,519.2 L1126.5,519.0 L1126.7,518.9 L1126.8,518.7 L1126.9,518.5 L1127.0,518.3 L1127.1,518.1 L1127.1,517.9 L1127.1,517.7 L1127.1,517.5 L1127.1,517.3 L1127.1,517.1 L1115.9,459.8 L1115.9,459.6 L1115.8,459.4 L1115.7,459.2 L1115.6,459.1 L1115.5,458.9 L1115.4,458.7 L1115.2,458.6 L1115.0,458.4 L1114.9,458.3 L1114.7,458.2 L1114.5,458.2 L1114.3,458.1 L1114.1,458.1 L1113.9,458.1 L1113.6,458.1 L1086.6,459.7 L1086.4,459.8 L1086.2,459.8 L1086.0,459.9 L1085.8,460.0 L1085.6,460.1 L1085.4,460.2 L1085.2,460.3 L1085.1,460.5 L1084.9,460.7 L1084.8,460.8 L1084.7,461.0 L1084.6,461.2 L1072.2,498.7 L1072.1,498.9 L1072.1,499.1 L1072.0,499.3 L1072.1,499.5 L1072.1,499.7 L1072.1,499.9 L1072.2,500.1 L1072.3,500.3 L1072.4,500.5 L1072.5,500.7 L1072.6,500.8 L1080.9,510.2Z" fill="url(#sg14)"/><path d="M1060.9,575.8 L1060.7,575.9 L1060.5,576.0 L1060.4,576.1 L1060.2,576.3 L1060.0,576.5 L1059.9,576.6 L1059.8,576.8 L1059.7,577.0 L1059.6,577.3 L1059.6,577.5 L1059.6,577.7 L1059.5,577.9 L1060.7,610.5 L1060.7,610.7 L1060.7,610.9 L1060.8,611.1 L1060.9,611.3 L1061.0,611.5 L1061.1,611.7 L1061.2,611.8 L1061.3,612.0 L1061.5,612.1 L1061.7,612.2 L1061.9,612.4 L1062.0,612.4 L1062.2,612.5 L1062.5,612.6 L1062.7,612.6 L1062.9,612.6 L1099.7,612.6 L1100.0,612.6 L1100.2,612.6 L1100.4,612.5 L1100.6,612.4 L1100.8,612.3 L1101.0,612.2 L1101.2,612.1 L1101.3,611.9 L1101.5,611.8 L1101.6,611.6 L1101.7,611.4 L1101.8,611.2 L1114.7,576.7 L1114.8,576.5 L1114.9,576.3 L1114.9,576.0 L1114.9,575.8 L1114.9,575.6 L1114.8,575.4 L1114.8,575.2 L1114.7,575.0 L1107.3,559.5 L1107.2,559.3 L1107.1,559.1 L1107.0,558.9 L1106.8,558.8 L1106.6,558.6 L1106.4,558.5 L1106.2,558.4 L1106.0,558.3 L1105.8,558.3 L1105.6,558.2 L1105.4,558.2 L1105.2,558.2 L1104.9,558.2 L1104.7,558.3 L1104.5,558.4 L1060.9,575.8Z" fill="url(#sg15)"/><path d="M921.1,563.6 L921.0,563.5 L920.8,563.3 L920.6,563.2 L920.4,563.1 L920.2,563.0 L920.0,563.0 L919.8,562.9 L919.6,562.9 L919.3,562.9 L919.1,562.9 L918.9,563.0 L918.7,563.0 L918.5,563.1 L918.3,563.2 L918.1,563.4 L918.0,563.5 L917.8,563.7 L917.7,563.9 L917.6,564.0 L917.5,564.2 L917.4,564.4 L917.3,564.7 L917.3,564.9 L917.3,565.1 L917.3,610.4 L917.3,610.6 L917.3,610.8 L917.4,611.0 L917.5,611.2 L917.6,611.4 L917.7,611.6 L917.8,611.8 L917.9,612.0 L918.1,612.1 L918.3,612.2 L918.5,612.3 L918.7,612.4 L918.9,612.5 L919.1,612.6 L919.3,612.6 L919.5,612.6 L961.0,612.6 L961.2,612.6 L961.4,612.6 L961.7,612.5 L961.9,612.4 L962.0,612.3 L962.2,612.2 L962.4,612.1 L962.6,612.0 L962.7,611.8 L962.8,611.7 L962.9,611.5 L963.0,611.3 L963.1,611.1 L963.2,610.9 L963.2,610.7 L963.2,610.5 L963.2,610.3 L963.2,610.0 L963.2,609.8 L963.1,609.6 L963.0,609.4 L962.9,609.3 L962.8,609.1 L962.6,608.9 L921.1,563.6Z" fill="url(#sg16)"/><path d="M1018.1,335.9 L1018.1,335.7 L1018.1,335.4 L1018.1,335.2 L1018.1,335.0 L1018.1,334.8 L1018.0,334.6 L1017.9,334.4 L1017.8,334.2 L1017.7,334.0 L1017.5,333.9 L1017.3,333.7 L1017.2,333.6 L1017.0,333.5 L1016.8,333.4 L1016.6,333.3 L1016.4,333.2 L1016.2,333.2 L1015.9,333.2 L959.9,333.2 L959.7,333.2 L959.5,333.2 L959.3,333.3 L959.1,333.4 L958.9,333.5 L958.7,333.6 L958.5,333.7 L958.3,333.9 L958.2,334.0 L958.1,334.2 L958.0,334.4 L957.9,334.6 L957.8,334.8 L957.7,335.0 L957.7,335.2 L957.7,335.4 L957.7,335.6 L960.9,364.5 L960.9,364.8 L960.9,365.0 L961.0,365.2 L961.1,365.4 L961.2,365.5 L961.3,365.7 L961.5,365.9 L961.7,366.0 L961.8,366.1 L962.0,366.2 L962.2,366.3 L962.4,366.4 L962.6,366.5 L962.8,366.5 L963.0,366.5 L963.2,366.5 L963.5,366.5 L1012.1,357.3 L1012.3,357.2 L1012.5,357.1 L1012.7,357.1 L1012.9,356.9 L1013.0,356.8 L1013.2,356.7 L1013.3,356.5 L1013.5,356.4 L1013.6,356.2 L1013.7,356.0 L1013.8,355.8 L1013.8,355.6 L1018.1,335.9Z" fill="url(#sg17)"/><path d="M1057.5,577.2 L1057.5,576.9 L1057.5,576.7 L1057.4,576.5 L1057.3,576.3 L1057.2,576.1 L1057.1,575.9 L1056.9,575.7 L1056.7,575.6 L1039.3,560.7 L1039.1,560.5 L1038.9,560.4 L1038.7,560.3 L1038.4,560.2 L1022.1,555.4 L1021.9,555.4 L1021.7,555.4 L1021.4,555.4 L1021.2,555.4 L1021.0,555.4 L1020.8,555.5 L1020.6,555.5 L1020.4,555.6 L1020.2,555.7 L1020.1,555.8 L1019.9,556.0 L1019.8,556.1 L1019.6,556.3 L1019.5,556.5 L989.8,609.3 L989.7,609.5 L989.6,609.7 L989.6,609.9 L989.5,610.1 L989.5,610.4 L989.5,610.6 L989.6,610.8 L989.6,611.0 L989.7,611.2 L989.8,611.4 L989.9,611.6 L990.0,611.8 L990.2,611.9 L990.3,612.1 L990.5,612.2 L990.7,612.3 L990.9,612.4 L991.1,612.5 L991.3,612.6 L991.5,612.6 L991.7,612.6 L1056.5,612.6 L1056.7,612.6 L1056.9,612.6 L1057.1,612.5 L1057.3,612.4 L1057.5,612.3 L1057.7,612.2 L1057.9,612.1 L1058.0,611.9 L1058.2,611.8 L1058.3,611.6 L1058.4,611.4 L1058.5,611.2 L1058.6,611.0 L1058.6,610.8 L1058.7,610.5 L1058.7,610.3 L1057.5,577.2Z" fill="url(#sg18)"/><path d="M1082.8,460.3 L1082.9,460.1 L1082.9,459.9 L1083.0,459.7 L1083.0,459.5 L1082.9,459.3 L1082.9,459.1 L1082.8,458.9 L1082.8,458.7 L1082.7,458.5 L1082.5,458.3 L1082.4,458.2 L1064.6,437.8 L1064.5,437.6 L1064.3,437.5 L1064.2,437.3 L1064.0,437.2 L1063.8,437.2 L1063.6,437.1 L1063.4,437.0 L1063.2,437.0 L1063.0,437.0 L1062.8,437.0 L1062.5,437.0 L1062.3,437.1 L1062.1,437.2 L1026.7,451.5 L1026.5,451.6 L1026.3,451.7 L1026.2,451.8 L1026.0,451.9 L1025.9,452.1 L1025.7,452.3 L1025.6,452.5 L1025.5,452.7 L1025.4,452.9 L1025.4,453.1 L1025.4,453.3 L1025.4,453.5 L1025.4,453.7 L1025.4,454.0 L1025.5,454.2 L1025.5,454.4 L1042.3,493.7 L1042.4,493.9 L1042.5,494.1 L1042.6,494.3 L1042.8,494.5 L1043.0,494.6 L1043.1,494.7 L1043.3,494.8 L1043.5,494.9 L1043.8,495.0 L1044.0,495.0 L1068.1,498.7 L1068.3,498.7 L1068.6,498.7 L1068.8,498.7 L1069.0,498.7 L1069.2,498.6 L1069.4,498.5 L1069.6,498.4 L1069.8,498.3 L1069.9,498.2 L1070.1,498.0 L1070.2,497.8 L1070.4,497.6 L1070.5,497.4 L1070.5,497.2 L1082.8,460.3Z" fill="url(#sg19)"/><path d="M1145.4,338.2 L1145.5,338.1 L1145.6,337.9 L1145.7,337.7 L1145.7,337.5 L1145.8,337.3 L1146.0,335.8 L1146.1,335.6 L1146.1,335.3 L1146.0,335.1 L1146.0,334.9 L1145.9,334.7 L1145.9,334.5 L1145.8,334.3 L1145.7,334.1 L1145.5,334.0 L1145.4,333.8 L1145.2,333.7 L1145.1,333.6 L1144.9,333.5 L1144.7,333.4 L1144.5,333.3 L1144.3,333.2 L1144.1,333.2 L1143.9,333.2 L1078.4,333.2 L1078.2,333.2 L1078.0,333.2 L1077.8,333.3 L1077.6,333.4 L1077.4,333.5 L1077.2,333.6 L1077.0,333.7 L1076.9,333.8 L1076.7,334.0 L1076.6,334.2 L1076.5,334.4 L1076.4,334.6 L1076.3,334.8 L1076.3,335.0 L1076.2,335.2 L1076.2,335.4 L1076.2,335.6 L1076.3,335.8 L1083.3,369.8 L1083.4,370.0 L1083.4,370.2 L1083.5,370.4 L1083.6,370.6 L1083.8,370.8 L1083.9,371.0 L1084.1,371.1 L1084.2,371.2 L1084.4,371.3 L1084.6,371.4 L1084.8,371.5 L1085.0,371.5 L1115.1,377.5 L1115.3,377.5 L1115.5,377.5 L1115.7,377.5 L1115.9,377.5 L1116.1,377.4 L1116.3,377.3 L1116.5,377.3 L1116.7,377.2 L1116.9,377.0 L1117.0,376.9 L1117.2,376.8 L1117.3,376.6 L1145.4,338.2Z" fill="url(#sg20)"/><path d="M1104.5,609.6 L1104.5,609.8 L1104.4,610.0 L1104.4,610.2 L1104.4,610.5 L1104.4,610.7 L1104.4,610.9 L1104.5,611.1 L1104.6,611.3 L1104.7,611.5 L1104.8,611.7 L1104.9,611.8 L1105.0,612.0 L1105.2,612.1 L1105.4,612.2 L1105.6,612.3 L1105.8,612.4 L1106.0,612.5 L1106.2,612.6 L1106.4,612.6 L1106.6,612.6 L1151.9,612.6 L1152.2,612.6 L1152.4,612.6 L1152.6,612.5 L1152.8,612.4 L1153.0,612.3 L1153.1,612.2 L1153.3,612.1 L1153.5,612.0 L1153.6,611.8 L1153.8,611.6 L1153.9,611.5 L1154.0,611.3 L1154.0,611.1 L1154.1,610.9 L1154.1,610.7 L1154.1,610.4 L1154.1,610.2 L1154.1,610.0 L1154.1,609.8 L1154.0,609.6 L1146.3,589.8 L1146.3,589.6 L1146.1,589.4 L1146.0,589.2 L1145.9,589.1 L1145.7,588.9 L1145.5,588.8 L1145.3,588.7 L1145.1,588.6 L1118.8,577.9 L1118.6,577.9 L1118.4,577.8 L1118.2,577.8 L1118.0,577.8 L1117.7,577.8 L1117.5,577.8 L1117.3,577.9 L1117.1,577.9 L1116.9,578.0 L1116.7,578.2 L1116.6,578.3 L1116.4,578.4 L1116.3,578.6 L1116.1,578.8 L1116.0,579.0 L1115.9,579.2 L1104.5,609.6Z" fill="url(#sg21)"/><path d="M968.6,499.4 L968.9,499.3 L969.1,499.3 L969.3,499.2 L969.5,499.2 L969.7,499.1 L969.9,498.9 L970.0,498.8 L970.2,498.6 L970.3,498.5 L970.5,498.3 L970.6,498.1 L970.7,497.9 L970.7,497.7 L970.8,497.5 L974.2,474.6 L974.2,474.4 L974.2,474.2 L974.2,473.9 L974.1,473.7 L974.0,473.5 L974.0,473.3 L973.8,473.1 L973.7,472.9 L949.4,441.9 L949.2,441.7 L949.1,441.6 L948.9,441.5 L948.7,441.3 L948.6,441.2 L948.4,441.2 L932.6,435.8 L932.4,435.7 L932.1,435.7 L931.9,435.6 L931.7,435.7 L919.3,436.7 L919.1,436.7 L918.9,436.7 L918.7,436.8 L918.5,436.9 L918.3,437.0 L918.1,437.1 L918.0,437.3 L917.8,437.5 L917.7,437.6 L917.6,437.8 L917.5,438.0 L917.4,438.2 L917.3,438.4 L917.3,438.6 L917.3,438.9 L917.3,498.2 L917.3,498.4 L917.3,498.6 L917.4,498.8 L917.5,499.0 L917.6,499.2 L917.7,499.4 L917.8,499.6 L918.0,499.7 L918.1,499.9 L918.3,500.0 L918.5,500.1 L918.7,500.2 L918.9,500.3 L919.1,500.3 L919.3,500.4 L919.5,500.4 L968.6,499.4Z" fill="url(#sg22)"/><path d="M968.6,499.4 L968.9,499.3 L969.1,499.3 L969.3,499.2 L969.5,499.2 L969.7,499.1 L969.9,498.9 L970.0,498.8 L970.2,498.6 L970.3,498.5 L970.5,498.3 L970.6,498.1 L970.7,497.9 L970.7,497.7 L970.8,497.5 L974.2,474.6 L974.2,474.4 L974.2,474.2 L974.2,473.9 L974.1,473.7 L974.0,473.5 L974.0,473.3 L973.8,473.1 L973.7,472.9 L949.4,441.9 L949.2,441.7 L949.1,441.6 L948.9,441.5 L948.7,441.3 L948.6,441.2 L948.4,441.2 L932.6,435.8 L932.4,435.7 L932.1,435.7 L931.9,435.6 L931.7,435.7 L919.3,436.7 L919.1,436.7 L918.9,436.7 L918.7,436.8 L918.5,436.9 L918.3,437.0 L918.1,437.1 L918.0,437.3 L917.8,437.5 L917.7,437.6 L917.6,437.8 L917.5,438.0 L917.4,438.2 L917.3,438.4 L917.3,438.6 L917.3,438.9 L917.3,498.2 L917.3,498.4 L917.3,498.6 L917.4,498.8 L917.5,499.0 L917.6,499.2 L917.7,499.4 L917.8,499.6 L918.0,499.7 L918.1,499.9 L918.3,500.0 L918.5,500.1 L918.7,500.2 L918.9,500.3 L919.1,500.3 L919.3,500.4 L919.5,500.4 L968.6,499.4Z" fill="#000" filter="url(#fDebTex)" opacity="0.8"/><path d="M1147.8,337.3 L1147.8,337.5 L1147.8,337.7 L1147.8,337.9 L1147.8,338.1 L1147.9,338.3 L1148.0,338.5 L1148.1,338.7 L1179.8,393.3 L1179.9,393.5 L1180.0,393.7 L1180.2,393.9 L1180.4,394.0 L1180.5,394.1 L1180.7,394.2 L1180.9,394.3 L1181.1,394.4 L1181.4,394.4 L1181.6,394.4 L1181.8,394.4 L1182.0,394.4 L1194.1,392.7 L1194.3,392.6 L1194.5,392.6 L1194.7,392.5 L1194.9,392.4 L1195.1,392.3 L1195.2,392.2 L1195.4,392.0 L1195.5,391.9 L1195.7,391.7 L1195.8,391.5 L1195.8,391.3 L1195.9,391.1 L1196.0,390.9 L1196.0,390.7 L1196.0,390.5 L1196.0,335.4 L1196.0,335.2 L1196.0,335.0 L1195.9,334.8 L1195.8,334.6 L1195.7,334.4 L1195.6,334.2 L1195.5,334.0 L1195.4,333.8 L1195.2,333.7 L1195.0,333.6 L1194.8,333.5 L1194.6,333.4 L1194.4,333.3 L1194.2,333.2 L1194.0,333.2 L1193.8,333.2 L1150.3,333.2 L1150.1,333.2 L1149.9,333.2 L1149.7,333.3 L1149.5,333.4 L1149.3,333.5 L1149.1,333.6 L1148.9,333.7 L1148.8,333.9 L1148.6,334.0 L1148.5,334.2 L1148.4,334.4 L1148.3,334.6 L1148.2,334.8 L1148.2,335.0 L1147.8,337.3Z" fill="url(#sg23)"/><path d="M1147.8,337.3 L1147.8,337.5 L1147.8,337.7 L1147.8,337.9 L1147.8,338.1 L1147.9,338.3 L1148.0,338.5 L1148.1,338.7 L1179.8,393.3 L1179.9,393.5 L1180.0,393.7 L1180.2,393.9 L1180.4,394.0 L1180.5,394.1 L1180.7,394.2 L1180.9,394.3 L1181.1,394.4 L1181.4,394.4 L1181.6,394.4 L1181.8,394.4 L1182.0,394.4 L1194.1,392.7 L1194.3,392.6 L1194.5,392.6 L1194.7,392.5 L1194.9,392.4 L1195.1,392.3 L1195.2,392.2 L1195.4,392.0 L1195.5,391.9 L1195.7,391.7 L1195.8,391.5 L1195.8,391.3 L1195.9,391.1 L1196.0,390.9 L1196.0,390.7 L1196.0,390.5 L1196.0,335.4 L1196.0,335.2 L1196.0,335.0 L1195.9,334.8 L1195.8,334.6 L1195.7,334.4 L1195.6,334.2 L1195.5,334.0 L1195.4,333.8 L1195.2,333.7 L1195.0,333.6 L1194.8,333.5 L1194.6,333.4 L1194.4,333.3 L1194.2,333.2 L1194.0,333.2 L1193.8,333.2 L1150.3,333.2 L1150.1,333.2 L1149.9,333.2 L1149.7,333.3 L1149.5,333.4 L1149.3,333.5 L1149.1,333.6 L1148.9,333.7 L1148.8,333.9 L1148.6,334.0 L1148.5,334.2 L1148.4,334.4 L1148.3,334.6 L1148.2,334.8 L1148.2,335.0 L1147.8,337.3Z" fill="#000" filter="url(#fDebTex)" opacity="0.8"/><path d="M1189.1,545.2 L1188.9,545.2 L1188.7,545.2 L1188.4,545.2 L1188.2,545.3 L1188.0,545.4 L1187.8,545.5 L1187.6,545.6 L1187.5,545.7 L1187.3,545.9 L1148.9,587.4 L1148.7,587.5 L1148.6,587.7 L1148.5,587.9 L1148.4,588.1 L1148.3,588.3 L1148.3,588.6 L1148.3,588.8 L1148.3,589.0 L1148.3,589.2 L1148.4,589.5 L1148.4,589.7 L1156.7,611.2 L1156.8,611.4 L1156.9,611.6 L1157.1,611.8 L1157.2,611.9 L1157.4,612.1 L1157.6,612.2 L1157.7,612.3 L1157.9,612.4 L1158.1,612.5 L1158.4,612.6 L1158.6,612.6 L1158.8,612.6 L1193.8,612.6 L1194.0,612.6 L1194.2,612.6 L1194.4,612.5 L1194.6,612.4 L1194.8,612.3 L1195.0,612.2 L1195.2,612.1 L1195.4,612.0 L1195.5,611.8 L1195.6,611.6 L1195.7,611.4 L1195.8,611.2 L1195.9,611.0 L1196.0,610.8 L1196.0,610.6 L1196.0,610.4 L1196.0,547.8 L1196.0,547.6 L1196.0,547.4 L1195.9,547.2 L1195.8,546.9 L1195.7,546.8 L1195.6,546.6 L1195.5,546.4 L1195.3,546.2 L1195.2,546.1 L1195.0,546.0 L1194.8,545.8 L1194.6,545.8 L1194.4,545.7 L1194.2,545.6 L1194.0,545.6 L1189.1,545.2Z" fill="url(#sg24)"/><path d="M1189.1,545.2 L1188.9,545.2 L1188.7,545.2 L1188.4,545.2 L1188.2,545.3 L1188.0,545.4 L1187.8,545.5 L1187.6,545.6 L1187.5,545.7 L1187.3,545.9 L1148.9,587.4 L1148.7,587.5 L1148.6,587.7 L1148.5,587.9 L1148.4,588.1 L1148.3,588.3 L1148.3,588.6 L1148.3,588.8 L1148.3,589.0 L1148.3,589.2 L1148.4,589.5 L1148.4,589.7 L1156.7,611.2 L1156.8,611.4 L1156.9,611.6 L1157.1,611.8 L1157.2,611.9 L1157.4,612.1 L1157.6,612.2 L1157.7,612.3 L1157.9,612.4 L1158.1,612.5 L1158.4,612.6 L1158.6,612.6 L1158.8,612.6 L1193.8,612.6 L1194.0,612.6 L1194.2,612.6 L1194.4,612.5 L1194.6,612.4 L1194.8,612.3 L1195.0,612.2 L1195.2,612.1 L1195.4,612.0 L1195.5,611.8 L1195.6,611.6 L1195.7,611.4 L1195.8,611.2 L1195.9,611.0 L1196.0,610.8 L1196.0,610.6 L1196.0,610.4 L1196.0,547.8 L1196.0,547.6 L1196.0,547.4 L1195.9,547.2 L1195.8,546.9 L1195.7,546.8 L1195.6,546.6 L1195.5,546.4 L1195.3,546.2 L1195.2,546.1 L1195.0,546.0 L1194.8,545.8 L1194.6,545.8 L1194.4,545.7 L1194.2,545.6 L1194.0,545.6 L1189.1,545.2Z" fill="#000" filter="url(#fDebTex)" opacity="0.8"/><path d="M1043.5,497.0 L1043.3,497.0 L1043.0,497.0 L1042.8,497.0 L1042.6,497.0 L1042.4,497.1 L1042.2,497.2 L1042.0,497.3 L1041.8,497.4 L1041.6,497.6 L1009.1,529.3 L1008.9,529.5 L1008.8,529.6 L1008.7,529.8 L1008.6,530.0 L1008.5,530.2 L1008.4,530.5 L1008.4,530.7 L1008.4,530.9 L1008.4,531.1 L1008.4,531.3 L1008.5,531.6 L1008.6,531.8 L1008.7,532.0 L1020.1,552.2 L1020.3,552.3 L1020.4,552.5 L1020.5,552.7 L1020.7,552.8 L1020.9,552.9 L1021.0,553.0 L1021.2,553.1 L1021.4,553.2 L1037.7,557.9 L1037.9,558.0 L1038.1,558.0 L1038.3,558.0 L1038.5,558.0 L1038.7,558.0 L1038.9,557.9 L1039.1,557.9 L1039.3,557.8 L1039.5,557.7 L1039.7,557.5 L1039.8,557.4 L1040.0,557.2 L1078.0,512.9 L1078.1,512.7 L1078.3,512.5 L1078.4,512.3 L1078.4,512.1 L1078.5,511.9 L1078.5,511.7 L1078.5,511.5 L1078.5,511.3 L1078.5,511.1 L1078.5,510.9 L1078.4,510.7 L1078.3,510.5 L1078.2,510.3 L1078.1,510.1 L1078.0,510.0 L1070.6,501.6 L1070.5,501.5 L1070.3,501.3 L1070.1,501.2 L1070.0,501.1 L1069.8,501.0 L1069.5,501.0 L1069.3,500.9 L1043.5,497.0Z" fill="url(#sg25)"/><path d="M1116.7,380.7 L1116.6,380.5 L1116.5,380.3 L1116.3,380.1 L1116.2,380.0 L1116.0,379.9 L1115.8,379.7 L1115.6,379.6 L1115.4,379.6 L1115.2,379.5 L1084.3,373.4 L1084.1,373.4 L1083.9,373.4 L1083.6,373.4 L1083.4,373.5 L1083.2,373.5 L1083.0,373.6 L1082.8,373.7 L1082.6,373.8 L1082.4,373.9 L1082.3,374.1 L1065.4,392.1 L1065.2,392.3 L1065.1,392.5 L1065.0,392.6 L1064.9,392.8 L1064.9,393.0 L1064.8,393.2 L1064.8,393.4 L1064.8,393.7 L1064.8,393.9 L1064.8,394.1 L1069.3,416.2 L1069.3,416.4 L1069.4,416.6 L1069.5,416.8 L1069.6,417.0 L1069.7,417.2 L1069.9,417.4 L1070.0,417.5 L1070.2,417.6 L1070.4,417.7 L1070.6,417.8 L1070.8,417.9 L1071.0,418.0 L1071.2,418.0 L1071.4,418.0 L1131.8,418.0 L1132.0,418.0 L1132.2,418.0 L1132.5,417.9 L1132.7,417.8 L1132.8,417.7 L1133.0,417.6 L1133.2,417.5 L1133.4,417.4 L1133.5,417.2 L1133.6,417.0 L1133.7,416.9 L1133.8,416.7 L1133.9,416.5 L1134.0,416.3 L1134.0,416.1 L1134.0,415.8 L1134.0,415.6 L1134.0,415.4 L1133.9,415.2 L1133.9,415.0 L1133.8,414.8 L1116.7,380.7Z" fill="url(#sg26)"/><path d="M959.6,548.9 L959.5,548.7 L959.4,548.5 L959.3,548.3 L959.2,548.1 L959.0,548.0 L958.9,547.9 L958.7,547.7 L958.5,547.6 L958.3,547.6 L958.1,547.5 L957.9,547.5 L957.7,547.4 L957.5,547.4 L957.2,547.4 L957.0,547.5 L956.8,547.5 L923.6,558.8 L923.4,558.9 L923.2,559.0 L923.1,559.1 L922.9,559.3 L922.7,559.4 L922.6,559.6 L922.5,559.8 L922.4,560.0 L922.3,560.2 L922.2,560.4 L922.2,560.6 L922.1,560.8 L922.1,561.0 L922.2,561.2 L922.2,561.4 L922.3,561.7 L922.4,561.9 L922.5,562.1 L922.6,562.2 L922.7,562.4 L968.1,611.9 L968.2,612.0 L968.4,612.2 L968.6,612.3 L968.8,612.4 L969.0,612.5 L969.3,612.6 L969.5,612.6 L969.7,612.6 L980.1,612.6 L980.3,612.6 L980.5,612.6 L980.7,612.5 L980.9,612.4 L981.1,612.3 L981.3,612.2 L981.4,612.1 L981.6,612.0 L981.7,611.8 L981.9,611.7 L982.0,611.5 L982.1,611.3 L982.1,611.1 L982.2,610.9 L982.2,610.7 L982.2,610.5 L982.2,610.3 L982.2,610.0 L982.2,609.8 L982.1,609.6 L959.6,548.9Z" fill="url(#sg27)"/><path d="M954.3,372.6 L954.5,372.6 L954.7,372.6 L954.9,372.6 L955.1,372.5 L955.3,372.5 L955.5,372.4 L956.3,372.0 L956.5,371.9 L956.7,371.7 L956.8,371.6 L957.0,371.5 L957.1,371.3 L957.2,371.1 L958.8,368.5 L958.9,368.3 L959.0,368.1 L959.1,367.9 L959.1,367.7 L959.1,367.5 L959.1,367.3 L959.1,367.1 L955.7,335.2 L955.6,335.0 L955.6,334.7 L955.5,334.5 L955.4,334.3 L955.3,334.2 L955.2,334.0 L955.0,333.8 L954.9,333.7 L954.7,333.6 L954.5,333.5 L954.3,333.4 L954.1,333.3 L953.9,333.2 L953.7,333.2 L953.5,333.2 L919.5,333.2 L919.3,333.2 L919.1,333.2 L918.9,333.3 L918.7,333.4 L918.5,333.5 L918.3,333.6 L918.1,333.7 L917.9,333.8 L917.8,334.0 L917.7,334.2 L917.6,334.4 L917.5,334.6 L917.4,334.8 L917.3,335.0 L917.3,335.2 L917.3,335.4 L917.3,366.2 L917.3,366.4 L917.3,366.7 L917.4,366.9 L917.5,367.1 L917.6,367.3 L917.7,367.4 L917.8,367.6 L917.9,367.8 L918.1,367.9 L918.3,368.0 L918.4,368.2 L918.6,368.2 L918.8,368.3 L919.0,368.4 L919.2,368.4 L954.3,372.6Z" fill="url(#sg28)"/><path d="M1145.2,424.4 L1145.1,424.6 L1144.9,424.7 L1144.8,424.9 L1144.7,425.1 L1144.6,425.2 L1144.5,425.4 L1144.4,425.6 L1144.4,425.9 L1144.4,426.1 L1144.4,426.3 L1144.4,426.5 L1144.5,426.7 L1144.5,426.9 L1144.6,427.1 L1144.7,427.3 L1144.8,427.4 L1144.9,427.6 L1174.9,461.0 L1175.1,461.1 L1175.2,461.3 L1175.4,461.4 L1175.6,461.5 L1175.8,461.6 L1176.0,461.7 L1176.2,461.7 L1193.5,464.2 L1193.7,464.3 L1193.9,464.3 L1194.1,464.2 L1194.4,464.2 L1194.6,464.1 L1194.8,464.0 L1195.0,463.9 L1195.2,463.8 L1195.3,463.6 L1195.5,463.5 L1195.6,463.3 L1195.7,463.1 L1195.8,462.9 L1195.9,462.7 L1196.0,462.5 L1196.0,462.3 L1196.0,462.1 L1196.0,397.0 L1196.0,396.8 L1196.0,396.5 L1195.9,396.3 L1195.8,396.1 L1195.7,395.9 L1195.6,395.7 L1195.5,395.5 L1195.3,395.4 L1195.2,395.2 L1195.0,395.1 L1194.8,395.0 L1194.6,394.9 L1194.4,394.8 L1194.2,394.8 L1193.9,394.8 L1193.7,394.8 L1193.5,394.8 L1181.0,396.6 L1180.8,396.6 L1180.6,396.7 L1180.3,396.8 L1180.1,396.9 L1180.0,397.0 L1145.2,424.4Z" fill="url(#sg29)"/><path d="M1042.2,557.7 L1042.1,557.9 L1042.0,558.0 L1041.9,558.2 L1041.8,558.4 L1041.8,558.6 L1041.7,558.9 L1041.7,559.1 L1041.7,559.3 L1041.7,559.5 L1041.8,559.7 L1041.9,559.9 L1041.9,560.1 L1042.1,560.3 L1042.2,560.5 L1042.3,560.6 L1042.5,560.8 L1057.7,573.7 L1057.8,573.8 L1058.0,573.9 L1058.2,574.0 L1058.4,574.1 L1058.6,574.2 L1058.8,574.2 L1059.0,574.2 L1059.3,574.2 L1059.5,574.2 L1059.7,574.1 L1059.9,574.1 L1105.0,556.0 L1105.2,555.9 L1105.4,555.8 L1105.6,555.7 L1105.7,555.6 L1105.9,555.4 L1106.0,555.2 L1106.1,555.1 L1106.2,554.9 L1106.3,554.7 L1106.4,554.5 L1112.3,529.6 L1112.4,529.3 L1112.4,529.1 L1112.4,528.9 L1112.4,528.7 L1112.3,528.5 L1112.3,528.3 L1112.2,528.1 L1112.1,527.9 L1112.0,527.7 L1111.8,527.6 L1111.7,527.4 L1111.5,527.3 L1111.3,527.2 L1111.1,527.1 L1082.4,513.4 L1082.2,513.3 L1082.0,513.2 L1081.7,513.2 L1081.5,513.1 L1081.3,513.1 L1081.1,513.2 L1080.9,513.2 L1080.6,513.3 L1080.4,513.4 L1080.3,513.5 L1080.1,513.6 L1079.9,513.7 L1079.8,513.9 L1042.2,557.7Z" fill="url(#sg30)"/><path d="M1022.0,505.0 L1040.0,498.0 L1052.0,510.0 L1046.0,525.0 L1030.0,522.0Z" fill="#9c9c9c" opacity="0.75" stroke="#c4c4c4" stroke-width="0.8"/><path d="M1050.0,515.0 L1068.0,508.0 L1080.0,520.0 L1072.0,540.0 L1058.0,536.0Z" fill="#9c9c9c" opacity="0.75" stroke="#c4c4c4" stroke-width="0.8"/><path d="M1060.0,540.0 L1075.0,532.0 L1088.0,548.0 L1070.0,556.0Z" fill="#9c9c9c" opacity="0.75" stroke="#c4c4c4" stroke-width="0.8"/><path d="M1095.0,395.0 L1110.0,388.0 L1116.0,400.0 L1102.0,412.0Z" fill="#9c9c9c" opacity="0.75" stroke="#c4c4c4" stroke-width="0.8"/><path d="M1078.0,470.0 L1092.0,462.0 L1100.0,480.0 L1086.0,492.0 L1080.0,484.0Z" fill="#9c9c9c" opacity="0.75" stroke="#c4c4c4" stroke-width="0.8"/><path d="M1118.0,520.0 L1132.0,512.0 L1140.0,530.0 L1126.0,545.0Z" fill="#9c9c9c" opacity="0.75" stroke="#c4c4c4" stroke-width="0.8"/><path d="M1002.0,470.0 L1012.0,462.0 L1018.0,476.0 L1008.0,486.0Z" fill="#9c9c9c" opacity="0.75" stroke="#c4c4c4" stroke-width="0.8"/><path d="M1140.0,420.0 L1152.0,410.0 L1160.0,425.0 L1150.0,440.0Z" fill="#9c9c9c" opacity="0.75" stroke="#c4c4c4" stroke-width="0.8"/><path d="M964.0,520.0 L975.0,512.0 L985.0,524.0 L975.0,536.0Z" fill="#9c9c9c" opacity="0.75" stroke="#c4c4c4" stroke-width="0.8"/><path d="M1042.0,452.0 L1056.0,446.0 L1062.0,458.0 L1050.0,468.0Z" fill="#9c9c9c" opacity="0.75" stroke="#c4c4c4" stroke-width="0.8"/><g fill="none" stroke="#a5a5a5" stroke-width="1.0" opacity="0.55"><path d="M1117.0,609.6 q0.7,14.3 0.3,23.7"/><path d="M979.7,503.1 q-5.7,10.4 -4.9,27.5"/><path d="M1014.6,591.4 q4.3,8.0 12.6,24.0"/><path d="M936.5,559.9 q-5.8,8.2 -15.3,12.9"/><path d="M1167.0,600.0 q10.3,19.9 11.4,38.0"/><path d="M1162.7,470.4 q6.8,4.0 6.1,14.7"/><path d="M937.5,557.6 q-5.5,3.2 -17.8,15.3"/><path d="M989.7,414.6 q-2.6,4.9 3.4,13.0"/><path d="M1167.1,607.0 q-10.6,12.9 -16.3,16.7"/><path d="M1063.7,536.3 q10.7,3.6 14.7,1.3"/><path d="M1162.2,501.0 q6.6,11.0 6.1,25.9"/><path d="M1066.2,410.8 q-1.3,7.3 -6.2,5.5"/><path d="M924.8,498.9 q-6.9,13.4 -15.4,31.7"/><path d="M1030.5,600.1 q-9.9,-2.3 -11.7,3.6"/><path d="M925.3,458.2 q17.7,3.9 32.3,15.3"/><path d="M1067.3,424.2 q-3.2,4.4 0.3,15.0"/><path d="M1022.8,531.1 q1.4,8.4 -1.5,9.4"/><path d="M1132.5,553.5 q7.1,2.9 22.8,0.6"/><path d="M966.8,531.6 q8.7,6.2 21.2,21.6"/><path d="M1025.9,420.0 q-8.3,3.2 -16.6,5.4"/><path d="M1180.7,361.5 q-1.4,16.2 -7.6,23.0"/><path d="M1004.1,528.2 q-5.4,16.1 -2.1,25.9"/><path d="M1188.6,432.7 q6.8,12.5 21.5,33.5"/><path d="M938.6,560.1 q-6.9,2.8 -16.3,15.3"/><path d="M1096.7,457.0 q-1.5,7.5 -1.1,20.4"/><path d="M931.8,454.6 q14.1,12.9 21.8,21.4"/><path d="M1044.5,399.8 q5.5,15.7 8.3,22.1"/><path d="M941.9,467.3 q4.3,18.3 0.8,30.9"/><path d="M1091.7,544.6 q-6.9,17.2 -17.9,30.7"/><path d="M986.2,588.5 q8.1,17.6 9.7,25.9"/><path d="M1192.0,336.0 q3.9,3.9 10.0,14.9"/><path d="M1071.4,356.3 q13.5,15.2 22.2,31.1"/><path d="M948.2,599.4 q-6.0,7.3 -8.7,11.7"/><path d="M1106.9,406.6 q-11.5,4.9 -18.1,2.8"/><path d="M960.7,523.2 q8.8,6.8 22.0,15.9"/><path d="M1178.6,463.7 q0.5,10.3 5.5,27.2"/><path d="M1024.7,409.8 q11.4,13.9 32.2,21.6"/><path d="M1176.9,529.7 q7.4,1.8 24.0,1.4"/><path d="M1112.1,400.8 q8.7,-1.6 25.4,0.6"/><path d="M1044.0,582.3 q5.4,8.9 4.9,11.3"/><path d="M1064.8,347.8 q9.2,3.1 17.4,11.6"/><path d="M1140.3,568.2 q-22.5,5.0 -35.3,8.5"/><path d="M940.6,583.8 q-14.4,7.1 -22.6,23.1"/><path d="M1143.9,502.4 q-1.3,9.1 -8.5,21.4"/><path d="M992.9,432.2 q12.2,7.0 16.6,22.6"/></g><rect x="918.3" y="334.2" width="276.7" height="277.4" fill="#000" filter="url(#fGrain)" opacity="0.3"/><rect x="918.3" y="334.2" width="276.7" height="277.4" fill="#000" opacity="0.07"/></g></g><line x1="918.3" y1="610.6" x2="1195" y2="610.6" stroke="#3a3a3a" stroke-width="2"/><rect x="1011.9" y="599" width="162.9" height="3" fill="#fff"/><text x="1093.50" y="590.70" font-size="13.5" text-anchor="middle" fill="#fff" font-weight="bold" >100 μm</text><text x="2.00" y="659.50" font-size="31" text-anchor="start" fill="#000" font-weight="bold" >g</text><clipPath id="pot1"><path d="M40.8,665.8 L128.3,665.8 L128.3,711.25 A43.75,43.75 0 0 1 40.8,711.25 Z"/></clipPath><path d="M40.8,665.8 L128.3,665.8 L128.3,711.25 A43.75,43.75 0 0 1 40.8,711.25 Z" fill="#fff"/><polygon clip-path="url(#pot1)" points="38.00,720.00 40.00,716.70 50.00,706.00 56.00,698.00 62.00,694.50 70.00,693.00 78.00,690.50 83.00,689.00 88.00,689.50 95.00,691.00 102.00,694.00 108.00,699.00 113.00,704.00 120.00,707.50 130.00,712.00 130.00,760.00 38.00,760.00" fill="#a1a9b1"/><path d="M40.8,665.8 L128.3,665.8 L128.3,711.25 A43.75,43.75 0 0 1 40.8,711.25 Z" fill="none" stroke="#c3c3c3" stroke-width="2.2"/><path d="M40.8,681 L34,681 Q29.2,681 29.2,687 L29.2,699.5 Q29.2,705.2 34,705.2 L40.8,705.2" fill="none" stroke="#c3c3c3" stroke-width="2.2"/><path d="M128.3,681 L133.5,681 Q138.3,681 138.3,687 L138.3,699.5 Q138.3,705.2 133.5,705.2 L128.3,705.2" fill="none" stroke="#c3c3c3" stroke-width="2.2"/><text x="84.00" y="725.30" font-size="16" text-anchor="middle" fill="#fff" >Cement</text><text x="177.00" y="679.20" font-size="16" text-anchor="middle" fill="#000" >Mix with</text><text x="177.00" y="697.80" font-size="16" text-anchor="middle" fill="#000" >water</text><polygon points="161.30,721.10 184.00,721.10 184.00,725.60 193.00,716.60 184.00,707.60 184.00,712.10 161.30,712.10" fill="#e2c6a2" stroke="#9d9d9d" stroke-width="0.9" stroke-linejoin="miter"/><clipPath id="pot2"><path d="M233.3,665.8 L321,665.8 L321,710.95 A43.85,43.85 0 0 1 233.3,710.95 Z"/></clipPath><path d="M233.3,665.8 L321,665.8 L321,710.95 A43.85,43.85 0 0 1 233.3,710.95 Z" fill="#fff"/><path clip-path="url(#pot2)" d="M228,691 C236,689 242,690 250,692.5 C257,694.5 262,694 268,692 C275,690 281,692 287,694.5 C293,696 298,693 304,691.5 C310,690 314,693.5 318,694 C321,694 324,692 326,691 L326,760 L228,760 Z" fill="#aab9d3"/><path d="M233.3,665.8 L321,665.8 L321,710.95 A43.85,43.85 0 0 1 233.3,710.95 Z" fill="none" stroke="#c3c3c3" stroke-width="2.2"/><path d="M233.3,681 L227,681 Q222.2,681 222.2,687 L222.2,699.5 Q222.2,705.2 227,705.2 L233.3,705.2" fill="none" stroke="#c3c3c3" stroke-width="2.2"/><path d="M321,681 L326.5,681 Q331.3,681 331.3,687 L331.3,699.5 Q331.3,705.2 326.5,705.2 L321,705.2" fill="none" stroke="#c3c3c3" stroke-width="2.2"/><text x="277.00" y="715.30" font-size="16" text-anchor="middle" fill="#fff" >Cement</text><text x="277.00" y="734.30" font-size="16" text-anchor="middle" fill="#fff" >paste</text><text x="152.50" y="764.70" font-size="16" text-anchor="middle" fill="#000" >Pouring</text><polygon points="209.45,756.27 159.00,783.98 156.95,780.25 151.40,793.00 165.13,795.16 163.09,791.43 213.55,763.73" fill="#e2c6a2" stroke="#9d9d9d" stroke-width="0.9" stroke-linejoin="miter"/><path d="M29.3,818 A54,20 0 0 1 137.3,818 L137.3,880 A54,20 0 0 1 29.3,880 Z" fill="#e6ebf2"/><ellipse cx="83.3" cy="818" rx="54" ry="20" fill="#eef1f6" stroke="#dce2ea" stroke-width="1"/><path d="M34,822 L34,876 C34,888 58,894.5 83,894.5 C108,894.5 132.5,888 132.5,876 L132.5,822 Z" fill="#aabdd9"/><path d="M34,824 C34,814 44,812 52,810 C60,806 70,808 78,805 C88,803 98,807 108,808 C118,810 130,813 132.5,822 C133,832 128,838 120,842 C112,846 100,850 90,851 C76,852 62,850 50,846 C40,842 34,836 34,824 Z" fill="#a2b6d4"/><path d="M34,836 C42,846 52,852 62,856 C70,860 78,858 88,858 C100,858 112,855 122,850 C128,846 132,842 132.5,838 L132.5,846 C124,856 108,862 86,863 C64,864 44,856 34,846 Z" fill="#9cb0cf" opacity="0.7"/><path d="M29.3,880 A54,20 0 0 0 137.3,880 L137.3,884 A54,20 0 0 1 29.3,884 Z" fill="#eef1f6"/><ellipse cx="81.3" cy="840.5" rx="32" ry="22" fill="#bfae9f"/><ellipse cx="81.3" cy="836" rx="32" ry="22.5" fill="#d2c2b6"/><ellipse cx="81.3" cy="836" rx="32" ry="22.5" fill="#000" filter="url(#fHolesF)" opacity="0.9"/><ellipse cx="81.3" cy="836" rx="32" ry="22.5" fill="#000" filter="url(#fStrF)" opacity="0.6"/><g fill="#8e7a72" opacity="0.7"><ellipse cx="70" cy="831" rx="7" ry="5"/><ellipse cx="92" cy="830" rx="7" ry="5"/><ellipse cx="73" cy="844" rx="6" ry="3.5"/><ellipse cx="90" cy="843.5" rx="6" ry="3.5"/></g><ellipse cx="81.3" cy="837" rx="6" ry="5" fill="#e4d8cf" opacity="0.8"/><path d="M29.3,818 L29.3,880 M137.3,818 L137.3,880" stroke="#d8dee8" stroke-width="1.2"/><text x="171.70" y="823.00" font-size="16" text-anchor="middle" fill="#000" >Cement</text><text x="176.30" y="841.20" font-size="16" text-anchor="middle" fill="#000" >hydration</text><polygon points="161.30,864.00 183.30,864.00 183.30,868.00 192.30,859.50 183.30,851.00 183.30,855.00 161.30,855.00" fill="#e2c6a2" stroke="#9d9d9d" stroke-width="0.9" stroke-linejoin="miter"/><text x="176.70" y="881.20" font-size="16" text-anchor="middle" fill="#000" >Curing</text><path d="M223.4,821 A50,19 0 0 1 323.4,821 L323.4,879 A50,19.5 0 0 1 223.4,879 Z" fill="#dfe5ee"/><ellipse cx="273.4" cy="821" rx="50" ry="19" fill="#d9e0ea" stroke="#d2d9e4" stroke-width="0.8"/><path d="M239.5,832 C239.5,821 254,814.7 272.5,814.7 C291,814.7 306.5,821 306.5,832 L306.5,875 C306.5,881 292,885.3 272.5,885.3 C253,885.3 239.5,881 239.5,875 Z" fill="#b4b1b4"/><path d="M239.5,832 C239.5,821 254,814.7 272.5,814.7 C291,814.7 306.5,821 306.5,832 L306.5,875 C306.5,881 292,885.3 272.5,885.3 C253,885.3 239.5,881 239.5,875 Z" fill="#000" filter="url(#fHolesG)" opacity="0.9"/><path d="M239.5,832 C239.5,821 254,814.7 272.5,814.7 C291,814.7 306.5,821 306.5,832 L306.5,875 C306.5,881 292,885.3 272.5,885.3 C253,885.3 239.5,881 239.5,875 Z" fill="#000" filter="url(#fStrF)" opacity="0.3"/><ellipse cx="272.5" cy="831" rx="33" ry="16" fill="#b8b5b8" opacity="0.5"/><g fill="#8a878b" opacity="0.75"><ellipse cx="262" cy="827" rx="6" ry="4"/><ellipse cx="284" cy="826.5" rx="6" ry="4"/><ellipse cx="264" cy="838" rx="5" ry="3"/><ellipse cx="282" cy="838" rx="5" ry="3"/></g><path d="M223.4,821 L223.4,879 M323.4,821 L323.4,879" stroke="#d0d7e2" stroke-width="1.2"/><path d="M223.4,879 A50,19.5 0 0 0 323.4,879" fill="none" stroke="#eef1f6" stroke-width="2"/><text x="357.00" y="660.00" font-size="31" text-anchor="start" fill="#000" font-weight="bold" >h</text><polygon points="451.00,734.72 453.20,726.19 455.40,718.74 458.00,729.32 460.00,752.06 461.50,759.19 463.00,766.09 464.67,768.55 466.33,769.53 468.00,771.89 469.56,772.31 471.12,773.35 472.68,774.88 474.24,776.52 475.80,776.40 477.33,776.89 478.87,777.87 480.40,778.72 481.93,778.46 483.47,778.50 485.00,779.76 486.72,778.63 488.44,780.29 490.16,779.74 491.88,779.87 493.60,780.19 495.28,781.33 496.96,782.99 498.64,782.81 500.32,784.29 502.00,785.22 503.57,785.36 505.13,786.21 506.70,786.00 508.27,786.56 509.83,787.36 511.40,788.69 513.12,787.80 514.84,787.14 516.56,787.10 518.28,786.41 520.00,785.68 521.67,786.27 523.34,785.92 525.01,784.99 526.69,785.32 528.36,785.04 530.03,785.40 531.70,784.97 533.36,783.54 535.02,783.93 536.68,781.83 538.34,781.59 540.00,781.41 541.75,780.07 543.50,780.23 545.25,779.14 547.00,779.77 548.60,779.82 550.20,779.42 551.80,779.80 553.40,778.80 555.00,779.31 556.80,779.28 558.60,779.38 560.40,779.30 562.20,780.04 563.80,780.15 565.40,779.33 567.00,779.58 568.60,778.55 570.20,779.51 571.80,779.36 573.40,779.85 575.00,779.52 576.67,778.82 578.33,779.15 580.00,779.77 581.67,778.90 583.33,779.77 585.00,779.47 586.54,779.55 588.08,779.61 589.62,780.91 591.16,780.05 592.70,780.40 594.47,781.69 596.23,783.53 598.00,783.33 599.63,784.55 601.27,785.35 602.90,786.51 604.67,785.69 606.45,785.03 608.23,783.37 610.00,782.86 611.53,782.27 613.06,782.61 614.59,782.23 616.11,780.44 617.64,779.98 619.17,779.57 620.70,779.07 622.25,778.39 623.80,777.48 625.35,775.87 626.90,774.37 628.45,773.95 630.00,772.79 631.67,770.94 633.33,769.39 635.00,766.80 636.67,764.36 638.33,762.35 640.00,760.28 641.52,757.16 643.05,756.39 644.58,754.07 646.10,752.10 647.83,749.85 649.55,747.08 651.27,744.96 653.00,742.37 654.77,740.89 656.55,737.65 658.33,735.33 660.10,733.70 660.10,763.73 658.33,764.86 656.55,766.34 654.77,767.08 653.00,768.20 651.27,769.79 649.55,771.06 647.83,772.83 646.10,773.64 644.48,776.12 642.86,776.82 641.24,777.20 639.62,778.48 638.00,779.76 636.38,780.97 634.77,781.76 633.15,784.11 631.53,785.52 629.92,785.86 628.30,787.07 626.58,787.25 624.87,788.10 623.15,789.30 621.43,789.99 619.72,791.71 618.00,791.46 616.33,792.12 614.67,794.49 613.00,794.70 611.33,794.97 609.67,796.49 608.00,796.54 606.33,798.13 604.67,799.63 603.00,800.23 601.33,800.75 599.67,800.83 598.00,801.79 596.27,802.38 594.53,804.27 592.80,804.80 591.07,806.11 589.33,806.31 587.60,807.06 586.08,808.90 584.56,810.08 583.04,810.76 581.52,811.59 580.00,812.51 578.48,813.10 576.96,813.00 575.44,814.19 573.92,814.65 572.40,814.85 570.67,815.16 568.93,815.88 567.20,816.16 565.47,817.17 563.73,817.91 562.00,817.42 560.33,818.30 558.67,818.48 557.00,818.53 555.33,817.68 553.67,817.55 552.00,817.66 550.33,817.51 548.67,817.43 547.00,818.00 545.33,818.34 543.67,818.14 542.00,817.47 540.28,817.43 538.57,817.35 536.85,815.89 535.13,816.49 533.42,816.57 531.70,816.05 530.03,815.49 528.36,814.54 526.69,813.54 525.01,814.01 523.34,812.76 521.67,813.00 520.00,812.75 518.48,811.61 516.96,811.40 515.43,812.05 513.91,811.47 512.39,810.36 510.87,810.07 509.34,809.89 507.82,810.87 506.30,810.49 504.71,809.38 503.12,810.41 501.53,810.60 499.94,810.03 498.36,809.48 496.77,809.74 495.18,809.02 493.59,808.78 492.00,810.25 490.48,809.65 488.96,809.36 487.43,809.93 485.91,809.04 484.39,809.65 482.87,809.49 481.34,808.42 479.82,808.39 478.30,808.37 476.64,807.14 474.98,806.56 473.32,804.89 471.66,804.01 470.00,802.41 467.80,800.81 465.60,797.07 463.80,791.08 462.00,785.13 460.50,772.55 458.00,754.87 455.40,744.57 453.60,749.27 451.80,754.68 450.00,760.04 448.50,779.23 447.00,800.00" fill="#f0e5d6"/><polyline points="441.40,891.90 449.10,798.60 453.00,750.00 455.40,733.70 457.00,736.00 459.00,748.00 460.00,756.60 461.00,769.30 462.50,773.10 464.00,777.00 465.37,779.25 466.73,781.62 468.10,784.60 469.33,785.84 470.55,786.26 471.77,787.50 473.00,788.50 474.32,789.30 475.65,789.75 476.98,790.14 478.30,790.90 479.58,791.02 480.87,791.15 482.15,791.46 483.43,790.95 484.72,791.45 486.00,791.50 487.27,791.39 488.53,791.53 489.80,792.10 491.07,791.97 492.33,792.14 493.60,792.20 494.88,792.79 496.16,793.29 497.44,793.23 498.72,793.74 500.00,794.00 501.26,794.40 502.52,794.81 503.78,795.37 505.04,795.56 506.30,796.00 507.73,796.65 509.15,797.23 510.57,798.27 512.00,798.50 513.40,799.20 514.80,799.88 516.20,800.46 517.60,800.36 519.00,801.10 520.20,800.93 521.40,801.06 522.60,800.75 523.80,799.89 525.00,800.00 526.34,799.52 527.68,799.67 529.02,799.20 530.36,799.21 531.70,799.30 532.96,799.02 534.22,799.65 535.48,799.86 536.74,800.06 538.00,799.80 539.28,799.49 540.56,799.99 541.84,799.94 543.12,799.48 544.40,799.80 545.67,800.26 546.93,800.45 548.20,799.90 549.47,800.67 550.73,800.29 552.00,800.50 553.20,800.45 554.40,800.86 555.60,800.68 556.80,800.04 558.00,800.30 559.25,800.24 560.50,800.31 561.75,800.16 563.00,800.03 564.25,800.14 565.50,800.30 566.71,800.24 567.93,799.35 569.14,799.58 570.36,799.22 571.57,798.58 572.79,798.61 574.00,798.50 575.21,798.25 576.43,797.80 577.64,797.04 578.86,797.51 580.07,796.97 581.29,796.78 582.50,796.00 583.75,795.31 585.00,795.12 586.25,794.59 587.50,794.92 588.75,794.13 590.00,794.00 591.25,793.29 592.50,793.18 593.75,793.25 595.00,792.79 596.25,791.91 597.50,791.43 598.75,791.75 600.00,791.00 601.33,790.85 602.67,790.75 604.00,789.98 605.33,789.74 606.67,790.09 608.00,789.70 609.25,789.05 610.50,788.14 611.75,788.33 613.00,787.47 614.25,787.03 615.50,785.80 616.75,785.91 618.00,785.00 619.29,783.92 620.58,783.95 621.86,782.90 623.15,782.11 624.44,781.61 625.72,781.26 627.01,779.98 628.30,779.50 629.51,778.29 630.72,777.77 631.94,776.64 633.15,775.65 634.36,774.82 635.58,773.85 636.79,773.11 638.00,772.50 639.27,771.26 640.54,770.18 641.81,769.52 643.09,768.03 644.36,767.14 645.63,765.78 646.90,765.00 648.32,763.36 649.74,761.57 651.16,760.28 652.58,758.56 654.00,757.50 655.38,756.11 656.76,754.35 658.14,752.42 659.52,751.08 660.90,749.50" fill="none" stroke="#df8f45" stroke-width="1.5" stroke-linejoin="round"/><rect x="562.2" y="684.7" width="21.6" height="8.3" fill="#f0e5d6"/><line x1="562.2" y1="688.6" x2="583.8" y2="688.6" stroke="#df8f45" stroke-width="2"/><text x="592.30" y="694.80" font-size="19.2" text-anchor="start" fill="#000" >LSRCC</text><circle cx="448.9" cy="798.3" r="3.9" fill="url(#ballg)" stroke="#e0893a" stroke-width="0.4"/><circle cx="459.7" cy="756.8" r="3.9" fill="url(#ballg)" stroke="#e0893a" stroke-width="0.4"/><circle cx="565.4" cy="800" r="3.9" fill="url(#ballg)" stroke="#e0893a" stroke-width="0.4"/><circle cx="647.3" cy="765.7" r="3.9" fill="url(#ballg)" stroke="#e0893a" stroke-width="0.4"/><g fill="#111"><rect x="456.80" y="799.70" width="6.85" height="1.13"/><rect x="456.80" y="811.87" width="6.85" height="1.13"/><rect x="459.19" y="799.70" width="2.06" height="13.30"/></g><g fill="#111"><rect x="469.70" y="746.40" width="13.52" height="1.17"/><rect x="469.70" y="759.03" width="13.52" height="1.17"/><rect x="472.60" y="746.40" width="2.14" height="13.80"/><rect x="478.19" y="746.40" width="2.14" height="13.80"/></g><g fill="#111"><rect x="559.00" y="778.00" width="14.07" height="1.19"/><rect x="559.00" y="790.81" width="14.07" height="1.19"/><rect x="560.82" y="778.00" width="2.17" height="14.00"/><rect x="564.95" y="778.00" width="2.17" height="14.00"/><rect x="569.08" y="778.00" width="2.17" height="14.00"/></g><text x="627" y="760.9" font-size="19.6" style="font-family:Liberation Serif,serif" fill="#111">IV</text><text x="519.00" y="837.30" font-size="16" text-anchor="start" fill="#000" >Compression</text><polygon points="504.05,833.70 504.05,840.90 501.55,840.90 506.30,846.40 511.05,840.90 508.55,840.90 508.55,833.70" fill="#e2c6a2" stroke="#e2c6a2" stroke-width="0.3" stroke-linejoin="miter"/><rect x="480.30" y="848.10" width="52.70" height="8.20" rx="2.46" fill="url(#plg)" stroke="#d9d9d9" stroke-width="0.6"/><rect x="491" y="856.5" width="30.5" height="20.4" rx="2.5" fill="#a0a8b1"/><rect x="480.30" y="877.40" width="52.70" height="8.40" rx="2.52" fill="url(#plg)" stroke="#d9d9d9" stroke-width="0.6"/><polygon points="540.60,872.75 553.20,872.75 553.20,876.25 561.70,868.50 553.20,860.75 553.20,864.25 540.60,864.25" fill="#e2c6a2" stroke="#9d9d9d" stroke-width="0.9" stroke-linejoin="miter"/><rect x="574.4" y="855.8" width="32.3" height="21.1" rx="2.5" fill="#a0a8b1"/><path d="M585.5,856 Q583,862 581,866 Q579,872 580.5,877 M596,856 Q597,866 595,872 L594.5,877 M575,868 Q580,864 585,866 Q592,870 600,871 L606.5,872 M601,856 Q604,860 606.5,866 M576,861 L581,866" fill="none" stroke="#efe3c8" stroke-width="0.7"/><rect x="564.20" y="877.40" width="52.70" height="8.40" rx="2.52" fill="url(#plg)" stroke="#d9d9d9" stroke-width="0.6"/><rect x="441.4" y="674" width="220.00" height="217.90" fill="none" stroke="#000" stroke-width="1.9"/><line x1="441.40" y1="891.9" x2="441.40" y2="895.9" stroke="#000" stroke-width="1.9"/><text x="441.40" y="913.50" font-size="18.5" text-anchor="middle" fill="#000" >0</text><line x1="509.95" y1="891.9" x2="509.95" y2="895.9" stroke="#000" stroke-width="1.9"/><text x="509.95" y="913.50" font-size="18.5" text-anchor="middle" fill="#000" >5</text><line x1="578.50" y1="891.9" x2="578.50" y2="895.9" stroke="#000" stroke-width="1.9"/><text x="578.50" y="913.50" font-size="18.5" text-anchor="middle" fill="#000" >10</text><line x1="647.05" y1="891.9" x2="647.05" y2="895.9" stroke="#000" stroke-width="1.9"/><text x="647.05" y="913.50" font-size="18.5" text-anchor="middle" fill="#000" >15</text><line x1="437.4" y1="891.90" x2="441.4" y2="891.90" stroke="#000" stroke-width="1.9"/><text x="435.50" y="897.80" font-size="18.5" text-anchor="end" fill="#000" >0</text><line x1="437.4" y1="837.42" x2="441.4" y2="837.42" stroke="#000" stroke-width="1.9"/><text x="435.50" y="843.32" font-size="18.5" text-anchor="end" fill="#000" >100</text><line x1="437.4" y1="782.95" x2="441.4" y2="782.95" stroke="#000" stroke-width="1.9"/><text x="435.50" y="788.85" font-size="18.5" text-anchor="end" fill="#000" >200</text><line x1="437.4" y1="728.48" x2="441.4" y2="728.48" stroke="#000" stroke-width="1.9"/><text x="435.50" y="734.38" font-size="18.5" text-anchor="end" fill="#000" >300</text><line x1="437.4" y1="674.00" x2="441.4" y2="674.00" stroke="#000" stroke-width="1.9"/><text x="435.50" y="679.90" font-size="18.5" text-anchor="end" fill="#000" >400</text><text x="551.40" y="937.60" font-size="18.5" text-anchor="middle" fill="#000" >Displacement (mm)</text><text transform="translate(399.00,783.00) rotate(-90)" font-size="18.5" text-anchor="middle" fill="#000" >Force (kN)</text><text x="678.50" y="659.50" font-size="31" text-anchor="start" fill="#000" font-weight="bold" >i</text><rect x="709.4" y="670.8" width="483" height="259.1" fill="none" stroke="#dcbe99" stroke-width="2.8"/><line x1="767.2" y1="688.2" x2="797.5" y2="688.2" stroke="#df9447" stroke-width="4.8"/><circle cx="782.35" cy="688.2" r="8.6" fill="url(#ballg2)"/><g fill="#111"><rect x="809.40" y="682.80" width="6.70" height="1.10"/><rect x="809.40" y="694.69" width="6.70" height="1.10"/><rect x="811.74" y="682.80" width="2.02" height="13.00"/></g><line x1="1019" y1="689.3" x2="1049.4" y2="689.3" stroke="#df9447" stroke-width="4.8"/><circle cx="1034.2" cy="689.3" r="8.6" fill="url(#ballg2)"/><g fill="#111"><rect x="1060.30" y="683.00" width="12.94" height="1.12"/><rect x="1060.30" y="695.08" width="12.94" height="1.12"/><rect x="1063.07" y="683.00" width="2.05" height="13.20"/><rect x="1068.42" y="683.00" width="2.05" height="13.20"/></g><line x1="1011.5" y1="827.3" x2="1041.8" y2="827.3" stroke="#df9447" stroke-width="4.8"/><circle cx="1026.65" cy="827.3" r="8.6" fill="url(#ballg2)"/><g fill="#111"><rect x="1057.00" y="820.30" width="14.17" height="1.20"/><rect x="1057.00" y="833.20" width="14.17" height="1.20"/><rect x="1058.83" y="820.30" width="2.19" height="14.10"/><rect x="1062.99" y="820.30" width="2.19" height="14.10"/><rect x="1067.15" y="820.30" width="2.19" height="14.10"/></g><line x1="740" y1="829.7" x2="770.4" y2="829.7" stroke="#df9447" stroke-width="4.8"/><circle cx="755.2" cy="829.7" r="8.6" fill="url(#ballg2)"/><text x="777.6" y="837.2" font-size="19.6" style="font-family:Liberation Serif,serif" fill="#111">IV</text><path d="M761.8,706 L919.3,705.5 L919.3,781 Q840,788 761.8,781 Z" fill="url(#g1)"/><path d="M761.8,706 L919.3,705.5 L919.3,781 Q840,788 761.8,781 Z" fill="#000" filter="url(#fStreak)" opacity="0.45"/><path d="M761.8,706 L919.3,705.5 L919.3,781 Q840,788 761.8,781 Z" fill="url(#concTex)" opacity="0.35"/><path d="M1011.5,707.2 L1169.3,706.6 L1169.3,780.3 Q1090,788 1011.5,781.3 Z" fill="#b1b9bc"/><path clip-path="url(#cs2)" d="M1011.5,706 L1027,706 L1024,740 L1028,782 L1011.5,782 Z" fill="#737c82"/><path clip-path="url(#cs2)" d="M1027,706 L1060,706 L1062,730 L1055,782 L1028,782 L1024,740 Z" fill="#99a2a7"/><path clip-path="url(#cs2)" d="M1053,728 L1066,722 L1072,750 L1070,782 L1050,782 Z" fill="#c9cfd1"/><path clip-path="url(#cs2)" d="M1090,755 L1130,748 L1169,752 L1169,782 L1085,782 Z" fill="#c3c9cb"/><path d="M1011.5,707.2 L1169.3,706.6 L1169.3,780.3 Q1090,788 1011.5,781.3 Z" fill="#000" filter="url(#fStreak)" opacity="0.45"/><path d="M1011.5,707.2 L1169.3,706.6 L1169.3,780.3 Q1090,788 1011.5,781.3 Z" fill="url(#concTex)" opacity="0.35"/><g fill="none" stroke="#59626a" stroke-width="0.9" opacity="0.85"><path d="M1026,708 L1024,740 L1028,783"/><path d="M1040,708 Q1044,740 1038,783"/><path d="M1090,712 Q1080,725 1086,745 L1080,783"/><path d="M1110,712 Q1100,718 1098,730"/><path d="M1060,708 L1062,730 L1055,783"/><path d="M1160,710 L1163,780"/></g><clipPath id="cs3"><path d="M1006.3,846.1 L1177.8,847 L1181.3,857.5 L1183,908.3 Q1120,912.5 1050,909.1 L987,905.6 L995.8,873.3 L1004.5,861 Z"/></clipPath><clipPath id="cs2"><path d="M1011.5,707.2 L1169.3,706.6 L1169.3,780.3 Q1090,788 1011.5,781.3 Z"/></clipPath><clipPath id="cs4"><path d="M735.8,848.1 L923.2,848.1 L944.9,872.3 L944.9,896.2 L830,896.2 L716.3,890.8 L728.2,876.7 L735.8,855 Z"/></clipPath><path d="M1006.3,846.1 L1177.8,847 L1181.3,857.5 L1183,908.3 Q1120,912.5 1050,909.1 L987,905.6 L995.8,873.3 L1004.5,861 Z" fill="#929a9f"/><g clip-path="url(#cs3)"><path d="M980,846 L1042,846 L1050,870 L1046,912 L980,912 Z" fill="#6c757b"/><path d="M1042,846 L1120,846 L1115,868 L1060,872 L1050,870 Z" fill="#858e93"/><path d="M1078,870 L1112,866 L1128,878 L1134,912 L1062,912 L1066,888 Z" fill="#b2b9bc"/><path d="M1140,846 L1183,846 L1183,912 L1150,912 L1145,880 Z" fill="#a0a8ac"/></g><path d="M1006.3,846.1 L1177.8,847 L1181.3,857.5 L1183,908.3 Q1120,912.5 1050,909.1 L987,905.6 L995.8,873.3 L1004.5,861 Z" fill="#000" filter="url(#fStreak)" opacity="0.45"/><path d="M1006.3,846.1 L1177.8,847 L1181.3,857.5 L1183,908.3 Q1120,912.5 1050,909.1 L987,905.6 L995.8,873.3 L1004.5,861 Z" fill="url(#concTex)" opacity="0.4"/><g clip-path="url(#cs3)" fill="none" stroke="#3c4348" stroke-width="1.1" opacity="0.9"><path d="M1012,848 L992,902"/><path d="M1022,850 Q1014,875 1000,906"/><path d="M1036,848 Q1048,875 1040,912"/><path d="M1056,872 L1064,912"/><path d="M1060,848 L1062,872"/><path d="M1080,848 L1084,872"/><path d="M1100,848 L1098,866"/><path d="M1120,850 L1126,876 L1134,912"/><path d="M1145,852 L1140,880 L1150,912"/><path d="M1158,850 L1156,906"/><path d="M1172,850 L1176,906"/></g><path d="M735.8,848.1 L923.2,848.1 L944.9,872.3 L944.9,896.2 L830,896.2 L716.3,890.8 L728.2,876.7 L735.8,855 Z" fill="#878e93"/><g clip-path="url(#cs4)"><path d="M715,846 L750,846 L744,878 L738,892 L715,892 Z" fill="#3d4246"/><path d="M750,846 L792,846 L786,896 L738,892 L744,878 Z" fill="#7c8489"/><path d="M792,846 L868,846 L872,897 L786,897 Z" fill="#9b998c"/><path d="M868,846 L925,846 L946,872 L946,897 L872,897 Z" fill="#858c91"/></g><path d="M735.8,848.1 L923.2,848.1 L944.9,872.3 L944.9,896.2 L830,896.2 L716.3,890.8 L728.2,876.7 L735.8,855 Z" fill="#000" filter="url(#fStreak)" opacity="0.45"/><path d="M735.8,848.1 L923.2,848.1 L944.9,872.3 L944.9,896.2 L830,896.2 L716.3,890.8 L728.2,876.7 L735.8,855 Z" fill="url(#concTex)" opacity="0.45"/><g clip-path="url(#cs4)" fill="none" stroke="#dcd3ad" stroke-width="0.6" opacity="0.9"><path d="M795,858 l12,5 l10,-4 l12,7 l9,-3"/><path d="M800,875 l18,-5 l14,7 l10,-4"/><path d="M815,852 l-6,12 l10,8 l6,10"/><path d="M835,860 l12,10 l8,-6 l10,9"/><path d="M845,882 l-12,4 l-10,-3"/><path d="M798,888 l14,-3 l16,4"/><path d="M855,852 l-4,14 l8,6"/><path d="M810,866 l25,-2"/><path d="M825,892 l20,-6"/></g><g clip-path="url(#cs4)" fill="none" stroke="#4a5257" stroke-width="1" opacity="0.85"><path d="M752,850 L742,892"/><path d="M765,850 Q772,870 762,894"/><path d="M780,850 L786,896"/><path d="M880,850 L868,893"/><path d="M898,852 Q910,870 902,894"/><path d="M918,850 L914,894"/><path d="M932,862 L930,894"/></g><text x="780.60" y="761.80" font-size="16" text-anchor="start" fill="#fff" >10 mm</text><line x1="783.4" y1="771.2" x2="805.7" y2="771.2" stroke="#fff" stroke-width="2"/><text x="1015.80" y="757.00" font-size="16" text-anchor="start" fill="#fff" >10 mm</text><line x1="1018.4" y1="765.5" x2="1040.8" y2="765.5" stroke="#fff" stroke-width="2"/><text x="1022.30" y="887.00" font-size="16" text-anchor="start" fill="#fff" >10 mm</text><line x1="1024" y1="896.2" x2="1046.6" y2="896.2" stroke="#fff" stroke-width="2"/><text x="762.80" y="877.30" font-size="16" text-anchor="start" fill="#fff" >10 mm</text><line x1="765.7" y1="884.9" x2="787.8" y2="884.9" stroke="#fff" stroke-width="2"/><line x1="750.3" y1="707" x2="750.3" y2="778" stroke="#000" stroke-width="1.6"/><path d="M745,706.2 L756,706.2 M745,778.7 L756,778.7" stroke="#000" stroke-width="1.6"/><path d="M746.8,713 L750.3,706.8 L753.8,713 Z M746.8,772 L750.3,778.1 L753.8,772 Z" fill="#000"/><text transform="translate(740.30,744.00) rotate(-90)" font-size="18" text-anchor="middle" fill="#000" >35 mm</text><polygon points="953.40,751.75 969.50,751.75 969.50,756.40 979.00,747.00 969.50,737.60 969.50,742.25 953.40,742.25" fill="#e2c6a2" stroke="#9d9d9d" stroke-width="0.9" stroke-linejoin="miter"/><polygon points="1087.75,797.00 1087.75,812.50 1083.00,812.50 1092.50,822.00 1102.00,812.50 1097.25,812.50 1097.25,797.00" fill="#e2c6a2" stroke="#9d9d9d" stroke-width="0.9" stroke-linejoin="miter"/><polygon points="978.60,881.75 962.90,881.75 962.90,876.75 953.40,886.50 962.90,896.25 962.90,891.25 978.60,891.25" fill="#e2c6a2" stroke="#9d9d9d" stroke-width="0.9" stroke-linejoin="miter"/>
</svg></body></html>
